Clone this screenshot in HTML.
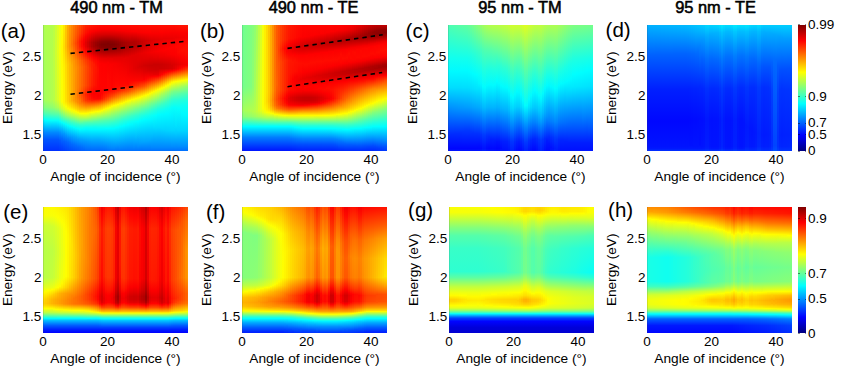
<!DOCTYPE html>
<html><head><meta charset="utf-8"><style>html,body{margin:0;padding:0;background:#fff;}
body{width:844px;height:368px;position:relative;overflow:hidden;font-family:"Liberation Sans",sans-serif;color:#000;}
.hm{position:absolute;width:145px;height:126px;overflow:hidden;}
.hm i{position:absolute;top:0;height:126px;display:block;}
.t{position:absolute;white-space:nowrap;line-height:1;}
.ttl{font-weight:normal;font-size:16.4px;-webkit-text-stroke:0.55px #000;width:200px;text-align:center;}
.pl{font-size:20.5px;}
.yt{font-size:13.5px;width:40px;text-align:right;}
.xt{font-size:13.5px;width:40px;text-align:center;}
.xl{font-size:13.7px;width:200px;text-align:center;}
.yl{font-size:13.6px;width:120px;text-align:center;transform:rotate(-90deg);transform-origin:center center;}
.cl{font-size:13.5px;}
.cb{position:absolute;width:8px;height:126px;left:798px;}
.dl{position:absolute;}
.hm::after{content:"";position:absolute;left:0;top:0;width:1px;height:126px;background:rgba(60,60,60,.15);}
</style></head><body>
<div class="hm" style="left:43px;top:25px"><i style="left:0px;width:2px;background:linear-gradient(#acff53 0px,#9fff60 75.5px,#7fff80 82.5px,#4affb5 88.5px,#03fffc 94.5px,#0083ff 107.5px,#0052ff 115.5px,#0030ff 126px)"></i><i style="left:2px;width:2px;background:linear-gradient(#b2ff4d 0px,#a6ff59 75.5px,#85ff7a 82.5px,#50ffaf 88.5px,#00feff 95.5px,#0088ff 107.5px,#0055ff 114.5px,#0030ff 126px)"></i><i style="left:4px;width:2px;background:linear-gradient(#b3ff4c 0px,#a9ff56 75.5px,#88ff77 82.5px,#53ffac 88.5px,#02fffd 95.5px,#0088ff 107.5px,#0055ff 114.5px,#0030ff 126px)"></i><i style="left:6px;width:2px;background:linear-gradient(#b3ff4c 0px,#acff53 75.5px,#8bff74 82.5px,#56ffa9 88.5px,#03fffc 95.5px,#0088ff 107.5px,#0055ff 114.5px,#0030ff 126px)"></i><i style="left:8px;width:2px;background:linear-gradient(#b3ff4c 0px,#b1ff4e 74.5px,#8eff71 82.5px,#59ffa6 88.5px,#05fffa 95.5px,#00d6ff 99.5px,#0088ff 107.5px,#0055ff 114.5px,#0030ff 126px)"></i><i style="left:10px;width:2px;background:linear-gradient(#bbff44 0px,#bdff42 30.5px,#b7ff48 75.5px,#95ff6a 82.5px,#50ffaf 89.5px,#06fff9 95.5px,#00e1ff 98.5px,#0088ff 107.5px,#0055ff 114.5px,#0030ff 126px)"></i><i style="left:12px;width:2px;background:linear-gradient(#cbff34 0px,#cfff30 27.5px,#c9ff36 74.5px,#a1ff5e 82.5px,#53ffac 89.5px,#06fff9 95.5px,#00e1ff 98.5px,#0088ff 107.5px,#0055ff 114.5px,#0030ff 126px)"></i><i style="left:14px;width:2px;background:linear-gradient(#dcff23 0px,#e2ff1d 25.5px,#dbff24 65.5px,#d9ff26 74.5px,#adff52 82.5px,#4affb5 90.5px,#08fff7 95.5px,#00efff 97.5px,#0089ff 107.5px,#0056ff 114.5px,#0030ff 126px)"></i><i style="left:16px;width:2px;background:linear-gradient(#ecff13 0px,#f4ff0b 24.5px,#ecff13 51.5px,#eaff15 74.5px,#ceff31 80.5px,#aaff55 84.5px,#3cffc3 92.5px,#06fff9 96.5px,#00ecff 98.5px,#0090ff 107.5px,#0057ff 115.5px,#0034ff 126px)"></i><i style="left:18px;width:2px;background:linear-gradient(#fcfe03 0px,#fff700 24.5px,#fbfe04 56.5px,#f9ff06 76.5px,#caff35 83.5px,#5effa1 91.5px,#05fffa 97.5px,#00b4ff 104.5px,#0069ff 113.5px,#0046ff 121.5px,#0038ff 126px)"></i><i style="left:20px;width:2px;background:linear-gradient(#ffe900 0px,#ffde00 22.5px,#fff000 42.5px,#fff500 77.5px,#f3ff0c 80.5px,#d2ff2d 84.5px,#6fff90 91.5px,#11ffee 97.5px,#03fffc 98.5px,#0098ff 108.5px,#005eff 116.5px,#003cff 126px)"></i><i style="left:22px;width:2px;background:linear-gradient(#ffc800 0px,#ffbf00 21.5px,#ffdb00 40.5px,#ffe100 76.5px,#fbff04 81.5px,#e3ff1c 84.5px,#8fff70 90.5px,#2bffd4 96.5px,#03fefc 99.5px,#0092ff 110.5px,#0064ff 116.5px,#0040ff 126px)"></i><i style="left:24px;width:2px;background:linear-gradient(#ffaa00 0px,#ffa200 21.5px,#ffc700 39.5px,#ffcf00 75.5px,#ffdc00 78.5px,#fcfe03 83.5px,#9eff61 90.5px,#45ffba 95.5px,#02fefd 100.5px,#0081ff 113.5px,#0065ff 117.5px,#0044ff 126px)"></i><i style="left:26px;width:2px;background:linear-gradient(#ff9700 0px,#ff8d00 13.5px,#ff8c00 21.5px,#ffb700 38.5px,#ffc000 76.5px,#fcff03 84.5px,#a7ff58 90.5px,#40ffbf 96.5px,#00fdff 101.5px,#0091ff 112.5px,#006cff 117.5px,#0048ff 126px)"></i><i style="left:28px;width:2px;background:linear-gradient(#ff8600 0px,#ff7d00 11.5px,#ff7500 19.5px,#ff9200 29.5px,#ffab00 40.5px,#ffad00 75.5px,#ffd900 81.5px,#fff800 84.5px,#edff12 86.5px,#afff50 90.5px,#39ffc6 97.5px,#06fff9 101.5px,#00efff 103.5px,#0098ff 112.5px,#0068ff 119.5px,#004bff 126px)"></i><i style="left:30px;width:2px;background:linear-gradient(#ff7500 0px,#ff6b00 10.5px,#ff5e00 18.5px,#ff6f00 25.5px,#ff9600 36.5px,#ff9e00 47.5px,#ff9c00 75.5px,#ffd700 82.5px,#fffa00 85.5px,#ebff14 87.5px,#41ffbe 97.5px,#02fffd 102.5px,#00a7ff 111.5px,#006dff 119.5px,#004fff 126px)"></i><i style="left:32px;width:2px;background:linear-gradient(#ff6600 0px,#ff5800 10.5px,#ff4700 18.5px,#ff5600 24.5px,#ff8500 35.5px,#ff9000 43.5px,#ff8b00 64.5px,#ff8900 72.5px,#ff9200 76.5px,#ffd400 83.5px,#fffb00 86.5px,#e7ff18 88.5px,#3affc5 98.5px,#00fcff 103.5px,#00a4ff 112.5px,#006cff 120.5px,#0052ff 126px)"></i><i style="left:34px;width:2px;background:linear-gradient(#ff5800 0px,#ff4900 9.5px,#ff3100 17.5px,#ff3c00 23.5px,#ff7600 35.5px,#ff8200 42.5px,#ff7e00 62.5px,#ff7300 70.5px,#ff8a00 77.5px,#ffd200 84.5px,#fffd00 87.5px,#beff41 91.5px,#31ffce 99.5px,#04fffb 103.5px,#009aff 114.5px,#0065ff 122.5px,#0056ff 126px)"></i><i style="left:36px;width:2px;background:linear-gradient(#ff4b00 0px,#ff3b00 8.5px,#ff1b00 16.5px,#ff1e00 21.5px,#ff6700 35.5px,#ff7400 42.5px,#ff7100 61.5px,#ff5f00 70.5px,#ff8200 78.5px,#ffc600 84.5px,#fbff04 88.5px,#28ffd7 100.5px,#00feff 104.5px,#00a7ff 113.5px,#006eff 121.5px,#0059ff 126px)"></i><i style="left:38px;width:2px;background:linear-gradient(#ff3d00 0px,#ff2a00 8.5px,#ff0800 16.5px,#ff0a00 21.5px,#ff5900 35.5px,#ff6700 42.5px,#ff6400 60.5px,#ff4b00 70.5px,#ff6400 76.5px,#ff9b00 81.5px,#ffe100 86.5px,#feff01 88.5px,#a5ff5a 93.5px,#36ffc9 99.5px,#08fff7 103.5px,#00f3ff 105.5px,#00a1ff 114.5px,#006cff 122.5px,#005dff 126px)"></i><i style="left:40px;width:2px;background:linear-gradient(#ff2f00 0px,#ff1a00 8.5px,#fb0100 14.5px,#f10000 19.5px,#ff0600 24.5px,#ff4600 34.5px,#ff5900 41.5px,#ff5600 60.5px,#ff3600 69.5px,#ff4900 75.5px,#ff8600 80.5px,#ffff00 88.5px,#baff45 92.5px,#54ffab 97.5px,#0efff1 102.5px,#00fbff 104.5px,#009cff 115.5px,#0065ff 124.5px,#0060ff 126px)"></i><i style="left:42px;width:2px;background:linear-gradient(#ff2200 0px,#ff1000 7.5px,#fa0000 11.5px,#df0000 17.5px,#e20000 21.5px,#fe0300 26.5px,#ff3800 34.5px,#ff4b00 41.5px,#ff4800 60.5px,#ff2200 69.5px,#ff3600 75.5px,#ff8d00 81.5px,#ffff00 88.5px,#bbff44 92.5px,#50ffaf 97.5px,#0bfff4 102.5px,#00f9ff 104.5px,#0097ff 116.5px,#0063ff 126px)"></i><i style="left:44px;width:2px;background:linear-gradient(#ff1e00 0px,#ff0800 7.5px,#f50000 10.5px,#d00000 17.5px,#d10000 21.5px,#ff0400 28.5px,#ff3000 35.5px,#ff3f00 42.5px,#ff3a00 60.5px,#ff1500 69.5px,#ff2500 74.5px,#ff3b00 76.5px,#fff400 87.5px,#faff05 88.5px,#b4ff4b 92.5px,#4effb1 97.5px,#0bfff4 102.5px,#00f9ff 104.5px,#009aff 116.5px,#0064ff 126px)"></i><i style="left:46px;width:2px;background:linear-gradient(#ff1a00 0px,#ff0100 7.5px,#c10000 17.5px,#c10000 21.5px,#e30000 26.5px,#fd0100 29.5px,#ff2800 36.5px,#ff3300 43.5px,#ff2d00 60.5px,#ff0a00 69.5px,#ff1c00 74.5px,#ff3700 76.5px,#fffa00 87.5px,#c0ff3f 91.5px,#4dffb2 97.5px,#0cfff3 102.5px,#00faff 104.5px,#009cff 116.5px,#0064ff 126px)"></i><i style="left:48px;width:2px;background:linear-gradient(#ff1700 0px,#fe0100 6.5px,#b20000 17.5px,#b10000 21.5px,#d50000 26.5px,#fe0200 31.5px,#ff2000 37.5px,#ff2700 47.5px,#ff2000 60.5px,#fe0100 69.5px,#ff0d00 73.5px,#ff1f00 75.5px,#ffcf00 84.5px,#fdff02 87.5px,#80ff7f 94.5px,#3effc1 98.5px,#0cfff3 102.5px,#00faff 104.5px,#009eff 116.5px,#0065ff 126px)"></i><i style="left:50px;width:2px;background:linear-gradient(#ff1400 0px,#fb0000 6.5px,#a60000 17.5px,#a40000 21.5px,#c90000 26.5px,#fd0000 32.5px,#ff1b00 39.5px,#ff1800 59.5px,#fb0000 68.5px,#ff0300 72.5px,#ff0f00 74.5px,#ff3400 76.5px,#ffd400 84.5px,#fff600 86.5px,#f8ff07 87.5px,#58ffa7 96.5px,#15ffea 101.5px,#00faff 104.5px,#00a5ff 115.5px,#0065ff 126px)"></i><i style="left:52px;width:2px;background:linear-gradient(#ff1100 0px,#fe0000 5.5px,#c50000 12.5px,#9d0000 17.5px,#980000 20.5px,#ad0000 24.5px,#f60000 32.5px,#ff0700 35.5px,#ff1500 42.5px,#ff0f00 60.5px,#fa0000 68.5px,#ff0600 73.5px,#ff1000 74.5px,#ffc700 83.5px,#fffb00 86.5px,#c0ff3f 90.5px,#55ffaa 96.5px,#15ffea 101.5px,#00faff 104.5px,#00a5ff 115.5px,#0065ff 126px)"></i><i style="left:54px;width:2px;background:linear-gradient(#ff0e00 0px,#fb0000 5.5px,#ca0000 11.5px,#950000 17.5px,#8f0000 20.5px,#a40000 24.5px,#ee0000 32.5px,#ff0300 36.5px,#ff0d00 45.5px,#ff0600 62.5px,#fa0000 70.5px,#ff0600 73.5px,#ff1100 74.5px,#ffa600 81.5px,#feff01 86.5px,#82ff7d 93.5px,#52ffad 96.5px,#0cfff3 102.5px,#00faff 104.5px,#00a5ff 115.5px,#0065ff 126px)"></i><i style="left:56px;width:2px;background:linear-gradient(#ff0b00 0px,#f90000 5.5px,#d10000 10.5px,#950000 16.5px,#870000 19.5px,#8d0000 22.5px,#c40000 28.5px,#ee0000 33.5px,#ff0100 38.5px,#ff0400 58.5px,#fd0000 70.5px,#ff0800 73.5px,#ff1600 74.5px,#ff9a00 80.5px,#fff400 85.5px,#f9ff06 86.5px,#5bffa4 95.5px,#0cfff3 102.5px,#00faff 104.5px,#00a6ff 115.5px,#0065ff 126px)"></i><i style="left:58px;width:2px;background:linear-gradient(#ff0b00 0px,#fd0000 4.5px,#d90000 9.5px,#910000 16.5px,#820000 19.5px,#890000 22.5px,#c10000 28.5px,#ec0000 33.5px,#fe0000 38.5px,#ff0300 59.5px,#ff0200 68.5px,#ff1700 73.5px,#ff2500 74.5px,#ffa700 80.5px,#fdfe02 85.5px,#8aff75 92.5px,#58ffa7 95.5px,#0cfff3 102.5px,#00f9ff 104.5px,#00a1ff 116.5px,#006fff 124.5px,#0066ff 126px)"></i><i style="left:60px;width:2px;background:linear-gradient(#ff0a00 0px,#fd0000 4.5px,#d80000 9.5px,#8e0000 16.5px,#800000 19.5px,#860000 22.5px,#b40000 27.5px,#eb0000 33.5px,#ff0000 39.5px,#ff0300 61.5px,#ff0400 66.5px,#ff2000 72.5px,#ff3700 74.5px,#ffb600 80.5px,#fffc00 84.5px,#94ff6b 91.5px,#55ffaa 95.5px,#0bfff4 102.5px,#00f9ff 104.5px,#00a3ff 116.5px,#0071ff 124.5px,#0068ff 126px)"></i><i style="left:62px;width:2px;background:linear-gradient(#ff0a00 0px,#fd0000 4.5px,#d70000 9.5px,#8c0000 16.5px,#800000 19.5px,#840000 22.5px,#b30000 27.5px,#ea0000 33.5px,#fe0000 39.5px,#ff0300 62.5px,#ff0300 65.5px,#ff2600 71.5px,#ff4800 74.5px,#ffc400 80.5px,#fff800 83.5px,#e7ff18 85.5px,#52ffad 95.5px,#01fffe 103.5px,#009fff 117.5px,#0073ff 124.5px,#006aff 126px)"></i><i style="left:64px;width:2px;background:linear-gradient(#ff0a00 0px,#fd0000 4.5px,#d70000 9.5px,#8c0000 16.5px,#800000 18.5px,#830000 22.5px,#b20000 27.5px,#e30000 32.5px,#fa0000 37.5px,#ff0600 54.5px,#ff0500 65.5px,#ff3300 71.5px,#ff5900 74.5px,#ffd300 80.5px,#fff400 82.5px,#f9ff06 83.5px,#4fffb0 95.5px,#01fffe 103.5px,#00a1ff 117.5px,#007eff 123.5px,#006cff 126px)"></i><i style="left:66px;width:2px;background:linear-gradient(#ff0a00 0px,#fd0000 4.5px,#d70000 9.5px,#8c0000 16.5px,#800000 19.5px,#840000 22.5px,#be0000 28.5px,#e90000 33.5px,#fc0000 39.5px,#ff0700 65.5px,#ff3f00 71.5px,#ff7c00 75.5px,#ffe100 80.5px,#fcff03 82.5px,#4cffb3 95.5px,#00ffff 103.5px,#00a3ff 117.5px,#0081ff 123.5px,#006eff 126px)"></i><i style="left:68px;width:2px;background:linear-gradient(#ff0a00 0px,#fd0000 4.5px,#d80000 9.5px,#8e0000 16.5px,#800000 19.5px,#860000 22.5px,#be0000 28.5px,#e90000 33.5px,#fb0000 39.5px,#ff0300 64.5px,#ff1d00 67.5px,#ff4b00 71.5px,#ff9f00 76.5px,#fff000 80.5px,#fdfd02 81.5px,#92ff6d 89.5px,#34ffcb 97.5px,#00feff 103.5px,#00a5ff 117.5px,#0083ff 123.5px,#006fff 126px)"></i><i style="left:70px;width:2px;background:linear-gradient(#ff0b00 0px,#fd0000 4.5px,#d90000 9.5px,#910000 16.5px,#820000 19.5px,#890000 22.5px,#e20000 32.5px,#f80000 38.5px,#ff0500 58.5px,#ff0700 64.5px,#ff2400 67.5px,#ff5800 71.5px,#ffc200 77.5px,#fffc00 80.5px,#8aff75 89.5px,#30ffcf 97.5px,#00fdff 103.5px,#00a0ff 118.5px,#0084ff 123.5px,#0070ff 126px)"></i><i style="left:72px;width:2px;background:linear-gradient(#ff0b00 0px,#f90000 5.5px,#d10000 10.5px,#950000 16.5px,#870000 19.5px,#8d0000 22.5px,#e20000 32.5px,#f70000 38.5px,#ff0500 56.5px,#ff0f00 64.5px,#ff2f00 67.5px,#ff7600 72.5px,#ffe100 78.5px,#fff500 79.5px,#f9ff06 80.5px,#9aff65 87.5px,#3effc1 95.5px,#02fffd 102.5px,#0095ff 120.5px,#007aff 124.5px,#0070ff 126px)"></i><i style="left:74px;width:2px;background:linear-gradient(#ff0b00 0px,#fa0000 5.5px,#d30000 10.5px,#990000 16.5px,#8c0000 19.5px,#920000 22.5px,#e30000 32.5px,#f50000 38.5px,#ff0500 55.5px,#ff0b00 61.5px,#ff1e00 65.5px,#ff8300 72.5px,#fefe01 79.5px,#92ff6d 87.5px,#38ffc7 95.5px,#00feff 102.5px,#009aff 119.5px,#0079ff 124.5px,#0070ff 126px)"></i><i style="left:76px;width:2px;background:linear-gradient(#ff0b00 0px,#fb0000 5.5px,#cc0000 11.5px,#980000 17.5px,#910000 20.5px,#a40000 24.5px,#e30000 32.5px,#f30000 38.5px,#ff0400 55.5px,#ff0800 60.5px,#ff2600 65.5px,#ff9000 72.5px,#fff800 78.5px,#e5ff1a 80.5px,#72ff8d 89.5px,#29ffd6 96.5px,#02fffd 101.5px,#0082ff 123.5px,#0070ff 126px)"></i><i style="left:78px;width:2px;background:linear-gradient(#ff0b00 0px,#fc0000 5.5px,#d00000 11.5px,#9e0000 17.5px,#9a0000 21.5px,#b90000 26.5px,#e40000 32.5px,#f20000 39.5px,#ff0400 55.5px,#ff0800 60.5px,#ff2e00 65.5px,#ffc000 74.5px,#fbff04 78.5px,#8eff71 86.5px,#34ffcb 94.5px,#00fdff 101.5px,#0081ff 123.5px,#006fff 126px)"></i><i style="left:80px;width:2px;background:linear-gradient(#ff0c00 0px,#fd0000 5.5px,#d30000 11.5px,#a40000 17.5px,#a00000 21.5px,#c50000 27.5px,#e80000 33.5px,#ff0300 54.5px,#ff0900 60.5px,#ff3600 65.5px,#fefd01 77.5px,#86ff79 86.5px,#2dffd2 94.5px,#01fffe 100.5px,#0080ff 123.5px,#006fff 126px)"></i><i style="left:82px;width:2px;background:linear-gradient(#ff0c00 0px,#f90000 6.5px,#a90000 17.5px,#a60000 21.5px,#e50000 32.5px,#ff0300 55.5px,#ff0a00 60.5px,#ff4d00 66.5px,#fffa00 76.5px,#bcff43 81.5px,#45ffba 91.5px,#18ffe7 96.5px,#00fbff 100.5px,#007fff 123.5px,#006fff 126px)"></i><i style="left:84px;width:2px;background:linear-gradient(#ff0c00 0px,#fa0000 6.5px,#ac0000 17.5px,#ab0000 21.5px,#e50000 32.5px,#f40000 47.5px,#ff0300 55.5px,#ff0500 59.5px,#ff2300 62.5px,#ff5600 66.5px,#fff700 75.5px,#f8ff07 76.5px,#a6ff59 82.5px,#3dffc2 91.5px,#13ffec 96.5px,#00feff 99.5px,#007eff 123.5px,#006fff 126px)"></i><i style="left:86px;width:2px;background:linear-gradient(#ff0c00 0px,#fb0000 6.5px,#af0000 17.5px,#af0000 21.5px,#e30000 31.5px,#ed0000 45.5px,#ff0300 55.5px,#ff1200 60.5px,#ff6100 66.5px,#fdff02 75.5px,#9fff60 82.5px,#38ffc7 91.5px,#0ffff0 96.5px,#00fbff 99.5px,#007eff 123.5px,#006fff 126px)"></i><i style="left:88px;width:2px;background:linear-gradient(#ff0d00 0px,#fc0000 6.5px,#c80000 13.5px,#af0000 17.5px,#b30000 21.5px,#e20000 30.5px,#e50000 37.5px,#eb0000 45.5px,#ff0300 55.5px,#ff1900 60.5px,#ff6d00 66.5px,#fffa00 74.5px,#c9ff36 78.5px,#3cffc3 90.5px,#0bfff4 96.5px,#00f9ff 99.5px,#007eff 123.5px,#006fff 126px)"></i><i style="left:90px;width:2px;background:linear-gradient(#ff0d00 0px,#fd0000 6.5px,#d10000 12.5px,#b30000 16.5px,#af0000 19.5px,#e30000 30.5px,#e30000 43.5px,#ff0300 55.5px,#ff2100 60.5px,#ff7800 66.5px,#fff300 73.5px,#fbff04 74.5px,#8fff70 82.5px,#36ffc9 90.5px,#08fff7 96.5px,#00f1ff 100.5px,#0086ff 122.5px,#006fff 126px)"></i><i style="left:92px;width:2px;background:linear-gradient(#ff0d00 0px,#fe0000 6.5px,#d20000 12.5px,#b50000 16.5px,#b20000 19.5px,#e30000 29.5px,#e20000 36.5px,#e00000 43.5px,#ff0400 55.5px,#ff2800 60.5px,#ff9600 67.5px,#fffd00 73.5px,#7bff84 83.5px,#30ffcf 90.5px,#04fffb 96.5px,#00b9ff 112.5px,#007eff 123.5px,#006fff 126px)"></i><i style="left:94px;width:2px;background:linear-gradient(#ff0d00 0px,#fa0000 7.5px,#ba0000 16.5px,#bb0000 20.5px,#e30000 28.5px,#e40000 34.5px,#db0000 42.5px,#ff0400 55.5px,#ff2f00 60.5px,#ffb300 68.5px,#fff700 72.5px,#f7ff08 73.5px,#74ff8b 83.5px,#2bffd4 90.5px,#01fffe 96.5px,#008cff 121.5px,#006fff 126px)"></i><i style="left:96px;width:2px;background:linear-gradient(#ff0e00 0px,#fb0000 7.5px,#c00000 16.5px,#c20000 20.5px,#e60000 28.5px,#e30000 34.5px,#d70000 41.5px,#ff0400 55.5px,#ff4500 61.5px,#fff100 71.5px,#fdff02 72.5px,#85ff7a 81.5px,#2dffd2 89.5px,#01fffe 95.5px,#009cff 118.5px,#006fff 126px)"></i><i style="left:98px;width:2px;background:linear-gradient(#ff0e00 0px,#fc0000 7.5px,#c50000 16.5px,#ca0000 20.5px,#e90000 28.5px,#e10000 34.5px,#d40000 41.5px,#f10000 50.5px,#ff0500 55.5px,#ff4d00 61.5px,#fffc00 71.5px,#64ff9b 83.5px,#1fffe0 90.5px,#00fcff 95.5px,#00a1ff 117.5px,#0077ff 124.5px,#006fff 126px)"></i><i style="left:100px;width:2px;background:linear-gradient(#ff0e00 0px,#fd0000 7.5px,#cd0000 15.5px,#cd0000 19.5px,#ea0000 27.5px,#e40000 33.5px,#d10000 40.5px,#df0000 46.5px,#fd0000 54.5px,#ff1400 56.5px,#ff5600 61.5px,#fff700 70.5px,#e8ff17 72.5px,#5dffa2 83.5px,#1affe5 90.5px,#00feff 94.5px,#00a6ff 116.5px,#007eff 123.5px,#006fff 126px)"></i><i style="left:102px;width:2px;background:linear-gradient(#ff0e00 0px,#fe0000 7.5px,#d10000 15.5px,#d30000 19.5px,#ed0000 27.5px,#e30000 33.5px,#cf0000 40.5px,#dd0000 46.5px,#ff0100 53.5px,#ff0f00 55.5px,#ff6500 61.5px,#fff300 69.5px,#fbff04 70.5px,#9cff63 77.5px,#40ffbf 85.5px,#15ffea 90.5px,#00fcff 94.5px,#00a5ff 116.5px,#007eff 123.5px,#006fff 126px)"></i><i style="left:104px;width:2px;background:linear-gradient(#ff0e00 0px,#fe0000 7.5px,#d50000 15.5px,#dc0000 20.5px,#f00000 27.5px,#e30000 33.5px,#cd0000 40.5px,#d70000 45.5px,#f80000 51.5px,#ff0800 53.5px,#ff1a00 55.5px,#ff8700 62.5px,#fdfe02 69.5px,#91ff6e 77.5px,#39ffc6 85.5px,#11ffee 90.5px,#00faff 94.5px,#00a9ff 115.5px,#007eff 123.5px,#006fff 126px)"></i><i style="left:106px;width:2px;background:linear-gradient(#ff0e00 0px,#ff0000 7.5px,#d90000 15.5px,#e10000 20.5px,#f20000 27.5px,#de0000 34.5px,#cb0000 40.5px,#d50000 45.5px,#f00000 50.5px,#ff0500 52.5px,#ff2400 55.5px,#ffa900 63.5px,#fefc01 68.5px,#7bff84 78.5px,#32ffcd 85.5px,#0dfff2 90.5px,#00f9ff 94.5px,#00adff 114.5px,#007eff 123.5px,#006fff 126px)"></i><i style="left:108px;width:2px;background:linear-gradient(#ff0e00 0px,#fa0000 8.5px,#dc0000 15.5px,#e90000 21.5px,#f40000 27.5px,#de0000 34.5px,#ca0000 40.5px,#d40000 45.5px,#f10000 50.5px,#fd0000 51.5px,#ff2f00 55.5px,#fffb00 67.5px,#71ff8e 78.5px,#32ffcd 84.5px,#09fff6 90.5px,#00f7ff 94.5px,#00c0ff 109.5px,#0086ff 122.5px,#006fff 126px)"></i><i style="left:110px;width:2px;background:linear-gradient(#ff0e00 0px,#fa0000 8.5px,#e00000 14.5px,#e60000 19.5px,#f60000 26.5px,#e70000 32.5px,#ca0000 39.5px,#d00000 44.5px,#e70000 49.5px,#ff0100 51.5px,#ff3900 55.5px,#fff900 66.5px,#d8ff27 69.5px,#5cffa3 79.5px,#2affd5 84.5px,#05fffa 90.5px,#00e0ff 101.5px,#0086ff 122.5px,#006fff 126px)"></i><i style="left:112px;width:2px;background:linear-gradient(#ff0e00 0px,#fa0000 8.5px,#e20000 14.5px,#e90000 19.5px,#f80000 26.5px,#e80000 32.5px,#ca0000 39.5px,#cf0000 44.5px,#e70000 49.5px,#ff0400 51.5px,#ff5700 56.5px,#fff800 65.5px,#e7ff18 67.5px,#51ffae 79.5px,#23ffdc 84.5px,#01fffe 90.5px,#00d8ff 103.5px,#0086ff 122.5px,#006fff 126px)"></i><i style="left:114px;width:2px;background:linear-gradient(#ff0e00 0px,#fa0000 8.5px,#e30000 14.5px,#f00000 20.5px,#fa0000 26.5px,#e30000 33.5px,#ca0000 39.5px,#d00000 44.5px,#e90000 49.5px,#f50000 50.5px,#ff0800 51.5px,#fff700 64.5px,#e8ff17 66.5px,#5dffa2 77.5px,#21ffde 83.5px,#00feff 89.5px,#00dbff 102.5px,#0086ff 122.5px,#006fff 126px)"></i><i style="left:116px;width:2px;background:linear-gradient(#ff0e00 0px,#fe0000 7.5px,#e50000 14.5px,#fc0000 25.5px,#ee0000 31.5px,#cb0000 39.5px,#cd0000 43.5px,#ff0400 50.5px,#fff600 63.5px,#f8ff07 64.5px,#a6ff59 70.5px,#37ffc8 80.5px,#17ffe8 84.5px,#00fdff 89.5px,#00dbff 102.5px,#0086ff 122.5px,#006fff 126px)"></i><i style="left:118px;width:2px;background:linear-gradient(#ff0e00 0px,#fe0000 7.5px,#e60000 14.5px,#fd0000 25.5px,#ee0000 31.5px,#cc0000 39.5px,#ce0000 43.5px,#ff0400 49.5px,#fff400 62.5px,#f9ff06 63.5px,#a4ff5b 69.5px,#39ffc6 79.5px,#14ffeb 84.5px,#00fbff 89.5px,#00d8ff 103.5px,#0086ff 122.5px,#006fff 126px)"></i><i style="left:120px;width:2px;background:linear-gradient(#ff0e00 0px,#fd0000 7.5px,#e80000 13.5px,#f40000 19.5px,#ff0000 25.5px,#eb0000 32.5px,#ce0000 39.5px,#cf0000 43.5px,#f80000 47.5px,#ff1300 49.5px,#ffd200 59.5px,#faff05 62.5px,#a3ff5c 68.5px,#3affc5 78.5px,#10ffef 84.5px,#00faff 89.5px,#00d5ff 104.5px,#0086ff 122.5px,#006fff 126px)"></i><i style="left:122px;width:2px;background:linear-gradient(#ff0e00 0px,#fc0000 7.5px,#e80000 13.5px,#ff0100 24.5px,#f40000 30.5px,#d00000 39.5px,#d10000 43.5px,#ff0300 47.5px,#ff3400 50.5px,#ffc100 57.5px,#fff400 60.5px,#faff05 61.5px,#a1ff5e 67.5px,#3affc5 77.5px,#10ffef 83.5px,#00fcff 88.5px,#00d2ff 105.5px,#0086ff 122.5px,#006fff 126px)"></i><i style="left:124px;width:2px;background:linear-gradient(#ff0e00 0px,#fc0000 7.5px,#e90000 13.5px,#ff0100 23.5px,#f90000 29.5px,#d20000 39.5px,#d30000 43.5px,#eb0000 45.5px,#fb0000 46.5px,#ff3000 49.5px,#ffc300 56.5px,#fff500 59.5px,#f9ff06 60.5px,#93ff6c 67.5px,#39ffc6 76.5px,#0cfff3 83.5px,#00fbff 88.5px,#00d3ff 105.5px,#0086ff 122.5px,#006fff 126px)"></i><i style="left:126px;width:2px;background:linear-gradient(#ff0e00 0px,#fb0000 7.5px,#ea0000 13.5px,#ff0200 23.5px,#fa0000 29.5px,#d40000 39.5px,#d60000 43.5px,#f10000 45.5px,#ff0400 46.5px,#ff6b00 51.5px,#ffd600 56.5px,#fff600 58.5px,#f8ff07 59.5px,#90ff6f 66.5px,#37ffc8 75.5px,#08fff7 83.5px,#00f7ff 89.5px,#00d4ff 105.5px,#0086ff 122.5px,#006fff 126px)"></i><i style="left:128px;width:2px;background:linear-gradient(#ff0e00 0px,#fa0000 7.5px,#ea0000 13.5px,#ff0200 22.5px,#fb0000 29.5px,#d60000 40.5px,#d80000 43.5px,#e30000 44.5px,#f70000 45.5px,#ff0c00 46.5px,#ffe900 56.5px,#fff900 57.5px,#e6ff19 59.5px,#82ff7d 66.5px,#35ffca 74.5px,#07fff8 82.5px,#00f3ff 90.5px,#00d5ff 105.5px,#008cff 121.5px,#006fff 126px)"></i><i style="left:130px;width:2px;background:linear-gradient(#ff0e00 0px,#fa0000 7.5px,#ec0000 13.5px,#ff0200 21.5px,#fc0000 29.5px,#db0000 39.5px,#df0000 43.5px,#fe0200 45.5px,#fff600 56.5px,#f8ff07 57.5px,#78ff87 66.5px,#2fffd0 74.5px,#04fffb 82.5px,#00d5ff 105.5px,#008cff 121.5px,#006fff 126px)"></i><i style="left:132px;width:2px;background:linear-gradient(#ff0f00 0px,#fb0000 7.5px,#ed0000 12.5px,#ff0500 21.5px,#fc0000 30.5px,#df0000 39.5px,#ea0000 43.5px,#f60000 44.5px,#ff0c00 45.5px,#fffc00 56.5px,#75ff8a 66.5px,#2dffd2 74.5px,#05fffa 82.5px,#00e2ff 100.5px,#00c9ff 108.5px,#0086ff 122.5px,#006fff 126px)"></i><i style="left:134px;width:2px;background:linear-gradient(#ff1100 0px,#fb0000 7.5px,#ef0000 12.5px,#ff0500 20.5px,#ff0600 27.5px,#f80000 32.5px,#e40000 39.5px,#f50000 43.5px,#ff0300 44.5px,#fff000 55.5px,#fbff04 56.5px,#96ff69 63.5px,#5dffa2 68.5px,#24ffdb 75.5px,#03fffc 83.5px,#00d5ff 105.5px,#008cff 121.5px,#006fff 126px)"></i><i style="left:136px;width:2px;background:linear-gradient(#ff1200 0px,#fc0000 7.5px,#f10000 12.5px,#ff0500 19.5px,#ff0900 26.5px,#fb0000 32.5px,#e80000 39.5px,#fe0200 43.5px,#ff2200 45.5px,#fff600 55.5px,#f5ff0a 56.5px,#9dff62 62.5px,#5affa5 68.5px,#22ffdd 75.5px,#04fffb 83.5px,#00d5ff 105.5px,#008cff 121.5px,#006fff 126px)"></i><i style="left:138px;width:2px;background:linear-gradient(#ff1300 0px,#fd0000 7.5px,#f20000 12.5px,#ff0400 18.5px,#ff0c00 25.5px,#fb0000 33.5px,#ed0000 39.5px,#ff0300 42.5px,#ff1a00 44.5px,#fffd00 55.5px,#a3ff5c 61.5px,#56ffa9 68.5px,#27ffd8 74.5px,#0cfff3 80.5px,#00faff 88.5px,#00d5ff 105.5px,#008cff 121.5px,#006fff 126px)"></i><i style="left:140px;width:2px;background:linear-gradient(#ff1400 0px,#fd0000 7.5px,#f40000 12.5px,#ff0300 17.5px,#ff0e00 24.5px,#fb0000 34.5px,#f10000 39.5px,#ff0200 41.5px,#ff2600 44.5px,#ffef00 54.5px,#fbff04 55.5px,#9cff63 61.5px,#53ffac 68.5px,#25ffda 74.5px,#0cfff3 80.5px,#00f9ff 89.5px,#00d5ff 105.5px,#008cff 121.5px,#006fff 126px)"></i><i style="left:142px;width:2px;background:linear-gradient(#ff1500 0px,#fa0000 8.5px,#f80000 13.5px,#ff0b00 19.5px,#ff0d00 27.5px,#fa0000 36.5px,#f60000 39.5px,#fb0000 40.5px,#ff3200 44.5px,#fff600 54.5px,#f5ff0a 55.5px,#96ff69 61.5px,#46ffb9 69.5px,#1effe1 75.5px,#09fff6 81.5px,#00f8ff 90.5px,#00d1ff 106.5px,#008cff 121.5px,#006fff 126px)"></i><i style="left:144px;width:1px;background:linear-gradient(#ff1600 0px,#fb0000 8.5px,#f90000 13.5px,#ff0e00 20.5px,#ff0a00 30.5px,#fa0000 38.5px,#ff0000 40.5px,#ff4c00 45.5px,#fffb00 54.5px,#91ff6e 61.5px,#3bffc4 70.5px,#12ffed 77.5px,#00fbff 89.5px,#00d1ff 106.5px,#008cff 121.5px,#006fff 126px)"></i></div><div class="hm" style="left:242px;top:25px"><i style="left:0px;width:2px;background:linear-gradient(#6eff90 0px,#72ff8d 61.5px,#a1ff5e 85.5px,#7dff82 92.5px,#40ffbf 97.5px,#00feff 101.5px,#007bff 112.5px,#002eff 122.5px,#0014ff 126px)"></i><i style="left:2px;width:2px;background:linear-gradient(#75ff8a 0px,#78ff87 61.5px,#a7ff58 85.5px,#8cff73 91.5px,#3affc5 97.5px,#00feff 101.5px,#007bff 112.5px,#002eff 122.5px,#0014ff 126px)"></i><i style="left:4px;width:2px;background:linear-gradient(#78ff87 0px,#7bff84 61.5px,#aaff55 85.5px,#8fff70 91.5px,#49ffb6 96.5px,#00feff 101.5px,#007bff 112.5px,#002eff 122.5px,#0014ff 126px)"></i><i style="left:6px;width:2px;background:linear-gradient(#7bff84 0px,#7eff81 61.5px,#adff52 85.5px,#92ff6d 91.5px,#5affa5 95.5px,#00feff 101.5px,#007bff 112.5px,#002eff 122.5px,#0014ff 126px)"></i><i style="left:8px;width:2px;background:linear-gradient(#7eff81 0px,#81ff7e 61.5px,#b0ff4f 85.5px,#95ff6a 91.5px,#5bffa4 95.5px,#00feff 101.5px,#007bff 112.5px,#002eff 122.5px,#0014ff 126px)"></i><i style="left:10px;width:2px;background:linear-gradient(#85ff7a 0px,#8fff70 62.5px,#b3ff4c 86.5px,#99ff66 91.5px,#6eff91 94.5px,#00feff 101.5px,#007bff 112.5px,#002eff 122.5px,#0014ff 126px)"></i><i style="left:12px;width:2px;background:linear-gradient(#8fff70 0px,#a6ff59 66.5px,#b8ff47 86.5px,#9eff61 91.5px,#72ff8d 94.5px,#00feff 101.5px,#007bff 112.5px,#002eff 122.5px,#0014ff 126px)"></i><i style="left:14px;width:2px;background:linear-gradient(#a1ff5e 0px,#c2ff3d 86.5px,#a4ff5b 91.5px,#75ff8a 94.5px,#00feff 101.5px,#007bff 112.5px,#002eff 122.5px,#0014ff 126px)"></i><i style="left:16px;width:2px;background:linear-gradient(#baff45 0px,#d4ff2b 85.5px,#aaff55 91.5px,#67ff98 95.5px,#00feff 101.5px,#007bff 112.5px,#002eff 122.5px,#0014ff 126px)"></i><i style="left:18px;width:2px;background:linear-gradient(#d6ff29 0px,#e8ff17 70.5px,#e3ff1c 85.5px,#b0ff4f 91.5px,#00feff 101.5px,#007bff 112.5px,#002eff 122.5px,#0014ff 126px)"></i><i style="left:20px;width:2px;background:linear-gradient(#f5ff0a 0px,#fafe05 83.5px,#e3ff1c 87.5px,#a6ff59 92.5px,#00feff 101.5px,#007bff 112.5px,#002eff 122.5px,#0014ff 126px)"></i><i style="left:22px;width:2px;background:linear-gradient(#fff000 0px,#ffee00 67.5px,#ffec00 78.5px,#fff800 84.5px,#efff10 87.5px,#abff54 92.5px,#0ffff0 100.5px,#00feff 101.5px,#007bff 112.5px,#002eff 122.5px,#0014ff 126px)"></i><i style="left:24px;width:2px;background:linear-gradient(#ffdb00 0px,#ffde00 66.5px,#ffd900 76.5px,#ffed00 84.5px,#f9ff06 87.5px,#b0ff4f 92.5px,#0ffff0 100.5px,#00feff 101.5px,#007bff 112.5px,#002eff 122.5px,#0014ff 126px)"></i><i style="left:26px;width:2px;background:linear-gradient(#ffc400 0px,#ffc800 66.5px,#ffc200 76.5px,#ffd300 82.5px,#ffe900 85.5px,#fffc00 87.5px,#d5ff2a 90.5px,#75ff8a 95.5px,#0ffff0 100.5px,#00feff 101.5px,#007bff 112.5px,#002eff 122.5px,#0014ff 126px)"></i><i style="left:28px;width:2px;background:linear-gradient(#ffab00 0px,#ffaf00 65.5px,#ffa500 75.5px,#ffb000 80.5px,#ffcc00 84.5px,#fff500 87.5px,#f9ff06 88.5px,#8aff75 94.5px,#0ffff0 100.5px,#00feff 101.5px,#007bff 112.5px,#002eff 122.5px,#0014ff 126px)"></i><i style="left:30px;width:2px;background:linear-gradient(#ff8f00 0px,#ff9300 65.5px,#ff8500 74.5px,#ff9400 80.5px,#ffb600 84.5px,#fffc00 88.5px,#8bff74 94.5px,#0ffff0 100.5px,#00feff 101.5px,#007bff 112.5px,#002eff 122.5px,#0014ff 126px)"></i><i style="left:32px;width:2px;background:linear-gradient(#ff7000 0px,#ff7200 30.5px,#ff7500 64.5px,#ff6300 74.5px,#ff7400 80.5px,#ff9e00 84.5px,#fbff04 89.5px,#0ffff0 100.5px,#00feff 101.5px,#007bff 112.5px,#002eff 122.5px,#0014ff 126px)"></i><i style="left:34px;width:2px;background:linear-gradient(#ff5a00 0px,#ff5600 19.5px,#ff5800 29.5px,#ff6100 59.5px,#ff5400 68.5px,#ff4900 74.5px,#ff5d00 80.5px,#ff7c00 83.5px,#ffb700 86.5px,#fffb00 89.5px,#24ffdb 99.5px,#00feff 101.5px,#007bff 112.5px,#002eff 122.5px,#0014ff 126px)"></i><i style="left:36px;width:2px;background:linear-gradient(#ff4d00 0px,#ff4800 17.5px,#ff4000 25.5px,#ff5100 38.5px,#ff5000 64.5px,#ff3700 73.5px,#ff4600 79.5px,#ff7100 83.5px,#ffaf00 86.5px,#fff500 89.5px,#f0ff0f 90.5px,#38ffc7 98.5px,#00feff 101.5px,#007bff 112.5px,#002eff 122.5px,#0014ff 126px)"></i><i style="left:38px;width:2px;background:linear-gradient(#ff3f00 0px,#ff3b00 15.5px,#ff2900 24.5px,#ff4200 36.5px,#ff4100 64.5px,#ff2500 73.5px,#ff3600 79.5px,#ff6600 83.5px,#ffa700 86.5px,#fff000 89.5px,#f5ff0a 90.5px,#4dffb2 97.5px,#00feff 101.5px,#007bff 112.5px,#002eff 122.5px,#0014ff 126px)"></i><i style="left:40px;width:2px;background:linear-gradient(#ff3400 0px,#ff3000 14.5px,#ff1600 23.5px,#ff2500 29.5px,#ff3700 37.5px,#ff3400 64.5px,#ff1400 73.5px,#ff2200 78.5px,#ff3100 80.5px,#ff6e00 84.5px,#ffea00 89.5px,#faff05 90.5px,#4dffb2 97.5px,#00feff 101.5px,#007bff 112.5px,#002eff 122.5px,#0014ff 126px)"></i><i style="left:42px;width:2px;background:linear-gradient(#ff2b00 0px,#ff2600 14.5px,#ff0600 23.5px,#ff1300 28.5px,#ff2b00 35.5px,#ff2800 64.5px,#ff0400 73.5px,#ff0e00 77.5px,#ff2300 80.5px,#ff6500 84.5px,#feff01 90.5px,#4dffb2 97.5px,#00feff 101.5px,#007bff 112.5px,#002eff 122.5px,#0014ff 126px)"></i><i style="left:44px;width:2px;background:linear-gradient(#ff2200 0px,#ff1c00 14.5px,#fd0100 21.5px,#fd0100 26.5px,#ff2100 35.5px,#ff1e00 51.5px,#ff1b00 64.5px,#fc0100 70.5px,#f30000 74.5px,#ff0400 78.5px,#ff1600 80.5px,#ff5c00 84.5px,#fffc00 90.5px,#4dffb2 97.5px,#00feff 101.5px,#007bff 112.5px,#002eff 122.5px,#0014ff 126px)"></i><i style="left:46px;width:2px;background:linear-gradient(#ff1a00 0px,#ff1500 13.5px,#fc0000 19.5px,#ef0000 23.5px,#ff0500 29.5px,#ff1800 35.5px,#ff1500 48.5px,#ff0f00 57.5px,#ff1000 64.5px,#fc0000 68.5px,#e40000 73.5px,#ef0000 77.5px,#fc0000 79.5px,#ff0a00 80.5px,#ff5500 84.5px,#fff900 90.5px,#ceff31 92.5px,#4dffb2 97.5px,#00feff 101.5px,#007cff 112.5px,#002eff 122.5px,#0015ff 126px)"></i><i style="left:48px;width:2px;background:linear-gradient(#ff1600 0px,#ff1000 13.5px,#fb0000 18.5px,#ea0000 23.5px,#ff0300 29.5px,#ff1500 35.5px,#ff1200 47.5px,#ff0600 56.5px,#ff0d00 63.5px,#fd0000 67.5px,#df0000 72.5px,#e00000 75.5px,#f80000 79.5px,#ff0700 80.5px,#ff5600 84.5px,#fff900 90.5px,#cfff30 92.5px,#50ffaf 97.5px,#03fffc 101.5px,#0075ff 113.5px,#002fff 122.5px,#0016ff 126px)"></i><i style="left:50px;width:2px;background:linear-gradient(#ff1300 0px,#ff0d00 13.5px,#fb0000 17.5px,#e70000 22.5px,#f00000 26.5px,#ff0600 30.5px,#ff1400 37.5px,#ff0e00 47.5px,#fd0000 54.5px,#ff0900 64.5px,#fa0000 67.5px,#da0000 72.5px,#db0000 75.5px,#f60000 79.5px,#ff0500 80.5px,#ff5800 84.5px,#fff900 90.5px,#d0ff2f 92.5px,#53ffac 97.5px,#07fff8 101.5px,#00edff 103.5px,#0078ff 113.5px,#0038ff 121.5px,#0018ff 126px)"></i><i style="left:52px;width:2px;background:linear-gradient(#ff1000 0px,#ff0b00 12.5px,#fb0000 16.5px,#e40000 21.5px,#e90000 25.5px,#ff0000 29.5px,#ff1100 35.5px,#ff0d00 46.5px,#fa0000 52.5px,#fa0000 57.5px,#ff0600 64.5px,#f70000 67.5px,#d60000 72.5px,#d60000 75.5px,#f30000 79.5px,#ff0400 80.5px,#ff5b00 84.5px,#fff900 90.5px,#d1ff2e 92.5px,#56ffa9 97.5px,#0bfff4 101.5px,#00fdff 102.5px,#007bff 113.5px,#0040ff 120.5px,#0019ff 126px)"></i><i style="left:54px;width:2px;background:linear-gradient(#ff0d00 0px,#ff0700 12.5px,#fb0000 15.5px,#df0000 21.5px,#e70000 25.5px,#ff0300 30.5px,#ff1000 37.5px,#ff0a00 46.5px,#f90000 51.5px,#f40000 56.5px,#ff0500 62.5px,#fb0000 66.5px,#d10000 72.5px,#d20000 75.5px,#f10000 79.5px,#ff0300 80.5px,#ff5e00 84.5px,#ffe100 89.5px,#fff900 90.5px,#d2ff2d 92.5px,#59ffa6 97.5px,#0ffff0 101.5px,#02fffd 102.5px,#007eff 113.5px,#0042ff 120.5px,#001bff 126px)"></i><i style="left:56px;width:2px;background:linear-gradient(#ff0a00 0px,#ff0600 11.5px,#fb0000 14.5px,#db0000 21.5px,#e50000 25.5px,#ff0200 30.5px,#ff0e00 38.5px,#ff0400 47.5px,#f00000 55.5px,#ff0400 62.5px,#f90000 66.5px,#ce0000 72.5px,#cf0000 75.5px,#ef0000 79.5px,#ff0100 80.5px,#ff6100 84.5px,#ffcc00 88.5px,#fff900 90.5px,#d2ff2d 92.5px,#71ff8e 96.5px,#22ffdd 100.5px,#06fff9 102.5px,#00ebff 104.5px,#0080ff 113.5px,#004aff 119.5px,#001cff 126px)"></i><i style="left:58px;width:2px;background:linear-gradient(#ff0700 0px,#ff0200 11.5px,#eb0000 16.5px,#d60000 21.5px,#e30000 25.5px,#ff0000 30.5px,#ff0c00 38.5px,#ff0400 46.5px,#ec0000 54.5px,#ff0300 62.5px,#f70000 66.5px,#ca0000 72.5px,#cc0000 75.5px,#ee0000 79.5px,#ff0100 80.5px,#ff8000 85.5px,#ffcf00 88.5px,#fff900 90.5px,#d3ff2c 92.5px,#74ff8b 96.5px,#25ffda 100.5px,#00fbff 103.5px,#0083ff 113.5px,#004cff 119.5px,#001eff 126px)"></i><i style="left:60px;width:2px;background:linear-gradient(#ff0500 0px,#fc0000 12.5px,#d40000 20.5px,#dd0000 24.5px,#ff0000 30.5px,#ff0b00 38.5px,#fd0000 47.5px,#e90000 53.5px,#f90000 59.5px,#ff0000 64.5px,#e60000 68.5px,#c80000 72.5px,#ca0000 75.5px,#ee0000 79.5px,#ff0200 80.5px,#ff9e00 86.5px,#ffe500 89.5px,#fffa00 90.5px,#d4ff2b 92.5px,#75ff8a 96.5px,#27ffd8 100.5px,#00fdff 103.5px,#0085ff 113.5px,#004dff 119.5px,#001fff 126px)"></i><i style="left:62px;width:2px;background:linear-gradient(#ff0500 0px,#fe0000 11.5px,#d20000 20.5px,#de0000 24.5px,#ff0100 30.5px,#ff0b00 39.5px,#fb0000 47.5px,#e70000 53.5px,#ff0300 62.5px,#fc0000 65.5px,#c70000 72.5px,#c90000 75.5px,#e30000 78.5px,#ff0500 80.5px,#ffd000 88.5px,#fffa00 90.5px,#d3ff2c 92.5px,#75ff8a 96.5px,#27ffd8 100.5px,#00fdff 103.5px,#0085ff 113.5px,#004cff 119.5px,#001fff 126px)"></i><i style="left:64px;width:2px;background:linear-gradient(#ff0500 0px,#fc0000 11.5px,#d20000 19.5px,#d40000 22.5px,#ff0200 30.5px,#ff0b00 39.5px,#fd0000 46.5px,#e60000 52.5px,#f10000 57.5px,#ff0200 61.5px,#fc0000 65.5px,#c70000 72.5px,#c90000 75.5px,#e40000 78.5px,#f30000 79.5px,#ff0800 80.5px,#ffd000 88.5px,#fffa00 90.5px,#d3ff2c 92.5px,#75ff8a 96.5px,#27ffd8 100.5px,#00fdff 103.5px,#0085ff 113.5px,#004cff 119.5px,#001fff 126px)"></i><i style="left:66px;width:2px;background:linear-gradient(#ff0500 0px,#fb0000 11.5px,#d00000 19.5px,#d40000 22.5px,#fe0000 29.5px,#ff0b00 38.5px,#fb0000 46.5px,#e40000 52.5px,#f10000 57.5px,#ff0200 61.5px,#fc0000 65.5px,#c70000 72.5px,#c90000 75.5px,#e50000 78.5px,#f60000 79.5px,#ff0c00 80.5px,#ffd000 88.5px,#fffa00 90.5px,#d3ff2c 92.5px,#75ff8a 96.5px,#27ffd8 100.5px,#00fdff 103.5px,#0085ff 113.5px,#004dff 119.5px,#001fff 126px)"></i><i style="left:68px;width:2px;background:linear-gradient(#ff0500 0px,#fd0000 10.5px,#ce0000 19.5px,#da0000 23.5px,#ff0000 29.5px,#ff0b00 37.5px,#fd0000 45.5px,#e20000 52.5px,#f20000 57.5px,#ff0300 61.5px,#fd0000 65.5px,#c90000 72.5px,#ca0000 75.5px,#d90000 77.5px,#fa0000 79.5px,#ff2800 81.5px,#ffe500 89.5px,#fffa00 90.5px,#d3ff2c 92.5px,#75ff8a 96.5px,#27ffd8 100.5px,#00fdff 103.5px,#0085ff 113.5px,#004dff 119.5px,#001fff 126px)"></i><i style="left:70px;width:2px;background:linear-gradient(#ff0500 0px,#fc0000 10.5px,#ce0000 18.5px,#d00000 21.5px,#ff0100 29.5px,#ff0b00 37.5px,#fb0000 45.5px,#e10000 51.5px,#e80000 55.5px,#ff0100 60.5px,#ff0200 64.5px,#f00000 67.5px,#cb0000 72.5px,#cc0000 75.5px,#db0000 77.5px,#fe0000 79.5px,#ffe500 89.5px,#fffa00 90.5px,#d3ff2c 92.5px,#75ff8a 96.5px,#27ffd8 100.5px,#00fdff 103.5px,#0085ff 113.5px,#004dff 119.5px,#001fff 126px)"></i><i style="left:72px;width:2px;background:linear-gradient(#ff0500 0px,#fe0000 9.5px,#cc0000 18.5px,#d00000 21.5px,#fd0000 28.5px,#ff0b00 37.5px,#fd0000 44.5px,#de0000 51.5px,#e80000 55.5px,#ff0200 60.5px,#ff0300 64.5px,#f20000 67.5px,#cd0000 72.5px,#cf0000 75.5px,#dd0000 77.5px,#ff0300 79.5px,#ffe500 89.5px,#fffa00 90.5px,#b9ff46 93.5px,#61ff9e 97.5px,#27ffd8 100.5px,#00fdff 103.5px,#0085ff 113.5px,#004dff 119.5px,#001fff 126px)"></i><i style="left:74px;width:2px;background:linear-gradient(#ff0500 0px,#fc0000 9.5px,#ca0000 18.5px,#d00000 21.5px,#fe0000 28.5px,#ff0b00 36.5px,#fb0000 44.5px,#de0000 50.5px,#e30000 54.5px,#ff0300 60.5px,#ff0400 64.5px,#f30000 67.5px,#d10000 72.5px,#d30000 75.5px,#e10000 77.5px,#ff0800 79.5px,#fffa00 90.5px,#a0ff5f 94.5px,#27ffd8 100.5px,#00fdff 103.5px,#0085ff 113.5px,#004dff 119.5px,#001fff 126px)"></i><i style="left:76px;width:2px;background:linear-gradient(#ff0500 0px,#fb0000 9.5px,#ca0000 17.5px,#cb0000 20.5px,#ff0000 28.5px,#ff0b00 36.5px,#fe0000 43.5px,#db0000 50.5px,#e30000 54.5px,#ff0000 59.5px,#ff0700 63.5px,#fc0000 66.5px,#d60000 72.5px,#da0000 75.5px,#e90000 77.5px,#f90000 78.5px,#ff2600 80.5px,#fffb00 90.5px,#75ff8a 96.5px,#27ffd8 100.5px,#00feff 103.5px,#0085ff 113.5px,#004dff 119.5px,#001fff 126px)"></i><i style="left:78px;width:2px;background:linear-gradient(#ff0500 0px,#fd0000 8.5px,#d80000 14.5px,#c60000 18.5px,#d80000 22.5px,#fc0000 27.5px,#ff0b00 36.5px,#fc0000 43.5px,#d90000 50.5px,#e30000 54.5px,#ff0100 59.5px,#ff0800 63.5px,#fe0000 66.5px,#db0000 72.5px,#e10000 75.5px,#ff0300 78.5px,#fffd00 90.5px,#75ff8a 96.5px,#27ffd8 100.5px,#00ffff 103.5px,#0085ff 113.5px,#004cff 119.5px,#001fff 126px)"></i><i style="left:80px;width:2px;background:linear-gradient(#ff0500 0px,#fc0000 8.5px,#c50000 17.5px,#cc0000 20.5px,#fd0000 27.5px,#ff0a00 36.5px,#fa0000 43.5px,#d90000 49.5px,#d90000 52.5px,#ff0200 59.5px,#ff0800 64.5px,#fc0000 67.5px,#e10000 72.5px,#e20000 74.5px,#fc0000 77.5px,#ff2100 79.5px,#fffe00 90.5px,#75ff8a 96.5px,#27ffd8 100.5px,#01fffe 103.5px,#0085ff 113.5px,#004dff 119.5px,#001fff 126px)"></i><i style="left:82px;width:2px;background:linear-gradient(#ff0500 0px,#fa0000 8.5px,#c60000 16.5px,#c70000 19.5px,#fe0000 27.5px,#ff0a00 35.5px,#fc0000 42.5px,#d60000 49.5px,#d90000 52.5px,#ff0300 59.5px,#ff0a00 64.5px,#f90000 68.5px,#e60000 73.5px,#fb0000 76.5px,#ff1600 78.5px,#feff01 90.5px,#75ff8a 96.5px,#28ffd7 100.5px,#01fffe 103.5px,#0085ff 113.5px,#004dff 119.5px,#001fff 126px)"></i><i style="left:84px;width:2px;background:linear-gradient(#ff0500 0px,#fc0000 7.5px,#d50000 13.5px,#c30000 16.5px,#c70000 19.5px,#ff0000 27.5px,#ff0a00 35.5px,#fa0000 42.5px,#d40000 49.5px,#d80000 52.5px,#fe0000 58.5px,#ff0c00 63.5px,#fd0000 68.5px,#ed0000 73.5px,#ff0500 76.5px,#ff3200 79.5px,#fdff02 90.5px,#75ff8a 96.5px,#28ffd7 100.5px,#02fffd 103.5px,#0085ff 113.5px,#004dff 119.5px,#001fff 126px)"></i><i style="left:86px;width:2px;background:linear-gradient(#ff0500 0px,#fb0000 7.5px,#c10000 16.5px,#c70000 19.5px,#fc0000 26.5px,#ff0a00 35.5px,#fd0000 41.5px,#d30000 48.5px,#d40000 51.5px,#ff0100 58.5px,#ff0d00 63.5px,#fd0000 69.5px,#f30000 73.5px,#ff0300 75.5px,#ff3a00 79.5px,#fbff04 90.5px,#75ff8a 96.5px,#28ffd7 100.5px,#03fffc 103.5px,#0085ff 113.5px,#004dff 119.5px,#001fff 126px)"></i><i style="left:88px;width:2px;background:linear-gradient(#ff0500 0px,#fd0000 6.5px,#de0000 11.5px,#c20000 15.5px,#c20000 18.5px,#fd0000 26.5px,#ff0a00 35.5px,#fb0000 41.5px,#d10000 48.5px,#d30000 51.5px,#ff0200 58.5px,#ff0e00 64.5px,#fa0000 72.5px,#fe0100 74.5px,#ff4300 79.5px,#fff000 89.5px,#faff05 90.5px,#75ff8a 96.5px,#28ffd7 100.5px,#04fffb 103.5px,#00c3ff 108.5px,#0085ff 113.5px,#004dff 119.5px,#001fff 126px)"></i><i style="left:90px;width:2px;background:linear-gradient(#ff0400 0px,#fc0000 6.5px,#db0000 11.5px,#bf0000 15.5px,#c30000 18.5px,#fe0000 26.5px,#ff0a00 34.5px,#fe0000 40.5px,#ce0000 48.5px,#d30000 51.5px,#fd0000 57.5px,#ff1100 64.5px,#ff0500 73.5px,#ff1700 75.5px,#ff6e00 81.5px,#ffe100 88.5px,#fff300 89.5px,#f7ff08 90.5px,#61ff9e 97.5px,#29ffd6 100.5px,#05fffa 103.5px,#00dfff 106.5px,#0086ff 113.5px,#004eff 119.5px,#001fff 126px)"></i><i style="left:92px;width:2px;background:linear-gradient(#ff0400 0px,#fa0000 6.5px,#ce0000 12.5px,#bd0000 15.5px,#c30000 18.5px,#fb0000 25.5px,#ff0a00 34.5px,#fc0000 40.5px,#ce0000 47.5px,#ce0000 50.5px,#fe0000 57.5px,#ff1600 64.5px,#ff1400 73.5px,#ff3100 76.5px,#ffb300 85.5px,#fff700 89.5px,#f3ff0c 90.5px,#4dffb2 98.5px,#1effe1 101.5px,#05fffa 103.5px,#00e1ff 106.5px,#0089ff 113.5px,#0050ff 119.5px,#0020ff 126px)"></i><i style="left:94px;width:2px;background:linear-gradient(#ff0400 0px,#fc0000 5.5px,#dc0000 10.5px,#bd0000 14.5px,#be0000 17.5px,#fc0000 25.5px,#ff0a00 34.5px,#fa0000 40.5px,#cc0000 47.5px,#ce0000 50.5px,#ff0000 57.5px,#ff1a00 64.5px,#ff2300 73.5px,#ff4b00 77.5px,#ffc900 86.5px,#fffc00 89.5px,#3bffc4 99.5px,#06fff9 103.5px,#00efff 105.5px,#0081ff 114.5px,#0043ff 121.5px,#0022ff 126px)"></i><i style="left:96px;width:2px;background:linear-gradient(#ff0300 0px,#fa0000 5.5px,#d80000 10.5px,#bb0000 14.5px,#be0000 17.5px,#fd0000 25.5px,#ff0a00 33.5px,#fd0000 39.5px,#c90000 47.5px,#ce0000 50.5px,#ff0200 57.5px,#ff1e00 64.5px,#ff3100 73.5px,#ff6300 78.5px,#ffdf00 87.5px,#feff01 89.5px,#3cffc3 99.5px,#07fff8 103.5px,#00f0ff 105.5px,#007aff 115.5px,#0023ff 126px)"></i><i style="left:98px;width:2px;background:linear-gradient(#ff0200 0px,#f80000 5.5px,#d40000 10.5px,#b80000 14.5px,#bf0000 17.5px,#f90000 24.5px,#ff0900 29.5px,#ff0400 37.5px,#f50000 40.5px,#c90000 46.5px,#c90000 49.5px,#fc0000 56.5px,#ff2500 65.5px,#ff3f00 73.5px,#ff8500 80.5px,#fff400 88.5px,#f9ff06 89.5px,#3effc1 99.5px,#08fff7 103.5px,#00f1ff 105.5px,#0072ff 116.5px,#0024ff 126px)"></i><i style="left:100px;width:2px;background:linear-gradient(#ff0100 0px,#f60000 5.5px,#b90000 13.5px,#ba0000 16.5px,#fb0000 24.5px,#ff0a00 33.5px,#fe0000 38.5px,#c60000 46.5px,#c80000 49.5px,#fe0000 56.5px,#ff3200 67.5px,#ff5400 74.5px,#ffa600 82.5px,#fff900 88.5px,#e3ff1c 90.5px,#3fffc0 99.5px,#09fff6 103.5px,#00fdff 104.5px,#006bff 117.5px,#0025ff 126px)"></i><i style="left:102px;width:2px;background:linear-gradient(#ff0000 0px,#f30000 5.5px,#b60000 13.5px,#ba0000 16.5px,#fc0000 24.5px,#ff0900 33.5px,#fc0000 38.5px,#c40000 46.5px,#c80000 49.5px,#ff0000 56.5px,#ff6100 74.5px,#ffae00 82.5px,#fffd00 88.5px,#85ff7a 95.5px,#32ffcd 100.5px,#00feff 104.5px,#0064ff 118.5px,#0027ff 126px)"></i><i style="left:104px;width:2px;background:linear-gradient(#fe0000 0px,#f00000 5.5px,#b80000 12.5px,#b50000 15.5px,#d60000 19.5px,#fe0000 24.5px,#ff0a00 32.5px,#fa0000 38.5px,#c50000 45.5px,#c30000 48.5px,#ff0200 56.5px,#ff5f00 72.5px,#ffb600 82.5px,#fbff04 88.5px,#41ffbe 99.5px,#00ffff 104.5px,#005cff 119.5px,#0028ff 126px)"></i><i style="left:106px;width:2px;background:linear-gradient(#fb0000 0px,#ec0000 5.5px,#b50000 12.5px,#b50000 15.5px,#fa0000 23.5px,#ff0900 28.5px,#ff0300 36.5px,#e90000 40.5px,#c10000 45.5px,#c30000 48.5px,#fc0000 55.5px,#ff7100 73.5px,#ffbf00 82.5px,#fefd01 87.5px,#7eff81 95.5px,#30ffcf 100.5px,#00feff 104.5px,#005cff 119.5px,#0028ff 126px)"></i><i style="left:108px;width:2px;background:linear-gradient(#f90000 0px,#e80000 5.5px,#b20000 12.5px,#b50000 15.5px,#f50000 22.5px,#ff0400 25.5px,#ff0800 33.5px,#fc0000 37.5px,#bf0000 45.5px,#c30000 48.5px,#fe0000 55.5px,#ff9200 76.5px,#ffd400 83.5px,#fffb00 86.5px,#e8ff17 88.5px,#3affc5 99.5px,#07fff8 103.5px,#00f2ff 105.5px,#005dff 119.5px,#0028ff 126px)"></i><i style="left:110px;width:2px;background:linear-gradient(#f60000 0px,#e30000 5.5px,#b30000 11.5px,#b00000 14.5px,#d30000 18.5px,#f70000 22.5px,#ff0700 26.5px,#ff0600 34.5px,#f90000 37.5px,#c00000 44.5px,#be0000 47.5px,#ff0000 55.5px,#ff5900 67.5px,#ffb600 79.5px,#ffdd00 83.5px,#f9ff06 86.5px,#37ffc8 99.5px,#06fff9 103.5px,#00e6ff 106.5px,#0054ff 120.5px,#0028ff 126px)"></i><i style="left:112px;width:2px;background:linear-gradient(#f20000 0px,#dd0000 5.5px,#af0000 11.5px,#b00000 14.5px,#f90000 22.5px,#ff0900 27.5px,#ff0500 34.5px,#f70000 37.5px,#bc0000 44.5px,#bd0000 47.5px,#fa0000 54.5px,#ff0900 56.5px,#ff4c00 64.5px,#ffb600 78.5px,#ffe600 83.5px,#fdff02 85.5px,#33ffcc 99.5px,#04fffb 103.5px,#00c5ff 109.5px,#0054ff 120.5px,#0028ff 126px)"></i><i style="left:114px;width:2px;background:linear-gradient(#ee0000 0px,#d00000 6.5px,#ab0000 11.5px,#b00000 14.5px,#f40000 21.5px,#ff0400 24.5px,#ff0800 32.5px,#fb0000 36.5px,#b90000 44.5px,#bd0000 47.5px,#fc0000 54.5px,#ff0b00 56.5px,#ff5300 64.5px,#ffc800 79.5px,#ffef00 83.5px,#fffd00 84.5px,#30ffcf 99.5px,#03fffc 103.5px,#004cff 121.5px,#0029ff 126px)"></i><i style="left:116px;width:2px;background:linear-gradient(#ea0000 0px,#c90000 6.5px,#a80000 11.5px,#b10000 14.5px,#f60000 21.5px,#ff0400 24.5px,#ff0800 32.5px,#f90000 36.5px,#bb0000 43.5px,#b80000 46.5px,#da0000 50.5px,#fe0000 54.5px,#ff1800 57.5px,#ff5a00 64.5px,#ffda00 80.5px,#fff800 83.5px,#eaff15 85.5px,#51ffae 96.5px,#01fffe 103.5px,#0055ff 120.5px,#0029ff 126px)"></i><i style="left:118px;width:2px;background:linear-gradient(#e50000 0px,#c20000 6.5px,#a70000 10.5px,#aa0000 13.5px,#f80000 21.5px,#ff0700 25.5px,#ff0500 33.5px,#f60000 36.5px,#b80000 43.5px,#b80000 46.5px,#ff0000 54.5px,#ff1b00 57.5px,#ff6100 64.5px,#ffe300 80.5px,#fdff02 83.5px,#64ff9b 94.5px,#00ffff 103.5px,#0056ff 120.5px,#0029ff 126px)"></i><i style="left:120px;width:2px;background:linear-gradient(#df0000 0px,#a30000 10.5px,#aa0000 13.5px,#f30000 20.5px,#ff0300 23.5px,#ff0800 31.5px,#fa0000 35.5px,#b40000 43.5px,#b80000 46.5px,#fa0000 53.5px,#ff1300 56.5px,#ff6000 63.5px,#ffe300 79.5px,#fdfe02 82.5px,#5dffa2 94.5px,#08fff7 102.5px,#00f3ff 104.5px,#0054ff 120.5px,#0028ff 126px)"></i><i style="left:122px;width:2px;background:linear-gradient(#da0000 0px,#a10000 9.5px,#a40000 12.5px,#cc0000 16.5px,#f50000 20.5px,#ff0400 23.5px,#ff0800 31.5px,#f80000 35.5px,#b60000 42.5px,#b20000 45.5px,#d60000 49.5px,#fc0000 53.5px,#ff1800 56.5px,#ff7000 64.5px,#ffec00 79.5px,#fcff03 81.5px,#4cffb3 95.5px,#05fffa 102.5px,#00ddff 106.5px,#0052ff 120.5px,#0028ff 126px)"></i><i style="left:124px;width:2px;background:linear-gradient(#d50000 0px,#9d0000 9.5px,#a30000 12.5px,#f60000 20.5px,#ff0500 23.5px,#ff0700 31.5px,#fc0000 34.5px,#ce0000 39.5px,#b30000 42.5px,#b20000 45.5px,#fe0000 53.5px,#ff2a00 57.5px,#ff7800 64.5px,#ffe900 78.5px,#fdff02 80.5px,#51ffae 94.5px,#02fffd 102.5px,#0048ff 121.5px,#0028ff 126px)"></i><i style="left:126px;width:2px;background:linear-gradient(#cf0000 0px,#9a0000 8.5px,#9d0000 11.5px,#c50000 15.5px,#f10000 19.5px,#ff0300 22.5px,#ff0800 30.5px,#fa0000 34.5px,#c90000 39.5px,#af0000 42.5px,#b20000 45.5px,#f90000 52.5px,#ff0000 53.5px,#ff7f00 64.5px,#fff100 78.5px,#fffd00 79.5px,#55ffaa 93.5px,#00feff 102.5px,#0047ff 121.5px,#0027ff 126px)"></i><i style="left:128px;width:2px;background:linear-gradient(#ca0000 0px,#990000 7.5px,#960000 10.5px,#af0000 13.5px,#eb0000 18.5px,#ff0000 21.5px,#ff0900 28.5px,#fd0000 33.5px,#db0000 37.5px,#b20000 41.5px,#ad0000 44.5px,#c60000 47.5px,#fb0000 52.5px,#ff0c00 54.5px,#ff8700 64.5px,#fff900 78.5px,#eaff15 80.5px,#6fff90 90.5px,#0efff1 100.5px,#00fcff 102.5px,#0045ff 121.5px,#0027ff 126px)"></i><i style="left:130px;width:2px;background:linear-gradient(#c60000 0px,#930000 7.5px,#950000 10.5px,#b10000 13.5px,#ed0000 18.5px,#ff0100 21.5px,#ff0900 28.5px,#fb0000 33.5px,#d70000 37.5px,#ae0000 41.5px,#ac0000 44.5px,#d50000 48.5px,#fd0000 52.5px,#ff0e00 54.5px,#ff8300 63.5px,#ffe000 74.5px,#fdff02 78.5px,#86ff79 87.5px,#25ffda 97.5px,#03fffc 101.5px,#00c2ff 108.5px,#004cff 120.5px,#0027ff 126px)"></i><i style="left:132px;width:2px;background:linear-gradient(#c40000 0px,#930000 6.5px,#8f0000 9.5px,#a70000 12.5px,#f10000 18.5px,#ff0300 21.5px,#ff0800 29.5px,#ff0000 32.5px,#de0000 36.5px,#b20000 40.5px,#a80000 43.5px,#bf0000 46.5px,#fa0000 51.5px,#ff1600 54.5px,#ff8800 63.5px,#fff600 76.5px,#fefe01 77.5px,#81ff7e 87.5px,#23ffdc 97.5px,#02fffd 101.5px,#00b9ff 109.5px,#0046ff 121.5px,#0029ff 126px)"></i><i style="left:134px;width:2px;background:linear-gradient(#c20000 0px,#950000 5.5px,#8c0000 8.5px,#9e0000 11.5px,#eb0000 17.5px,#ff0100 20.5px,#ff0a00 27.5px,#fe0000 32.5px,#da0000 36.5px,#ae0000 40.5px,#a80000 43.5px,#c20000 46.5px,#fe0000 51.5px,#ff2c00 55.5px,#ffa000 65.5px,#fefe01 76.5px,#deff21 79.5px,#87ff78 86.5px,#22ffdd 97.5px,#01fffe 101.5px,#009eff 112.5px,#0041ff 122.5px,#002cff 126px)"></i><i style="left:136px;width:2px;background:linear-gradient(#c10000 0px,#920000 5.5px,#8b0000 8.5px,#a10000 11.5px,#ee0000 17.5px,#ff0300 20.5px,#ff0b00 27.5px,#fc0000 32.5px,#d60000 36.5px,#aa0000 40.5px,#a40000 42.5px,#b80000 45.5px,#ff0400 51.5px,#ffa500 65.5px,#fffc00 75.5px,#e3ff1c 78.5px,#8cff73 85.5px,#30ffcf 95.5px,#00ffff 101.5px,#0083ff 115.5px,#003cff 123.5px,#002fff 126px)"></i><i style="left:138px;width:2px;background:linear-gradient(#c10000 0px,#8f0000 5.5px,#8a0000 8.5px,#a40000 11.5px,#e80000 16.5px,#ff0100 19.5px,#ff0c00 25.5px,#fb0000 32.5px,#d20000 36.5px,#a70000 40.5px,#a30000 42.5px,#bb0000 45.5px,#f90000 50.5px,#ff1500 52.5px,#ffa000 64.5px,#fff900 74.5px,#e6ff19 77.5px,#90ff6f 84.5px,#36ffc9 94.5px,#00feff 101.5px,#0086ff 115.5px,#0047ff 122.5px,#0032ff 126px)"></i><i style="left:140px;width:2px;background:linear-gradient(#c20000 0px,#8e0000 5.5px,#8b0000 8.5px,#a80000 11.5px,#ec0000 16.5px,#ff0300 19.5px,#ff0d00 25.5px,#ff0000 31.5px,#da0000 35.5px,#aa0000 39.5px,#a10000 41.5px,#b20000 44.5px,#fc0000 50.5px,#ff6400 58.5px,#ffc900 68.5px,#feff01 74.5px,#80ff7f 85.5px,#1dffe2 97.5px,#00feff 101.5px,#0089ff 115.5px,#004aff 122.5px,#0035ff 126px)"></i><i style="left:142px;width:2px;background:linear-gradient(#c30000 0px,#940000 4.5px,#880000 7.5px,#9e0000 10.5px,#f00000 16.5px,#ff0000 18.5px,#ff0e00 24.5px,#ff0400 30.5px,#f60000 32.5px,#a70000 39.5px,#a00000 41.5px,#b40000 44.5px,#ff0000 50.5px,#ff4900 55.5px,#ffc500 67.5px,#fffa00 73.5px,#c9ff36 78.5px,#83ff7c 84.5px,#23ffdc 96.5px,#00fdff 101.5px,#008cff 115.5px,#0054ff 121.5px,#0038ff 126px)"></i><i style="left:144px;width:1px;background:linear-gradient(#c40000 0px,#940000 4.5px,#890000 7.5px,#a10000 10.5px,#f20000 16.5px,#ff0200 18.5px,#ff0e00 24.5px,#ff0300 30.5px,#f50000 32.5px,#a40000 39.5px,#9f0000 41.5px,#b60000 44.5px,#ff0200 50.5px,#ff4e00 55.5px,#ffd100 68.5px,#ffff00 73.5px,#87ff78 83.5px,#29ffd6 95.5px,#00fcff 101.5px,#008eff 115.5px,#0056ff 121.5px,#003bff 126px)"></i></div><div class="hm" style="left:448px;top:25px"><i style="left:0px;width:2px;background:linear-gradient(#4cffb3 0px,#0ffff0 33.5px,#00faff 46.5px,#00e0ff 61.5px,#006fff 91.5px,#0027ff 110.5px,#0006ff 123.5px,#0014ff 126px)"></i><i style="left:2px;width:2px;background:linear-gradient(#4fffb0 0px,#10ffef 33.5px,#00faff 46.5px,#00ddff 62.5px,#007cff 88.5px,#002aff 109.5px,#0006ff 123.5px,#0014ff 126px)"></i><i style="left:4px;width:2px;background:linear-gradient(#51ffae 0px,#10ffef 33.5px,#00faff 46.5px,#00ddff 62.5px,#0085ff 86.5px,#002aff 109.5px,#0006ff 123.5px,#0014ff 126px)"></i><i style="left:6px;width:2px;background:linear-gradient(#53ffac 0px,#10ffef 33.5px,#00faff 46.5px,#00ddff 62.5px,#008aff 85.5px,#002dff 108.5px,#0006ff 123.5px,#0014ff 126px)"></i><i style="left:8px;width:2px;background:linear-gradient(#55ffaa 0px,#11ffee 33.5px,#00faff 46.5px,#00ddff 62.5px,#008fff 84.5px,#002dff 108.5px,#0006ff 123.5px,#0014ff 126px)"></i><i style="left:10px;width:2px;background:linear-gradient(#57ffa8 0px,#11ffee 33.5px,#00faff 46.5px,#00ddff 62.5px,#0094ff 83.5px,#002dff 108.5px,#0006ff 123.5px,#0014ff 126px)"></i><i style="left:12px;width:2px;background:linear-gradient(#59ffa6 0px,#11ffee 33.5px,#00fcff 45.5px,#00ddff 62.5px,#0095ff 83.5px,#0030ff 107.5px,#0006ff 123.5px,#0014ff 126px)"></i><i style="left:14px;width:2px;background:linear-gradient(#5bffa4 0px,#12ffed 33.5px,#00fcff 45.5px,#00deff 62.5px,#0096ff 83.5px,#0034ff 106.5px,#0006ff 123.5px,#0014ff 126px)"></i><i style="left:16px;width:2px;background:linear-gradient(#5dffa2 0px,#12ffed 33.5px,#00fcff 45.5px,#00deff 62.5px,#009bff 82.5px,#0037ff 105.5px,#0006ff 123.5px,#0014ff 126px)"></i><i style="left:18px;width:2px;background:linear-gradient(#5fffa0 0px,#12ffed 33.5px,#00fcff 45.5px,#00deff 62.5px,#009cff 82.5px,#0037ff 105.5px,#0006ff 123.5px,#0014ff 126px)"></i><i style="left:20px;width:2px;background:linear-gradient(#64ff9b 0px,#16ffe9 32.5px,#00fcff 46.5px,#00dfff 62.5px,#009dff 82.5px,#0037ff 105.5px,#0006ff 123.5px,#0014ff 126px)"></i><i style="left:22px;width:2px;background:linear-gradient(#6cff93 0px,#1fffe0 30.5px,#00fdff 47.5px,#00deff 63.5px,#009fff 82.5px,#0035ff 106.5px,#0006ff 123.5px,#0014ff 126px)"></i><i style="left:24px;width:2px;background:linear-gradient(#74ff8b 0px,#25ffda 29.5px,#00feff 48.5px,#00e0ff 63.5px,#00a2ff 82.5px,#0032ff 107.5px,#0006ff 123.5px,#0014ff 126px)"></i><i style="left:26px;width:2px;background:linear-gradient(#7cff83 0px,#2bffd4 28.5px,#00feff 49.5px,#00e2ff 63.5px,#00a4ff 82.5px,#0030ff 108.5px,#0006ff 123.5px,#0014ff 126px)"></i><i style="left:28px;width:2px;background:linear-gradient(#84ff7b 0px,#32ffcd 27.5px,#02fffd 49.5px,#00e4ff 63.5px,#00a6ff 82.5px,#0030ff 108.5px,#000bff 121.5px,#0006ff 123.5px,#0014ff 126px)"></i><i style="left:30px;width:2px;background:linear-gradient(#8cff73 0px,#39ffc6 26.5px,#07fff8 48.5px,#00f4ff 58.5px,#00a8ff 82.5px,#0031ff 108.5px,#000dff 120.5px,#0007ff 123.5px,#0015ff 126px)"></i><i style="left:32px;width:2px;background:linear-gradient(#95ff6a 0px,#42ffbd 25.5px,#0ffff0 47.5px,#00f9ff 58.5px,#00aeff 82.5px,#0032ff 109.5px,#000fff 121.5px,#000aff 123.5px,#0018ff 126px)"></i><i style="left:34px;width:2px;background:linear-gradient(#a0ff5f 0px,#4dffb2 24.5px,#1bffe4 46.5px,#00fdff 61.5px,#00b8ff 82.5px,#003bff 109.5px,#0019ff 120.5px,#0012ff 123.5px,#0020ff 126px)"></i><i style="left:36px;width:2px;background:linear-gradient(#a8ff57 0px,#52ffad 24.5px,#1fffe0 45.5px,#00fcff 62.5px,#00baff 82.5px,#0038ff 110.5px,#0017ff 121.5px,#0012ff 123.5px,#0020ff 126px)"></i><i style="left:38px;width:2px;background:linear-gradient(#aeff51 0px,#53ffac 24.5px,#1bffe4 45.5px,#00fbff 60.5px,#00b4ff 82.5px,#0030ff 110.5px,#0011ff 120.5px,#000aff 123.5px,#0018ff 126px)"></i><i style="left:40px;width:2px;background:linear-gradient(#b2ff4d 0px,#55ffaa 24.5px,#1cffe3 44.5px,#00fcff 59.5px,#00b2ff 82.5px,#0029ff 111.5px,#000cff 121.5px,#0007ff 123.5px,#0015ff 126px)"></i><i style="left:42px;width:2px;background:linear-gradient(#b4ff4b 0px,#54ffab 25.5px,#1bffe4 45.5px,#00fcff 59.5px,#00b3ff 82.5px,#001dff 114.5px,#0008ff 123.5px,#0015ff 126px)"></i><i style="left:44px;width:2px;background:linear-gradient(#b6ff49 0px,#54ffab 26.5px,#1dffe2 45.5px,#00fbff 60.5px,#00b4ff 82.5px,#001eff 114.5px,#0009ff 123.5px,#0015ff 126px)"></i><i style="left:46px;width:2px;background:linear-gradient(#b7ff48 0px,#4cffb3 29.5px,#1bffe4 46.5px,#00fcff 59.5px,#00b3ff 82.5px,#001aff 115.5px,#0008ff 123.5px,#0013ff 126px)"></i><i style="left:48px;width:2px;background:linear-gradient(#b8ff47 0px,#37ffc8 35.5px,#01fffe 56.5px,#00afff 82.5px,#0014ff 116.5px,#0005ff 123.5px,#000fff 126px)"></i><i style="left:50px;width:2px;background:linear-gradient(#baff45 0px,#29ffd6 40.5px,#00fcff 58.5px,#00b1ff 82.5px,#0015ff 116.5px,#0006ff 123.5px,#0010ff 126px)"></i><i style="left:52px;width:2px;background:linear-gradient(#bdff42 0px,#2effd1 40.5px,#00fdff 60.5px,#00b2ff 83.5px,#0050ff 104.5px,#001bff 116.5px,#000bff 123.5px,#0014ff 126px)"></i><i style="left:54px;width:2px;background:linear-gradient(#c0ff3f 0px,#2dffd2 42.5px,#00fdff 61.5px,#00b5ff 83.5px,#0059ff 103.5px,#001eff 116.5px,#0010ff 124.5px,#0016ff 126px)"></i><i style="left:56px;width:2px;background:linear-gradient(#c2ff3d 0px,#2cffd3 43.5px,#00fbff 62.5px,#00b3ff 84.5px,#0060ff 102.5px,#001fff 116.5px,#0011ff 124.5px,#0017ff 126px)"></i><i style="left:58px;width:2px;background:linear-gradient(#c4ff3b 0px,#2fffd0 43.5px,#00fdff 62.5px,#00b4ff 84.5px,#0068ff 101.5px,#0020ff 116.5px,#0012ff 124.5px,#0017ff 126px)"></i><i style="left:60px;width:2px;background:linear-gradient(#c8ff37 0px,#36ffc9 43.5px,#00fbff 65.5px,#00bdff 84.5px,#006fff 101.5px,#0027ff 116.5px,#0017ff 124.5px,#001cff 126px)"></i><i style="left:62px;width:2px;background:linear-gradient(#cfff30 0px,#46ffb9 42.5px,#01fcfe 70.5px,#00d2ff 83.5px,#007eff 101.5px,#0034ff 116.5px,#0023ff 124.5px,#0028ff 126px)"></i><i style="left:64px;width:2px;background:linear-gradient(#d1ff2e 0px,#47ffb8 43.5px,#00fbff 72.5px,#00d6ff 83.5px,#007fff 101.5px,#0035ff 116.5px,#0023ff 124.5px,#0028ff 126px)"></i><i style="left:66px;width:2px;background:linear-gradient(#cfff30 0px,#3dffc2 44.5px,#00fbff 69.5px,#00d1ff 82.5px,#006eff 102.5px,#0029ff 116.5px,#0016ff 124.5px,#001bff 126px)"></i><i style="left:68px;width:2px;background:linear-gradient(#cfff30 0px,#36ffc9 45.5px,#00fdff 66.5px,#00d0ff 81.5px,#0065ff 102.5px,#0020ff 116.5px,#000dff 124.5px,#0012ff 126px)"></i><i style="left:70px;width:2px;background:linear-gradient(#cfff30 0px,#56ffa9 35.5px,#13ffec 58.5px,#00faff 67.5px,#00d0ff 81.5px,#005cff 103.5px,#001cff 116.5px,#0009ff 124.5px,#000eff 126px)"></i><i style="left:72px;width:2px;background:linear-gradient(#d3ff2c 0px,#59ffa6 36.5px,#01fdfe 69.5px,#00d9ff 81.5px,#0062ff 103.5px,#0022ff 116.5px,#000dff 124.5px,#0012ff 126px)"></i><i style="left:74px;width:2px;background:linear-gradient(#d9ff26 0px,#49ffb6 45.5px,#00fbff 75.5px,#00e3ff 82.5px,#0030ff 115.5px,#0016ff 124.5px,#001bff 126px)"></i><i style="left:76px;width:2px;background:linear-gradient(#dfff20 0px,#5affa5 44.5px,#01fdfe 80.5px,#0082ff 102.5px,#0037ff 117.5px,#0023ff 124.5px,#0028ff 126px)"></i><i style="left:78px;width:2px;background:linear-gradient(#dbff24 0px,#58ffa7 44.5px,#00fbff 80.5px,#0088ff 101.5px,#003aff 116.5px,#0023ff 124.5px,#0028ff 126px)"></i><i style="left:80px;width:2px;background:linear-gradient(#d3ff2c 0px,#46ffb9 46.5px,#00fcff 74.5px,#00e1ff 82.5px,#007fff 100.5px,#002fff 115.5px,#0017ff 124.5px,#001cff 126px)"></i><i style="left:82px;width:2px;background:linear-gradient(#cdff32 0px,#3affc5 47.5px,#00fcff 70.5px,#00daff 81.5px,#007cff 99.5px,#0026ff 115.5px,#0010ff 124.5px,#0015ff 126px)"></i><i style="left:84px;width:2px;background:linear-gradient(#c7ff38 0px,#2fffd0 48.5px,#00faff 67.5px,#00cbff 82.5px,#007bff 98.5px,#0023ff 114.5px,#000aff 124.5px,#000fff 126px)"></i><i style="left:86px;width:2px;background:linear-gradient(#c3ff3c 0px,#2cffd3 48.5px,#00fdff 65.5px,#00c8ff 82.5px,#0080ff 97.5px,#0027ff 113.5px,#000aff 124.5px,#000fff 126px)"></i><i style="left:88px;width:2px;background:linear-gradient(#c1ff3e 0px,#30ffcf 48.5px,#00fcff 67.5px,#00c7ff 83.5px,#0086ff 97.5px,#002dff 113.5px,#0011ff 124.5px,#0016ff 126px)"></i><i style="left:90px;width:2px;background:linear-gradient(#c1ff3e 0px,#3bffc4 47.5px,#00fcff 70.5px,#00c8ff 85.5px,#0091ff 97.5px,#0033ff 114.5px,#001dff 124.5px,#0022ff 126px)"></i><i style="left:92px;width:2px;background:linear-gradient(#c1ff3e 0px,#4cffb3 42.5px,#09fff6 68.5px,#00f9ff 73.5px,#00b2ff 92.5px,#0037ff 115.5px,#0026ff 124.5px,#002aff 126px)"></i><i style="left:94px;width:2px;background:linear-gradient(#bbff44 0px,#36ffc9 47.5px,#01fbfe 68.5px,#00baff 87.5px,#008eff 97.5px,#0032ff 114.5px,#001dff 124.5px,#0022ff 126px)"></i><i style="left:96px;width:2px;background:linear-gradient(#b5ff4a 0px,#24ffdb 49.5px,#00fcff 63.5px,#00a7ff 88.5px,#007fff 97.5px,#002aff 113.5px,#0011ff 124.5px,#0016ff 126px)"></i><i style="left:98px;width:2px;background:linear-gradient(#b1ff4e 0px,#18ffe7 50.5px,#00fdff 60.5px,#0091ff 91.5px,#0064ff 100.5px,#001aff 115.5px,#000aff 124.5px,#000fff 126px)"></i><i style="left:100px;width:2px;background:linear-gradient(#aeff51 0px,#16ffe9 50.5px,#00faff 60.5px,#007eff 95.5px,#002bff 111.5px,#0014ff 118.5px,#000aff 124.5px,#000fff 126px)"></i><i style="left:102px;width:2px;background:linear-gradient(#aeff51 0px,#1cffe3 49.5px,#00fbff 61.5px,#007dff 96.5px,#002dff 112.5px,#0011ff 122.5px,#0015ff 126px)"></i><i style="left:104px;width:2px;background:linear-gradient(#aeff51 0px,#1fffe0 49.5px,#00fbff 62.5px,#0081ff 96.5px,#0032ff 112.5px,#0014ff 123.5px,#001aff 126px)"></i><i style="left:106px;width:2px;background:linear-gradient(#aeff51 0px,#29ffd6 47.5px,#00feff 63.5px,#0088ff 96.5px,#003bff 112.5px,#001cff 123.5px,#0022ff 126px)"></i><i style="left:108px;width:2px;background:linear-gradient(#acff53 0px,#27ffd8 47.5px,#00fbff 63.5px,#0080ff 97.5px,#0032ff 114.5px,#001dff 124.5px,#0022ff 126px)"></i><i style="left:110px;width:2px;background:linear-gradient(#a5ff5a 0px,#1dffe2 47.5px,#00fbff 60.5px,#0076ff 97.5px,#002aff 114.5px,#0016ff 124.5px,#001bff 126px)"></i><i style="left:112px;width:2px;background:linear-gradient(#9fff60 0px,#19ffe6 46.5px,#00fcff 58.5px,#0072ff 97.5px,#0023ff 115.5px,#0012ff 124.5px,#0017ff 126px)"></i><i style="left:114px;width:2px;background:linear-gradient(#99ff66 0px,#18ffe7 45.5px,#00faff 58.5px,#0070ff 97.5px,#0023ff 115.5px,#0012ff 124.5px,#0017ff 126px)"></i><i style="left:116px;width:2px;background:linear-gradient(#94ff6b 0px,#18ffe7 43.5px,#00faff 57.5px,#006bff 98.5px,#0020ff 116.5px,#0012ff 124.5px,#0017ff 126px)"></i><i style="left:118px;width:2px;background:linear-gradient(#8eff71 0px,#19ffe6 41.5px,#00fbff 56.5px,#00d2ff 69.5px,#0065ff 99.5px,#0020ff 116.5px,#0012ff 124.5px,#0017ff 126px)"></i><i style="left:120px;width:2px;background:linear-gradient(#89ff76 0px,#17ffe8 40.5px,#00fbff 55.5px,#00dfff 65.5px,#0060ff 100.5px,#001eff 117.5px,#0012ff 124.5px,#0017ff 126px)"></i><i style="left:122px;width:2px;background:linear-gradient(#83ff7c 0px,#1affe5 37.5px,#00fcff 53.5px,#00e5ff 63.5px,#005bff 101.5px,#001eff 117.5px,#0012ff 124.5px,#0017ff 126px)"></i><i style="left:124px;width:2px;background:linear-gradient(#7fff80 0px,#20ffdf 33.5px,#01fffe 49.5px,#00eaff 61.5px,#0057ff 102.5px,#001eff 117.5px,#0012ff 124.5px,#0017ff 126px)"></i><i style="left:126px;width:2px;background:linear-gradient(#7dff82 0px,#1fffe0 33.5px,#00ffff 49.5px,#00e6ff 62.5px,#0057ff 102.5px,#001eff 117.5px,#0012ff 124.5px,#0017ff 126px)"></i><i style="left:128px;width:2px;background:linear-gradient(#7cff83 0px,#1effe1 33.5px,#00ffff 48.5px,#00e8ff 61.5px,#0057ff 102.5px,#001eff 117.5px,#0012ff 124.5px,#0017ff 126px)"></i><i style="left:130px;width:2px;background:linear-gradient(#7bff84 0px,#1dffe2 33.5px,#00feff 48.5px,#00e7ff 61.5px,#0057ff 102.5px,#001eff 117.5px,#0012ff 124.5px,#0017ff 126px)"></i><i style="left:132px;width:2px;background:linear-gradient(#7aff85 0px,#1cffe3 33.5px,#00ffff 47.5px,#00e6ff 61.5px,#005bff 101.5px,#001eff 117.5px,#0012ff 124.5px,#0017ff 126px)"></i><i style="left:134px;width:2px;background:linear-gradient(#79ff86 0px,#1bffe4 33.5px,#00feff 47.5px,#00e5ff 61.5px,#007aff 93.5px,#001eff 117.5px,#0012ff 124.5px,#0017ff 126px)"></i><i style="left:136px;width:2px;background:linear-gradient(#78ff87 0px,#1affe5 33.5px,#00feff 46.5px,#00e4ff 61.5px,#0080ff 91.5px,#001eff 117.5px,#0012ff 124.5px,#0017ff 126px)"></i><i style="left:138px;width:2px;background:linear-gradient(#77ff88 0px,#19ffe6 33.5px,#00ffff 45.5px,#00e3ff 61.5px,#0085ff 89.5px,#004aff 105.5px,#001eff 117.5px,#0012ff 124.5px,#0017ff 126px)"></i><i style="left:140px;width:2px;background:linear-gradient(#76ff89 0px,#18ffe7 33.5px,#00feff 45.5px,#00e2ff 61.5px,#008bff 87.5px,#005bff 101.5px,#001eff 117.5px,#0012ff 124.5px,#0017ff 126px)"></i><i style="left:142px;width:2px;background:linear-gradient(#75ff8a 0px,#17ffe8 33.5px,#00feff 44.5px,#00e1ff 61.5px,#008dff 86.5px,#0063ff 99.5px,#001eff 117.5px,#0012ff 124.5px,#0017ff 126px)"></i><i style="left:144px;width:1px;background:linear-gradient(#74ff8b 0px,#16ffe9 33.5px,#00fdff 44.5px,#00e0ff 61.5px,#008dff 86.5px,#0063ff 99.5px,#001eff 117.5px,#0012ff 124.5px,#0017ff 126px)"></i></div><div class="hm" style="left:647px;top:25px"><i style="left:0px;width:2px;background:linear-gradient(#00b1ff 0px,#0060ff 30.5px,#001fff 64.5px,#0007ff 96.5px,#0013ff 121.5px,#0018ff 123.5px,#0030ff 126px)"></i><i style="left:2px;width:2px;background:linear-gradient(#00b2ff 0px,#0060ff 30.5px,#001fff 64.5px,#0007ff 96.5px,#0013ff 121.5px,#0018ff 123.5px,#0030ff 126px)"></i><i style="left:4px;width:2px;background:linear-gradient(#00b2ff 0px,#0060ff 30.5px,#001fff 64.5px,#0007ff 96.5px,#0013ff 121.5px,#0018ff 123.5px,#0030ff 126px)"></i><i style="left:6px;width:2px;background:linear-gradient(#00b3ff 0px,#0060ff 30.5px,#001fff 64.5px,#0007ff 96.5px,#0013ff 121.5px,#0018ff 123.5px,#0030ff 126px)"></i><i style="left:8px;width:2px;background:linear-gradient(#00b3ff 0px,#0062ff 29.5px,#001fff 64.5px,#0007ff 96.5px,#0013ff 121.5px,#0018ff 123.5px,#0030ff 126px)"></i><i style="left:10px;width:2px;background:linear-gradient(#00b4ff 0px,#0062ff 29.5px,#001fff 64.5px,#0007ff 96.5px,#0013ff 121.5px,#0018ff 123.5px,#0030ff 126px)"></i><i style="left:12px;width:2px;background:linear-gradient(#00b4ff 0px,#0062ff 29.5px,#001fff 64.5px,#0007ff 96.5px,#0013ff 121.5px,#0018ff 123.5px,#0030ff 126px)"></i><i style="left:14px;width:2px;background:linear-gradient(#00b5ff 0px,#0062ff 29.5px,#001fff 64.5px,#0007ff 96.5px,#0013ff 121.5px,#0018ff 123.5px,#0030ff 126px)"></i><i style="left:16px;width:2px;background:linear-gradient(#00b5ff 0px,#0062ff 29.5px,#001fff 64.5px,#0007ff 96.5px,#0013ff 121.5px,#0018ff 123.5px,#0030ff 126px)"></i><i style="left:18px;width:2px;background:linear-gradient(#00b6ff 0px,#0062ff 29.5px,#001fff 64.5px,#0007ff 96.5px,#0013ff 121.5px,#0018ff 123.5px,#0030ff 126px)"></i><i style="left:20px;width:2px;background:linear-gradient(#00b6ff 0px,#0062ff 29.5px,#001fff 64.5px,#0007ff 96.5px,#0013ff 121.5px,#0018ff 123.5px,#0030ff 126px)"></i><i style="left:22px;width:2px;background:linear-gradient(#00b7ff 0px,#0062ff 29.5px,#001fff 64.5px,#0007ff 96.5px,#0013ff 121.5px,#0018ff 123.5px,#0030ff 126px)"></i><i style="left:24px;width:2px;background:linear-gradient(#00b7ff 0px,#0062ff 29.5px,#001fff 64.5px,#0007ff 96.5px,#0013ff 121.5px,#0018ff 123.5px,#0030ff 126px)"></i><i style="left:26px;width:2px;background:linear-gradient(#00b8ff 0px,#0064ff 28.5px,#001fff 64.5px,#0007ff 96.5px,#0013ff 121.5px,#0018ff 123.5px,#0030ff 126px)"></i><i style="left:28px;width:2px;background:linear-gradient(#00b8ff 0px,#0064ff 28.5px,#001fff 64.5px,#0007ff 96.5px,#0013ff 121.5px,#0018ff 123.5px,#0030ff 126px)"></i><i style="left:30px;width:2px;background:linear-gradient(#00b9ff 0px,#0064ff 28.5px,#001fff 64.5px,#0007ff 96.5px,#0013ff 121.5px,#0018ff 123.5px,#0030ff 126px)"></i><i style="left:32px;width:2px;background:linear-gradient(#00b9ff 0px,#0064ff 28.5px,#001fff 64.5px,#0007ff 96.5px,#0013ff 121.5px,#0018ff 123.5px,#0030ff 126px)"></i><i style="left:34px;width:2px;background:linear-gradient(#00baff 0px,#0064ff 28.5px,#001fff 64.5px,#0007ff 96.5px,#0013ff 121.5px,#0018ff 123.5px,#0030ff 126px)"></i><i style="left:36px;width:2px;background:linear-gradient(#00baff 0px,#0064ff 28.5px,#001fff 64.5px,#0007ff 96.5px,#0013ff 121.5px,#0018ff 123.5px,#0030ff 126px)"></i><i style="left:38px;width:2px;background:linear-gradient(#00bbff 0px,#0064ff 28.5px,#001fff 64.5px,#0007ff 96.5px,#0013ff 121.5px,#0018ff 123.5px,#0030ff 126px)"></i><i style="left:40px;width:2px;background:linear-gradient(#00bcff 0px,#0065ff 28.5px,#001fff 64.5px,#0007ff 96.5px,#0013ff 121.5px,#0018ff 123.5px,#0030ff 126px)"></i><i style="left:42px;width:2px;background:linear-gradient(#00beff 0px,#0066ff 28.5px,#0021ff 63.5px,#0008ff 95.5px,#0011ff 120.5px,#0018ff 123.5px,#0030ff 126px)"></i><i style="left:44px;width:2px;background:linear-gradient(#00c0ff 0px,#0067ff 28.5px,#0022ff 63.5px,#0009ff 95.5px,#0011ff 120.5px,#0018ff 123.5px,#0030ff 126px)"></i><i style="left:46px;width:2px;background:linear-gradient(#00c2ff 0px,#0068ff 28.5px,#0023ff 63.5px,#000aff 95.5px,#0013ff 121.5px,#0018ff 123.5px,#0030ff 126px)"></i><i style="left:48px;width:2px;background:linear-gradient(#00c4ff 0px,#006aff 28.5px,#0023ff 63.5px,#000aff 95.5px,#0013ff 121.5px,#0018ff 123.5px,#0030ff 126px)"></i><i style="left:50px;width:2px;background:linear-gradient(#00c6ff 0px,#006fff 26.5px,#0024ff 63.5px,#000bff 95.5px,#0013ff 121.5px,#0018ff 123.5px,#0030ff 126px)"></i><i style="left:52px;width:2px;background:linear-gradient(#00c8ff 0px,#0082ff 20.5px,#0027ff 61.5px,#000dff 93.5px,#000fff 119.5px,#0018ff 123.5px,#0030ff 126px)"></i><i style="left:54px;width:2px;background:linear-gradient(#00caff 0px,#0093ff 15.5px,#0060ff 34.5px,#0025ff 63.5px,#000dff 95.5px,#0013ff 121.5px,#0018ff 123.5px,#0031ff 126px)"></i><i style="left:56px;width:2px;background:linear-gradient(#00cdff 0px,#009bff 13.5px,#0063ff 34.5px,#0028ff 63.5px,#000fff 95.5px,#0015ff 121.5px,#001aff 123.5px,#0032ff 126px)"></i><i style="left:58px;width:2px;background:linear-gradient(#00d5ff 0px,#00a9ff 11.5px,#006dff 33.5px,#002fff 63.5px,#0016ff 95.5px,#001bff 121.5px,#0020ff 123.5px,#0038ff 126px)"></i><i style="left:60px;width:2px;background:linear-gradient(#00d7ff 0px,#00adff 10.5px,#006eff 33.5px,#002fff 63.5px,#0016ff 95.5px,#001bff 121.5px,#0020ff 123.5px,#0038ff 126px)"></i><i style="left:62px;width:2px;background:linear-gradient(#00d3ff 0px,#00abff 9.5px,#0069ff 33.5px,#002aff 63.5px,#0011ff 95.5px,#0015ff 121.5px,#001aff 123.5px,#0032ff 126px)"></i><i style="left:64px;width:2px;background:linear-gradient(#00d3ff 0px,#00aeff 8.5px,#0068ff 33.5px,#0029ff 63.5px,#0010ff 95.5px,#0013ff 121.5px,#0018ff 123.5px,#0031ff 126px)"></i><i style="left:66px;width:2px;background:linear-gradient(#00d5ff 0px,#00afff 8.5px,#0067ff 34.5px,#0029ff 63.5px,#0011ff 95.5px,#0013ff 121.5px,#0018ff 123.5px,#0030ff 126px)"></i><i style="left:68px;width:2px;background:linear-gradient(#00d7ff 0px,#00b3ff 7.5px,#0068ff 34.5px,#002aff 63.5px,#0011ff 95.5px,#0013ff 121.5px,#0018ff 123.5px,#0030ff 126px)"></i><i style="left:70px;width:2px;background:linear-gradient(#00d9ff 0px,#00b4ff 7.5px,#0067ff 35.5px,#002bff 63.5px,#0012ff 95.5px,#0014ff 121.5px,#0019ff 123.5px,#0031ff 126px)"></i><i style="left:72px;width:2px;background:linear-gradient(#00e0ff 0px,#00bbff 7.5px,#006fff 34.5px,#0031ff 63.5px,#0018ff 95.5px,#001aff 121.5px,#001fff 123.5px,#0037ff 126px)"></i><i style="left:74px;width:2px;background:linear-gradient(#00e9ff 0px,#00c3ff 7.5px,#007aff 33.5px,#0039ff 63.5px,#0020ff 95.5px,#0022ff 121.5px,#0027ff 123.5px,#003fff 126px)"></i><i style="left:76px;width:2px;background:linear-gradient(#00e2ff 0px,#00bcff 7.5px,#0072ff 33.5px,#0031ff 63.5px,#0018ff 95.5px,#001aff 121.5px,#001fff 123.5px,#0037ff 126px)"></i><i style="left:78px;width:2px;background:linear-gradient(#00dcff 0px,#00baff 6.5px,#0071ff 31.5px,#002bff 63.5px,#0012ff 95.5px,#0014ff 121.5px,#0019ff 123.5px,#0031ff 126px)"></i><i style="left:80px;width:2px;background:linear-gradient(#00ddff 0px,#00b9ff 6.5px,#0070ff 31.5px,#002aff 63.5px,#0012ff 95.5px,#0013ff 121.5px,#0018ff 123.5px,#0030ff 126px)"></i><i style="left:82px;width:2px;background:linear-gradient(#00ddff 0px,#00baff 6.5px,#0070ff 31.5px,#002aff 63.5px,#0012ff 95.5px,#0013ff 121.5px,#0018ff 123.5px,#0031ff 126px)"></i><i style="left:84px;width:2px;background:linear-gradient(#00e0ff 0px,#00bdff 6.5px,#0072ff 31.5px,#002dff 63.5px,#0014ff 95.5px,#0016ff 121.5px,#001bff 123.5px,#0033ff 126px)"></i><i style="left:86px;width:2px;background:linear-gradient(#00ebff 0px,#00c7ff 6.5px,#007cff 31.5px,#0036ff 63.5px,#001dff 95.5px,#001fff 121.5px,#0024ff 123.5px,#003cff 126px)"></i><i style="left:88px;width:2px;background:linear-gradient(#00ebff 0px,#00c7ff 6.5px,#007eff 30.5px,#0037ff 62.5px,#001eff 94.5px,#001fff 121.5px,#0024ff 123.5px,#003cff 126px)"></i><i style="left:90px;width:2px;background:linear-gradient(#00e3ff 0px,#00beff 6.5px,#0075ff 30.5px,#002eff 62.5px,#0015ff 94.5px,#0016ff 121.5px,#001bff 123.5px,#0033ff 126px)"></i><i style="left:92px;width:2px;background:linear-gradient(#00e1ff 0px,#00bcff 6.5px,#0073ff 30.5px,#002bff 62.5px,#0012ff 94.5px,#0013ff 121.5px,#0018ff 123.5px,#0031ff 126px)"></i><i style="left:94px;width:2px;background:linear-gradient(#00e2ff 0px,#00bcff 6.5px,#0072ff 30.5px,#002bff 62.5px,#0012ff 94.5px,#0013ff 121.5px,#0018ff 123.5px,#0031ff 126px)"></i><i style="left:96px;width:2px;background:linear-gradient(#00e2ff 0px,#00bdff 6.5px,#0074ff 30.5px,#002dff 62.5px,#0013ff 97.5px,#0016ff 121.5px,#001bff 123.5px,#0032ff 126px)"></i><i style="left:98px;width:2px;background:linear-gradient(#00e6ff 0px,#00c1ff 6.5px,#0077ff 31.5px,#0034ff 62.5px,#0019ff 100.5px,#001dff 121.5px,#002bff 124.5px,#0039ff 126px)"></i><i style="left:100px;width:2px;background:linear-gradient(#00e4ff 0px,#00c0ff 6.5px,#0076ff 31.5px,#0034ff 62.5px,#001aff 101.5px,#001eff 121.5px,#002bff 124.5px,#0039ff 126px)"></i><i style="left:102px;width:2px;background:linear-gradient(#00dcff 0px,#00b8ff 6.5px,#006dff 32.5px,#002dff 62.5px,#0015ff 103.5px,#0019ff 121.5px,#0026ff 124.5px,#0033ff 126px)"></i><i style="left:104px;width:2px;background:linear-gradient(#00d8ff 0px,#00b5ff 6.5px,#0069ff 33.5px,#002cff 62.5px,#0014ff 106.5px,#0018ff 121.5px,#0025ff 124.5px,#0032ff 126px)"></i><i style="left:106px;width:2px;background:linear-gradient(#00d6ff 0px,#00b4ff 6.5px,#0066ff 34.5px,#002cff 62.5px,#0016ff 107.5px,#0019ff 121.5px,#0026ff 124.5px,#0032ff 126px)"></i><i style="left:108px;width:2px;background:linear-gradient(#00d6ff 0px,#00b5ff 6.5px,#0063ff 36.5px,#002fff 62.5px,#0019ff 107.5px,#001dff 121.5px,#0029ff 124.5px,#0035ff 126px)"></i><i style="left:110px;width:2px;background:linear-gradient(#00deff 0px,#00bdff 6.5px,#0067ff 38.5px,#0038ff 62.5px,#0023ff 108.5px,#0027ff 121.5px,#0033ff 124.5px,#003eff 126px)"></i><i style="left:112px;width:2px;background:linear-gradient(#00dcff 0px,#00bbff 6.5px,#0062ff 40.5px,#0038ff 62.5px,#0024ff 108.5px,#0028ff 121.5px,#0034ff 124.5px,#003fff 126px)"></i><i style="left:114px;width:2px;background:linear-gradient(#00d1ff 0px,#00b1ff 6.5px,#0056ff 41.5px,#002fff 62.5px,#001cff 109.5px,#0020ff 121.5px,#002bff 124.5px,#0035ff 126px)"></i><i style="left:116px;width:2px;background:linear-gradient(#00ceff 0px,#00afff 6.5px,#0054ff 41.5px,#002dff 62.5px,#001aff 109.5px,#001eff 121.5px,#0029ff 124.5px,#0033ff 126px)"></i><i style="left:118px;width:2px;background:linear-gradient(#00ceff 0px,#00acff 7.5px,#0052ff 42.5px,#002eff 62.5px,#001bff 109.5px,#001fff 121.5px,#002aff 124.5px,#0033ff 126px)"></i><i style="left:120px;width:2px;background:linear-gradient(#00ceff 0px,#00adff 7.5px,#0052ff 42.5px,#002fff 62.5px,#001cff 109.5px,#001fff 121.5px,#002aff 124.5px,#0034ff 126px)"></i><i style="left:122px;width:2px;background:linear-gradient(#00ceff 0px,#00adff 7.5px,#0055ff 41.5px,#0031ff 63.5px,#001fff 109.5px,#0022ff 121.5px,#002dff 124.5px,#0035ff 126px)"></i><i style="left:124px;width:2px;background:linear-gradient(#00ceff 0px,#00aaff 8.5px,#0061ff 37.5px,#0040ff 64.5px,#002dff 112.5px,#002fff 121.5px,#0038ff 124.5px,#0040ff 126px)"></i><i style="left:126px;width:2px;background:linear-gradient(#00ceff 0px,#00a7ff 9.5px,#006dff 33.5px,#0063ff 46.5px,#0043ff 120.5px,#004bff 124.5px,#0052ff 126px)"></i><i style="left:128px;width:2px;background:linear-gradient(#00cfff 0px,#00a8ff 9.5px,#006bff 34.5px,#0064ff 47.5px,#0044ff 120.5px,#004cff 124.5px,#0052ff 126px)"></i><i style="left:130px;width:2px;background:linear-gradient(#00cfff 0px,#00a5ff 10.5px,#005bff 40.5px,#0041ff 66.5px,#002fff 112.5px,#0031ff 121.5px,#0040ff 126px)"></i><i style="left:132px;width:2px;background:linear-gradient(#00cfff 0px,#00a2ff 11.5px,#0050ff 44.5px,#0034ff 64.5px,#0022ff 110.5px,#0026ff 121.5px,#0036ff 126px)"></i><i style="left:134px;width:2px;background:linear-gradient(#00cfff 0px,#00a0ff 12.5px,#004fff 44.5px,#0033ff 63.5px,#0020ff 109.5px,#0024ff 121.5px,#0035ff 126px)"></i><i style="left:136px;width:2px;background:linear-gradient(#00cfff 0px,#009eff 13.5px,#004fff 44.5px,#0033ff 64.5px,#0021ff 109.5px,#0025ff 121.5px,#0035ff 126px)"></i><i style="left:138px;width:2px;background:linear-gradient(#00cfff 0px,#009eff 13.5px,#004fff 44.5px,#0034ff 64.5px,#0022ff 109.5px,#0025ff 121.5px,#0035ff 126px)"></i><i style="left:140px;width:2px;background:linear-gradient(#00cfff 0px,#009eff 13.5px,#0051ff 43.5px,#0034ff 64.5px,#0022ff 109.5px,#0026ff 121.5px,#0035ff 126px)"></i><i style="left:142px;width:2px;background:linear-gradient(#00cfff 0px,#009eff 13.5px,#0051ff 43.5px,#0035ff 64.5px,#0023ff 109.5px,#0027ff 121.5px,#0035ff 126px)"></i><i style="left:144px;width:1px;background:linear-gradient(#00cfff 0px,#009cff 14.5px,#0051ff 43.5px,#0036ff 64.5px,#0024ff 109.5px,#0027ff 121.5px,#0036ff 126px)"></i></div><div class="hm" style="left:43px;top:207px"><i style="left:0px;width:2px;background:linear-gradient(#fffb00 0px,#f8ff07 8.5px,#ccff33 18.5px,#b8ff47 44.5px,#baff45 70.5px,#e0ff1f 80.5px,#fffa00 85.5px,#ffd600 92.5px,#ffcf00 96.5px,#ffde00 98.5px,#fdff02 101.5px,#bbff44 105.5px,#a2ff5d 106.5px,#1dffe2 110.5px,#00faff 111.5px,#00bdff 113.5px,#005bff 118.5px,#001fff 122.5px,#0000ff 126px)"></i><i style="left:2px;width:2px;background:linear-gradient(#fffb00 0px,#f8ff07 8.5px,#cdff32 18.5px,#b9ff46 44.5px,#bcff43 70.5px,#e2ff1d 80.5px,#fffc00 84.5px,#ffce00 92.5px,#ffc900 96.5px,#ffd900 98.5px,#ffff00 101.5px,#bbff44 105.5px,#a2ff5d 106.5px,#1dffe2 110.5px,#00faff 111.5px,#00bdff 113.5px,#005bff 118.5px,#001fff 122.5px,#0000ff 126px)"></i><i style="left:4px;width:2px;background:linear-gradient(#fffb00 0px,#f8ff07 8.5px,#ceff31 18.5px,#bbff44 44.5px,#beff41 70.5px,#e5ff1a 80.5px,#feff01 83.5px,#ffca00 91.5px,#ffc200 96.5px,#ffd500 98.5px,#fffd00 101.5px,#bbff44 105.5px,#81ff7e 107.5px,#00faff 111.5px,#00bdff 113.5px,#005bff 118.5px,#001fff 122.5px,#0000ff 126px)"></i><i style="left:6px;width:2px;background:linear-gradient(#fffb00 0px,#f8ff07 8.5px,#cfff30 18.5px,#bcff43 44.5px,#c1ff3e 70.5px,#e7ff18 80.5px,#fffb00 83.5px,#ffce00 89.5px,#ffbe00 92.5px,#ffbc00 96.5px,#ffd000 98.5px,#fffc00 101.5px,#bbff44 105.5px,#81ff7e 107.5px,#00faff 111.5px,#00bdff 113.5px,#005bff 118.5px,#001fff 122.5px,#0000ff 126px)"></i><i style="left:8px;width:2px;background:linear-gradient(#fffb00 0px,#f8ff07 8.5px,#cfff30 19.5px,#bdff42 44.5px,#c3ff3c 70.5px,#e9ff16 80.5px,#fdff02 82.5px,#ffcd00 88.5px,#ffb600 92.5px,#ffb500 96.5px,#ffcc00 98.5px,#fffa00 101.5px,#bcff43 105.5px,#81ff7e 107.5px,#00faff 111.5px,#00bdff 113.5px,#005bff 118.5px,#001fff 122.5px,#0000ff 126px)"></i><i style="left:10px;width:2px;background:linear-gradient(#fff900 0px,#faff05 8.5px,#d3ff2c 19.5px,#c2ff3d 44.5px,#c9ff36 70.5px,#efff10 80.5px,#fffa00 82.5px,#ffcb00 87.5px,#ffaf00 92.5px,#ffaf00 96.5px,#ffc600 98.5px,#fff600 101.5px,#f5ff0a 102.5px,#bdff42 105.5px,#82ff7d 107.5px,#00faff 111.5px,#00bdff 113.5px,#005bff 118.5px,#001fff 122.5px,#0000ff 126px)"></i><i style="left:12px;width:2px;background:linear-gradient(#fff600 0px,#fbff04 9.5px,#d8ff27 20.5px,#cbff34 44.5px,#d3ff2c 70.5px,#f8ff07 80.5px,#fff000 82.5px,#ffc700 86.5px,#ffa900 92.5px,#ffa900 96.5px,#ffc100 98.5px,#faff05 102.5px,#c0ff3f 105.5px,#84ff7b 107.5px,#00faff 111.5px,#00bdff 113.5px,#005bff 118.5px,#001fff 122.5px,#0000ff 126px)"></i><i style="left:14px;width:2px;background:linear-gradient(#fff300 0px,#fdff02 10.5px,#deff21 21.5px,#d4ff2b 45.5px,#ddff22 70.5px,#fffd00 80.5px,#ffbb00 86.5px,#ffa300 92.5px,#ffa400 96.5px,#ffbb00 98.5px,#fefe01 102.5px,#c4ff3b 105.5px,#85ff7a 107.5px,#1dffe2 110.5px,#00faff 111.5px,#00bdff 113.5px,#005bff 118.5px,#001fff 122.5px,#0000ff 126px)"></i><i style="left:16px;width:2px;background:linear-gradient(#fff000 0px,#fcff03 12.5px,#e5ff1a 21.5px,#deff21 46.5px,#eaff15 71.5px,#fffb00 79.5px,#ffb100 86.5px,#ff9d00 93.5px,#ff9e00 96.5px,#ffb500 98.5px,#fffa00 102.5px,#c7ff38 105.5px,#87ff78 107.5px,#1dffe2 110.5px,#00faff 111.5px,#00bdff 113.5px,#005bff 118.5px,#001fff 122.5px,#0000ff 126px)"></i><i style="left:18px;width:2px;background:linear-gradient(#ffed00 0px,#fcff03 14.5px,#edff12 23.5px,#e8ff17 48.5px,#f0ff0f 70.5px,#fffa00 76.5px,#ffe900 80.5px,#ffaa00 86.5px,#ff9700 93.5px,#ff9800 96.5px,#ffb000 98.5px,#fff800 102.5px,#dcff23 104.5px,#abff54 106.5px,#1dffe2 110.5px,#00faff 111.5px,#00bdff 113.5px,#005bff 118.5px,#001fff 122.5px,#0000ff 126px)"></i><i style="left:20px;width:2px;background:linear-gradient(#ffea00 0px,#fcff03 17.5px,#f1ff0e 46.5px,#f9ff06 70.5px,#ffec00 77.5px,#ffdd00 80.5px,#ffa400 86.5px,#ff9100 93.5px,#ff9200 96.5px,#ff9a00 97.5px,#ffe000 101.5px,#fff600 102.5px,#f3ff0c 103.5px,#c7ff38 105.5px,#87ff78 107.5px,#1dffe2 110.5px,#00faff 111.5px,#00bdff 113.5px,#005bff 118.5px,#001fff 122.5px,#0000ff 126px)"></i><i style="left:22px;width:2px;background:linear-gradient(#ffe700 0px,#fefe01 24.5px,#fefe01 69.5px,#ffd200 80.5px,#ff9e00 86.5px,#ff8b00 93.5px,#ff8c00 96.5px,#ff9500 97.5px,#ffde00 101.5px,#fff400 102.5px,#f4ff0b 103.5px,#c8ff37 105.5px,#87ff78 107.5px,#1dffe2 110.5px,#00faff 111.5px,#00bdff 113.5px,#005bff 118.5px,#001fff 122.5px,#0000ff 126px)"></i><i style="left:24px;width:2px;background:linear-gradient(#ffe200 0px,#fff600 28.5px,#fff400 69.5px,#ffc700 80.5px,#ff9800 86.5px,#ff8500 92.5px,#ff8600 96.5px,#ff8f00 97.5px,#fff100 102.5px,#f6ff09 103.5px,#c9ff36 105.5px,#88ff77 107.5px,#1dffe2 110.5px,#00faff 111.5px,#00bdff 113.5px,#005bff 118.5px,#001fff 122.5px,#0000ff 126px)"></i><i style="left:26px;width:2px;background:linear-gradient(#ffd900 0px,#ffeb00 31.5px,#ffe600 70.5px,#ffb400 81.5px,#ff8e00 87.5px,#ff7f00 93.5px,#ff8000 96.5px,#ff8a00 97.5px,#ffee00 102.5px,#f9ff06 103.5px,#ccff33 105.5px,#8aff75 107.5px,#1dffe2 110.5px,#00faff 111.5px,#00bdff 113.5px,#005bff 118.5px,#001fff 122.5px,#0000ff 126px)"></i><i style="left:28px;width:2px;background:linear-gradient(#ffd000 0px,#ffe200 39.5px,#ffdb00 70.5px,#ffaa00 81.5px,#ff8400 88.5px,#ff7900 93.5px,#ff7a00 96.5px,#ff8400 97.5px,#fcff03 103.5px,#cfff30 105.5px,#8cff73 107.5px,#1dffe2 110.5px,#00faff 111.5px,#00bdff 113.5px,#005bff 118.5px,#001fff 122.5px,#0000ff 126px)"></i><i style="left:30px;width:2px;background:linear-gradient(#ffc700 0px,#ffd500 46.5px,#ffcf00 70.5px,#ff9500 83.5px,#ff7400 91.5px,#ff7400 96.5px,#ff7f00 97.5px,#ffff00 103.5px,#d2ff2d 105.5px,#8dff72 107.5px,#1dffe2 110.5px,#00faff 111.5px,#00bdff 113.5px,#005bff 118.5px,#001fff 122.5px,#0000ff 126px)"></i><i style="left:32px;width:2px;background:linear-gradient(#ffbb00 0px,#ffc700 48.5px,#ffc100 70.5px,#ff7000 90.5px,#ff7000 96.5px,#ff7c00 97.5px,#ffff00 103.5px,#d2ff2d 105.5px,#8eff71 107.5px,#1dffe2 110.5px,#00faff 111.5px,#00bdff 113.5px,#005bff 118.5px,#001fff 122.5px,#0000ff 126px)"></i><i style="left:34px;width:2px;background:linear-gradient(#ffb000 0px,#ffba00 48.5px,#ffb200 70.5px,#ff6b00 89.5px,#ff6800 93.5px,#ff6d00 96.5px,#ff7900 97.5px,#ffff00 103.5px,#d2ff2d 105.5px,#8eff71 107.5px,#1dffe2 110.5px,#00faff 111.5px,#00bdff 113.5px,#005bff 118.5px,#001fff 122.5px,#0000ff 126px)"></i><i style="left:36px;width:2px;background:linear-gradient(#ffa400 0px,#ffac00 48.5px,#ffa100 71.5px,#ff6400 89.5px,#ff6200 93.5px,#ff6900 96.5px,#ff7600 97.5px,#ffff00 103.5px,#d2ff2d 105.5px,#8eff71 107.5px,#1dffe2 110.5px,#00faff 111.5px,#00bdff 113.5px,#005bff 118.5px,#001fff 122.5px,#0000ff 126px)"></i><i style="left:38px;width:2px;background:linear-gradient(#ff9a00 0px,#ffa200 36.5px,#ff9700 70.5px,#ff5b00 89.5px,#ff5c00 93.5px,#ff6500 96.5px,#ff7200 97.5px,#fffd00 103.5px,#d4ff2b 105.5px,#8fff70 107.5px,#1effe1 110.5px,#00fbff 111.5px,#00bdff 113.5px,#005bff 118.5px,#001fff 122.5px,#0000ff 126px)"></i><i style="left:40px;width:2px;background:linear-gradient(#ff9300 0px,#ff9600 49.5px,#ff8a00 71.5px,#ff5300 88.5px,#ff5100 92.5px,#ff5f00 96.5px,#ff6d00 97.5px,#fffa00 103.5px,#d6ff29 105.5px,#91ff6e 107.5px,#20ffdf 110.5px,#00fcff 111.5px,#00bdff 113.5px,#005bff 118.5px,#001fff 122.5px,#0000ff 126px)"></i><i style="left:42px;width:2px;background:linear-gradient(#ff8b00 0px,#ff8b00 51.5px,#ff8000 71.5px,#ff4a00 87.5px,#ff4900 92.5px,#ff5900 96.5px,#ff6800 97.5px,#fff600 103.5px,#f0ff0f 104.5px,#baff45 106.5px,#00fdff 111.5px,#00bdff 113.5px,#005bff 118.5px,#001fff 122.5px,#0000ff 126px)"></i><i style="left:44px;width:2px;background:linear-gradient(#ff8300 0px,#ff8000 54.5px,#ff7600 71.5px,#ff4000 87.5px,#ff4100 92.5px,#ff5400 96.5px,#ff6200 97.5px,#fff300 103.5px,#f3ff0c 104.5px,#bdff42 106.5px,#00feff 111.5px,#00d9ff 112.5px,#00bdff 113.5px,#005bff 118.5px,#001fff 122.5px,#0000ff 126px)"></i><i style="left:46px;width:2px;background:linear-gradient(#ff7900 0px,#ff7500 54.5px,#ff6c00 71.5px,#ff3500 87.5px,#ff3700 92.5px,#ff4d00 96.5px,#ff5c00 97.5px,#ffec00 103.5px,#faff05 104.5px,#c0ff3f 106.5px,#00feff 111.5px,#00d9ff 112.5px,#00bdff 113.5px,#005bff 118.5px,#001fff 122.5px,#0000ff 126px)"></i><i style="left:48px;width:2px;background:linear-gradient(#ff6d00 0px,#ff7200 30.5px,#ff6100 71.5px,#ff2a00 87.5px,#ff2c00 92.5px,#ff4400 96.5px,#ff5400 97.5px,#fffb00 104.5px,#e6ff19 105.5px,#9dff62 107.5px,#22ffdd 110.5px,#00fdff 111.5px,#00bdff 113.5px,#005bff 118.5px,#001fff 122.5px,#0000ff 126px)"></i><i style="left:50px;width:2px;background:linear-gradient(#ff6000 0px,#ff6b00 25.5px,#ff5700 71.5px,#ff2800 84.5px,#ff1d00 89.5px,#ff2100 92.5px,#ff3c00 96.5px,#ff4c00 97.5px,#fff200 104.5px,#ecff13 105.5px,#a0ff5f 107.5px,#20ffdf 110.5px,#00fcff 111.5px,#00bdff 113.5px,#005bff 118.5px,#001fff 122.5px,#0000ff 126px)"></i><i style="left:52px;width:2px;background:linear-gradient(#ff5300 0px,#ff6300 23.5px,#ff4c00 71.5px,#ff1c00 84.5px,#ff1100 89.5px,#ff1600 92.5px,#ff3300 96.5px,#ff4300 97.5px,#ffb700 102.5px,#ffe800 104.5px,#f2ff0d 105.5px,#a3ff5c 107.5px,#46ffb9 109.5px,#1effe1 110.5px,#00fbff 111.5px,#00bdff 113.5px,#005bff 118.5px,#001fff 122.5px,#0000ff 126px)"></i><i style="left:54px;width:2px;background:linear-gradient(#ff3c00 0px,#ff5200 22.5px,#ff3c00 71.5px,#ff0e00 84.5px,#fd0400 89.5px,#ff0600 92.5px,#ff2300 96.5px,#ff4c00 98.5px,#ffbf00 103.5px,#fbff04 105.5px,#a9ff56 107.5px,#20ffdf 110.5px,#00fdff 111.5px,#00beff 113.5px,#005cff 118.5px,#001fff 122.5px,#0000ff 126px)"></i><i style="left:56px;width:2px;background:linear-gradient(#ff1200 0px,#ff3000 22.5px,#ff1d00 71.5px,#f90200 82.5px,#e50000 89.5px,#e70000 92.5px,#fc0600 96.5px,#ff1500 97.5px,#ff7900 101.5px,#ffcd00 104.5px,#fff700 105.5px,#ddff22 106.5px,#26ffd9 110.5px,#03fffc 111.5px,#00c2ff 113.5px,#005fff 118.5px,#001fff 122.5px,#0000ff 126px)"></i><i style="left:58px;width:2px;background:linear-gradient(#f40000 0px,#ff0700 10.5px,#ff1a00 22.5px,#ff0a00 71.5px,#f90000 78.5px,#d50000 89.5px,#d80000 93.5px,#e00000 95.5px,#ff0100 97.5px,#ff4500 100.5px,#ffbf00 104.5px,#ffec00 105.5px,#e6ff19 106.5px,#2bffd4 110.5px,#09fff6 111.5px,#00e6ff 112.5px,#00c5ff 113.5px,#0050ff 119.5px,#001fff 122.5px,#0000ff 126px)"></i><i style="left:60px;width:2px;background:linear-gradient(#fd0400 0px,#ff2a00 21.5px,#ff2000 69.5px,#fa0200 83.5px,#e60000 91.5px,#ee0000 95.5px,#f90000 96.5px,#ff1f00 98.5px,#ff4500 100.5px,#ffbb00 104.5px,#ffe800 105.5px,#e9ff16 106.5px,#2effd1 110.5px,#0cfff3 111.5px,#00e9ff 112.5px,#00c7ff 113.5px,#003eff 120.5px,#0014ff 123.5px,#0000ff 126px)"></i><i style="left:62px;width:2px;background:linear-gradient(#ff1300 0px,#ff3b00 21.5px,#ff3100 69.5px,#ff1100 82.5px,#fd0000 87.5px,#f60000 92.5px,#fd0000 95.5px,#ff0800 96.5px,#ff4c00 100.5px,#ffbd00 104.5px,#ffe900 105.5px,#e9ff16 106.5px,#2effd1 110.5px,#0cfff3 111.5px,#00e9ff 112.5px,#00c7ff 113.5px,#003eff 120.5px,#0014ff 123.5px,#0000ff 126px)"></i><i style="left:64px;width:2px;background:linear-gradient(#ff1800 0px,#ff4000 21.5px,#ff3500 70.5px,#ff1200 83.5px,#fe0000 88.5px,#fc0000 93.5px,#ff0200 95.5px,#ff1e00 97.5px,#ff4e00 100.5px,#ffbd00 104.5px,#ffe900 105.5px,#e9ff16 106.5px,#2effd1 110.5px,#0cfff3 111.5px,#00e9ff 112.5px,#00c7ff 113.5px,#003eff 120.5px,#0014ff 123.5px,#0000ff 126px)"></i><i style="left:66px;width:2px;background:linear-gradient(#ff1700 0px,#ff3f00 21.5px,#ff3500 70.5px,#ff1500 82.5px,#fc0000 88.5px,#fb0000 93.5px,#ff0200 95.5px,#ff1d00 97.5px,#ff4e00 100.5px,#ffbd00 104.5px,#ffe900 105.5px,#e9ff16 106.5px,#2effd1 110.5px,#0cfff3 111.5px,#00e9ff 112.5px,#00c7ff 113.5px,#003eff 120.5px,#0014ff 123.5px,#0000ff 126px)"></i><i style="left:68px;width:2px;background:linear-gradient(#ff1200 0px,#ff3a00 21.5px,#ff3000 70.5px,#ff1000 82.5px,#fd0000 86.5px,#f20000 91.5px,#fc0000 95.5px,#ff0800 96.5px,#ff4c00 100.5px,#ffbd00 104.5px,#ffe900 105.5px,#e9ff16 106.5px,#2effd1 110.5px,#0cfff3 111.5px,#00e9ff 112.5px,#00c7ff 113.5px,#003eff 120.5px,#0014ff 123.5px,#0000ff 126px)"></i><i style="left:70px;width:2px;background:linear-gradient(#fc0500 0px,#ff2a00 21.5px,#ff2000 70.5px,#fb0300 82.5px,#e10000 90.5px,#ed0000 95.5px,#f90000 96.5px,#ff2000 98.5px,#ff4500 100.5px,#ffbb00 104.5px,#ffe800 105.5px,#e9ff16 106.5px,#2effd1 110.5px,#0cfff3 111.5px,#00e9ff 112.5px,#00c7ff 113.5px,#003eff 120.5px,#0014ff 123.5px,#0000ff 126px)"></i><i style="left:72px;width:2px;background:linear-gradient(#d60000 0px,#f70500 19.5px,#f00000 72.5px,#d30000 82.5px,#b70000 89.5px,#bb0000 93.5px,#c60000 95.5px,#d40000 96.5px,#fc0600 98.5px,#ff3300 100.5px,#ffb700 104.5px,#ffe600 105.5px,#ebff14 106.5px,#2effd1 110.5px,#0cfff3 111.5px,#00e9ff 112.5px,#00c7ff 113.5px,#003eff 120.5px,#0014ff 123.5px,#0000ff 126px)"></i><i style="left:74px;width:2px;background:linear-gradient(#c40000 0px,#eb0000 21.5px,#e20000 70.5px,#c10000 82.5px,#a40000 89.5px,#a50000 92.5px,#b60000 95.5px,#c50000 96.5px,#f60000 98.5px,#ff1100 99.5px,#ff2b00 100.5px,#ffb600 104.5px,#ffe400 105.5px,#ecff13 106.5px,#2effd1 110.5px,#0cfff3 111.5px,#00e9ff 112.5px,#00c7ff 113.5px,#003eff 120.5px,#0014ff 123.5px,#0000ff 126px)"></i><i style="left:76px;width:2px;background:linear-gradient(#f00000 0px,#ff1500 18.5px,#ff1400 57.5px,#fc0a00 74.5px,#ed0000 82.5px,#cf0000 89.5px,#d40000 93.5px,#de0000 95.5px,#fa0500 97.5px,#ff3f00 100.5px,#ffba00 104.5px,#ffe700 105.5px,#eaff15 106.5px,#2effd1 110.5px,#0cfff3 111.5px,#00e9ff 112.5px,#00c7ff 113.5px,#003eff 120.5px,#0014ff 123.5px,#0000ff 126px)"></i><i style="left:78px;width:2px;background:linear-gradient(#ff1200 0px,#ff3a00 21.5px,#ff3100 70.5px,#ff1400 81.5px,#fa0000 86.5px,#ee0000 91.5px,#fc0000 95.5px,#ff0900 96.5px,#ff4d00 100.5px,#ffbd00 104.5px,#ffe900 105.5px,#e9ff16 106.5px,#2effd1 110.5px,#0cfff3 111.5px,#00e9ff 112.5px,#00c7ff 113.5px,#003eff 120.5px,#0014ff 123.5px,#0000ff 126px)"></i><i style="left:80px;width:2px;background:linear-gradient(#ff1500 0px,#ff3d00 21.5px,#ff3200 71.5px,#ff1300 82.5px,#fd0000 86.5px,#f00000 91.5px,#fe0100 95.5px,#ff1e00 97.5px,#ff4f00 100.5px,#ffbe00 104.5px,#ffe900 105.5px,#e9ff16 106.5px,#2effd1 110.5px,#0cfff3 111.5px,#00e9ff 112.5px,#00c7ff 113.5px,#003eff 120.5px,#0014ff 123.5px,#0000ff 126px)"></i><i style="left:82px;width:2px;background:linear-gradient(#ff0b00 0px,#ff3300 21.5px,#ff2900 71.5px,#ff0d00 81.5px,#f80000 85.5px,#e70000 90.5px,#f20000 94.5px,#ff0300 96.5px,#ff4b00 100.5px,#ffbd00 104.5px,#ffe900 105.5px,#e9ff16 106.5px,#2effd1 110.5px,#0cfff3 111.5px,#00e9ff 112.5px,#00c7ff 113.5px,#003eff 120.5px,#0014ff 123.5px,#0000ff 126px)"></i><i style="left:84px;width:2px;background:linear-gradient(#fd0100 0px,#ff2700 21.5px,#ff1d00 71.5px,#fc0000 82.5px,#dc0000 89.5px,#dc0000 92.5px,#ec0000 95.5px,#f90000 96.5px,#ff2000 98.5px,#ff4600 100.5px,#ffbc00 104.5px,#ffe800 105.5px,#e9ff16 106.5px,#2effd1 110.5px,#0cfff3 111.5px,#00e9ff 112.5px,#00c7ff 113.5px,#003eff 120.5px,#0014ff 123.5px,#0000ff 126px)"></i><i style="left:86px;width:2px;background:linear-gradient(#f50000 0px,#ff0700 9.5px,#ff1d00 21.5px,#ff1400 71.5px,#fb0000 80.5px,#d20000 89.5px,#d30000 92.5px,#e40000 95.5px,#ff0600 97.5px,#ff4200 100.5px,#ffbb00 104.5px,#ffe800 105.5px,#eaff15 106.5px,#2effd1 110.5px,#0cfff3 111.5px,#00e9ff 112.5px,#00c7ff 113.5px,#003eff 120.5px,#0014ff 123.5px,#0000ff 126px)"></i><i style="left:88px;width:2px;background:linear-gradient(#f40000 0px,#ff0600 9.5px,#ff1c00 21.5px,#ff1300 71.5px,#fb0000 80.5px,#d10000 89.5px,#d20000 92.5px,#e40000 95.5px,#ff0600 97.5px,#ff4200 100.5px,#ffbb00 104.5px,#ffe800 105.5px,#eaff15 106.5px,#2effd1 110.5px,#0cfff3 111.5px,#00e9ff 112.5px,#00c7ff 113.5px,#003eff 120.5px,#0014ff 123.5px,#0000ff 126px)"></i><i style="left:90px;width:2px;background:linear-gradient(#f00000 0px,#ff0500 10.5px,#ff1900 22.5px,#ff0f00 71.5px,#fb0000 79.5px,#ce0000 89.5px,#cf0000 92.5px,#e10000 95.5px,#ff0400 97.5px,#ff4100 100.5px,#ffba00 104.5px,#ffe700 105.5px,#eaff15 106.5px,#2effd1 110.5px,#0cfff3 111.5px,#00e9ff 112.5px,#00c7ff 113.5px,#003eff 120.5px,#0014ff 123.5px,#0000ff 126px)"></i><i style="left:92px;width:2px;background:linear-gradient(#f00000 0px,#ff0500 10.5px,#ff1900 22.5px,#ff1000 71.5px,#fb0000 79.5px,#cf0000 89.5px,#d00000 92.5px,#e20000 95.5px,#ff0500 97.5px,#ff4100 100.5px,#ffba00 104.5px,#ffe800 105.5px,#eaff15 106.5px,#2effd1 110.5px,#0cfff3 111.5px,#00e9ff 112.5px,#00c7ff 113.5px,#003eff 120.5px,#0014ff 123.5px,#0000ff 126px)"></i><i style="left:94px;width:2px;background:linear-gradient(#f30000 0px,#ff0500 9.5px,#ff1c00 21.5px,#ff1300 71.5px,#fb0000 80.5px,#d20000 89.5px,#d30000 92.5px,#e50000 95.5px,#ff0700 97.5px,#ff4300 100.5px,#ffbb00 104.5px,#ffe800 105.5px,#eaff15 106.5px,#2effd1 110.5px,#0cfff3 111.5px,#00e9ff 112.5px,#00c7ff 113.5px,#003eff 120.5px,#0014ff 123.5px,#0000ff 126px)"></i><i style="left:96px;width:2px;background:linear-gradient(#e30000 0px,#fe0500 16.5px,#ff0c00 26.5px,#fc0200 73.5px,#e70000 81.5px,#c30000 89.5px,#c40000 92.5px,#d70000 95.5px,#fb0000 97.5px,#ff3c00 100.5px,#ffb900 104.5px,#ffe700 105.5px,#eaff15 106.5px,#2effd1 110.5px,#0cfff3 111.5px,#00e9ff 112.5px,#00c7ff 113.5px,#003eff 120.5px,#0014ff 123.5px,#0000ff 126px)"></i><i style="left:98px;width:2px;background:linear-gradient(#d70000 0px,#ff0000 21.5px,#f70000 71.5px,#d70000 82.5px,#b80000 89.5px,#ba0000 92.5px,#ce0000 95.5px,#f20000 97.5px,#ff0a00 98.5px,#ff3700 100.5px,#ffb800 104.5px,#ffe600 105.5px,#ebff14 106.5px,#2effd1 110.5px,#0cfff3 111.5px,#00e9ff 112.5px,#00c7ff 113.5px,#003eff 120.5px,#0014ff 123.5px,#0000ff 126px)"></i><i style="left:100px;width:2px;background:linear-gradient(#d10000 0px,#f80000 21.5px,#f00000 71.5px,#d10000 82.5px,#b30000 89.5px,#b40000 92.5px,#c90000 95.5px,#ee0000 97.5px,#ff0600 98.5px,#ff3500 100.5px,#ffb800 104.5px,#ffe600 105.5px,#ebff14 106.5px,#2effd1 110.5px,#0cfff3 111.5px,#00e9ff 112.5px,#00c7ff 113.5px,#003eff 120.5px,#0014ff 123.5px,#0000ff 126px)"></i><i style="left:102px;width:2px;background:linear-gradient(#b50000 0px,#dc0000 21.5px,#d30000 71.5px,#b50000 82.5px,#980000 89.5px,#9a0000 92.5px,#b00000 95.5px,#d90000 97.5px,#f30000 98.5px,#ff0e00 99.5px,#ff2900 100.5px,#ffb500 104.5px,#ffe400 105.5px,#ecff13 106.5px,#2effd1 110.5px,#0cfff3 111.5px,#00e9ff 112.5px,#00c7ff 113.5px,#003eff 120.5px,#0014ff 123.5px,#0000ff 126px)"></i><i style="left:104px;width:2px;background:linear-gradient(#d50000 0px,#f70500 19.5px,#f00000 73.5px,#d20000 83.5px,#b90000 90.5px,#c10000 93.5px,#cf0000 95.5px,#f30000 97.5px,#ff0b00 98.5px,#ff3800 100.5px,#ffb800 104.5px,#ffe600 105.5px,#ebff14 106.5px,#2effd1 110.5px,#0cfff3 111.5px,#00e9ff 112.5px,#00c7ff 113.5px,#003eff 120.5px,#0014ff 123.5px,#0000ff 126px)"></i><i style="left:106px;width:2px;background:linear-gradient(#f80000 0px,#ff0f00 11.5px,#ff2000 21.5px,#ff1500 72.5px,#fb0000 82.5px,#dd0000 90.5px,#e40000 93.5px,#f00000 95.5px,#fc0000 96.5px,#ff4700 100.5px,#ffbc00 104.5px,#ffe800 105.5px,#e9ff16 106.5px,#2effd1 110.5px,#0cfff3 111.5px,#00e9ff 112.5px,#00c7ff 113.5px,#003eff 120.5px,#0014ff 123.5px,#0000ff 126px)"></i><i style="left:108px;width:2px;background:linear-gradient(#fd0000 0px,#ff2500 21.5px,#ff1900 72.5px,#fc0000 83.5px,#e40000 90.5px,#eb0000 93.5px,#ff0200 96.5px,#ff4a00 100.5px,#ffbc00 104.5px,#ffe900 105.5px,#e9ff16 106.5px,#2effd1 110.5px,#0cfff3 111.5px,#00e9ff 112.5px,#00c7ff 113.5px,#003eff 120.5px,#0014ff 123.5px,#0000ff 126px)"></i><i style="left:110px;width:2px;background:linear-gradient(#fc0000 0px,#ff2400 21.5px,#ff1800 72.5px,#fc0000 83.5px,#e50000 90.5px,#ec0000 93.5px,#ff0300 96.5px,#ff4a00 100.5px,#ffbc00 104.5px,#ffe900 105.5px,#e9ff16 106.5px,#2effd1 110.5px,#0cfff3 111.5px,#00e9ff 112.5px,#00c7ff 113.5px,#003eff 120.5px,#0014ff 123.5px,#0000ff 126px)"></i><i style="left:112px;width:2px;background:linear-gradient(#fb0000 0px,#ff2300 21.5px,#ff1a00 60.5px,#ff1500 73.5px,#fc0000 83.5px,#e60000 90.5px,#ec0000 93.5px,#ff0300 96.5px,#ff4a00 100.5px,#ffbc00 104.5px,#ffe900 105.5px,#e9ff16 106.5px,#2effd1 110.5px,#0cfff3 111.5px,#00e9ff 112.5px,#00c7ff 113.5px,#003eff 120.5px,#0014ff 123.5px,#0000ff 126px)"></i><i style="left:114px;width:2px;background:linear-gradient(#f50000 0px,#ff0900 10.5px,#ff1d00 21.5px,#ff1300 54.5px,#ff0f00 73.5px,#fb0000 82.5px,#e10000 90.5px,#e70000 93.5px,#f20000 95.5px,#fd0000 96.5px,#ff4700 100.5px,#ffbc00 104.5px,#ffe800 105.5px,#e9ff16 106.5px,#2effd1 110.5px,#0cfff3 111.5px,#00e9ff 112.5px,#00c7ff 113.5px,#003eff 120.5px,#0014ff 123.5px,#0000ff 126px)"></i><i style="left:116px;width:2px;background:linear-gradient(#e30000 0px,#fe0500 16.5px,#ff0a00 23.5px,#fd0400 68.5px,#ef0000 80.5px,#d10000 90.5px,#db0000 94.5px,#ec0000 96.5px,#fd0300 97.5px,#ff3e00 100.5px,#ffba00 104.5px,#ffe700 105.5px,#eaff15 106.5px,#2effd1 110.5px,#0cfff3 111.5px,#00e9ff 112.5px,#00c7ff 113.5px,#003eff 120.5px,#0014ff 123.5px,#0000ff 126px)"></i><i style="left:118px;width:2px;background:linear-gradient(#d70000 0px,#fe0000 21.5px,#f40000 53.5px,#ef0000 73.5px,#d70000 84.5px,#c60000 91.5px,#d20000 95.5px,#de0000 96.5px,#f40000 97.5px,#ff0a00 98.5px,#ff3700 100.5px,#ffb800 104.5px,#ffe600 105.5px,#ebff14 106.5px,#2effd1 110.5px,#0cfff3 111.5px,#00e9ff 112.5px,#00c7ff 113.5px,#003eff 120.5px,#0014ff 123.5px,#0000ff 126px)"></i><i style="left:120px;width:2px;background:linear-gradient(#eb0000 0px,#ff0800 14.5px,#ff1300 21.5px,#ff0a00 53.5px,#fb0400 76.5px,#ec0000 84.5px,#db0000 91.5px,#e20000 95.5px,#fd0300 97.5px,#ff3e00 100.5px,#ffba00 104.5px,#ffe700 105.5px,#eaff15 106.5px,#2effd1 110.5px,#0cfff3 111.5px,#00e9ff 112.5px,#00c7ff 113.5px,#003eff 120.5px,#0014ff 123.5px,#0000ff 126px)"></i><i style="left:122px;width:2px;background:linear-gradient(#fc0000 0px,#ff2400 21.5px,#ff1a00 53.5px,#ff1600 73.5px,#fd0000 84.5px,#ed0000 92.5px,#ef0000 95.5px,#f80000 96.5px,#ff1f00 98.5px,#ff4400 100.5px,#ffbb00 104.5px,#ffe800 105.5px,#eaff15 106.5px,#2effd1 110.5px,#0cfff3 111.5px,#00e9ff 112.5px,#00c7ff 113.5px,#003eff 120.5px,#0014ff 123.5px,#0000ff 126px)"></i><i style="left:124px;width:2px;background:linear-gradient(#ee0000 0px,#ff0500 11.5px,#ff1600 21.5px,#ff0d00 54.5px,#ff0900 73.5px,#f90000 81.5px,#e20000 91.5px,#e20000 95.5px,#ec0000 96.5px,#ff0100 97.5px,#ff3f00 100.5px,#ffbb00 104.5px,#ffe800 105.5px,#e9ff16 106.5px,#2dffd2 110.5px,#0bfff4 111.5px,#00e8ff 112.5px,#00c7ff 113.5px,#003eff 120.5px,#0014ff 123.5px,#0000ff 126px)"></i><i style="left:126px;width:2px;background:linear-gradient(#fd0600 0px,#ff2d00 22.5px,#ff2200 73.5px,#f90400 90.5px,#fa0600 95.5px,#ff0c00 96.5px,#ff5800 100.5px,#ffc600 104.5px,#fff100 105.5px,#e2ff1d 106.5px,#29ffd6 110.5px,#07fff8 111.5px,#00c4ff 113.5px,#004fff 119.5px,#001fff 122.5px,#0000ff 126px)"></i><i style="left:128px;width:2px;background:linear-gradient(#ff1500 0px,#ff4200 22.5px,#ff3b00 72.5px,#ff1500 91.5px,#ff2000 95.5px,#ff3c00 97.5px,#ff8900 101.5px,#ffd300 104.5px,#fffb00 105.5px,#afff50 107.5px,#24ffdb 110.5px,#02fffd 111.5px,#00c1ff 113.5px,#005eff 118.5px,#001fff 122.5px,#0000ff 126px)"></i><i style="left:130px;width:2px;background:linear-gradient(#ff1900 0px,#ff4900 23.5px,#ff4500 72.5px,#ff2000 91.5px,#ff3200 95.5px,#ff4f00 97.5px,#ffc200 103.5px,#faff05 105.5px,#a8ff57 107.5px,#1fffe0 110.5px,#00fcff 111.5px,#00beff 113.5px,#005cff 118.5px,#001fff 122.5px,#0000ff 126px)"></i><i style="left:132px;width:2px;background:linear-gradient(#ff1e00 0px,#ff5000 23.5px,#ff4e00 72.5px,#ff2a00 91.5px,#ff3f00 95.5px,#ff6e00 98.5px,#ffc900 103.5px,#ffe500 104.5px,#f3ff0c 105.5px,#a4ff5b 107.5px,#45ffba 109.5px,#1dffe2 110.5px,#00faff 111.5px,#00bdff 113.5px,#005bff 118.5px,#001fff 122.5px,#0000ff 126px)"></i><i style="left:134px;width:2px;background:linear-gradient(#ff2300 0px,#ff5600 23.5px,#ff5b00 71.5px,#ff3400 90.5px,#ff3c00 93.5px,#ff5400 96.5px,#ffcd00 103.5px,#ffe800 104.5px,#f0ff0f 105.5px,#a1ff5e 107.5px,#45ffba 109.5px,#1dffe2 110.5px,#00faff 111.5px,#00bdff 113.5px,#005bff 118.5px,#001fff 122.5px,#0000ff 126px)"></i><i style="left:136px;width:2px;background:linear-gradient(#ff2900 0px,#ff5800 20.5px,#ff6800 70.5px,#ff3e00 88.5px,#ff4000 92.5px,#ff5c00 96.5px,#ffd000 103.5px,#ffeb00 104.5px,#eeff11 105.5px,#72ff8d 108.5px,#1dffe2 110.5px,#00faff 111.5px,#00bdff 113.5px,#005bff 118.5px,#001fff 122.5px,#0000ff 126px)"></i><i style="left:138px;width:2px;background:linear-gradient(#ff3000 0px,#ff5400 14.5px,#ff6600 29.5px,#ff7400 70.5px,#ff4800 86.5px,#ff4900 92.5px,#ff6500 96.5px,#ffd300 103.5px,#ffee00 104.5px,#ebff14 105.5px,#70ff8f 108.5px,#1dffe2 110.5px,#00faff 111.5px,#00bdff 113.5px,#005bff 118.5px,#001fff 122.5px,#0000ff 126px)"></i><i style="left:140px;width:2px;background:linear-gradient(#ff3a00 0px,#ff5e00 14.5px,#ff7c00 39.5px,#ff8100 70.5px,#ff5200 86.5px,#ff5400 92.5px,#ff6c00 96.5px,#ffda00 103.5px,#fff400 104.5px,#e7ff18 105.5px,#9cff63 107.5px,#1dffe2 110.5px,#00faff 111.5px,#00bdff 113.5px,#005bff 118.5px,#001fff 122.5px,#0000ff 126px)"></i><i style="left:142px;width:2px;background:linear-gradient(#ff4400 0px,#ff6900 14.5px,#ff8d00 42.5px,#ff8f00 70.5px,#ff5d00 86.5px,#ff5e00 92.5px,#ff7300 96.5px,#ffe100 103.5px,#fff900 104.5px,#c3ff3c 106.5px,#1dffe2 110.5px,#00faff 111.5px,#00bdff 113.5px,#005bff 118.5px,#001fff 122.5px,#0000ff 126px)"></i><i style="left:144px;width:1px;background:linear-gradient(#ff4b00 0px,#ff7000 14.5px,#ff9a00 42.5px,#ff9900 70.5px,#ff6500 86.5px,#ff6900 93.5px,#ff7800 96.5px,#ffe600 103.5px,#fffe00 104.5px,#c2ff3d 106.5px,#70ff8f 108.5px,#1dffe2 110.5px,#00faff 111.5px,#00bdff 113.5px,#005bff 118.5px,#001fff 122.5px,#0000ff 126px)"></i></div><div class="hm" style="left:242px;top:207px"><i style="left:0px;width:2px;background:linear-gradient(#fff900 0px,#f8ff07 5.5px,#a8ff57 17.5px,#81ff7e 25.5px,#83ff7c 70.5px,#b8ff47 78.5px,#fffb00 85.5px,#ffc300 90.5px,#ffb300 95.5px,#ffc300 99.5px,#ffec00 102.5px,#fffc00 103.5px,#e9ff16 104.5px,#36ffc9 109.5px,#01fffe 111.5px,#00acff 115.5px,#005cff 120.5px,#0029ff 124.5px,#001fff 126px)"></i><i style="left:2px;width:2px;background:linear-gradient(#fff500 0px,#fcff03 5.5px,#a6ff59 18.5px,#83ff7c 25.5px,#85ff7a 70.5px,#baff45 78.5px,#fcff03 84.5px,#ffc100 90.5px,#ffb000 95.5px,#ffc100 99.5px,#ffea00 102.5px,#fffa00 103.5px,#ebff14 104.5px,#36ffc9 109.5px,#01fffe 111.5px,#00acff 115.5px,#005cff 120.5px,#0029ff 124.5px,#001fff 126px)"></i><i style="left:4px;width:2px;background:linear-gradient(#fff100 0px,#fbff04 6.5px,#a4ff5b 19.5px,#83ff7c 26.5px,#86ff79 70.5px,#bcff43 78.5px,#fffe00 84.5px,#ffbe00 90.5px,#ffae00 95.5px,#ffbe00 99.5px,#ffd800 101.5px,#fff900 103.5px,#ecff13 104.5px,#36ffc9 109.5px,#01fffe 111.5px,#00acff 115.5px,#005cff 120.5px,#0029ff 124.5px,#001fff 126px)"></i><i style="left:6px;width:2px;background:linear-gradient(#ffed00 0px,#faff05 7.5px,#a7ff58 19.5px,#84ff7b 26.5px,#81ff7e 45.5px,#87ff78 70.5px,#bdff42 78.5px,#f8ff07 83.5px,#ffef00 85.5px,#ffbb00 90.5px,#ffab00 95.5px,#ffbb00 99.5px,#ffd600 101.5px,#fff700 103.5px,#edff12 104.5px,#36ffc9 109.5px,#01fffe 111.5px,#00acff 115.5px,#005cff 120.5px,#0029ff 124.5px,#001fff 126px)"></i><i style="left:8px;width:2px;background:linear-gradient(#ffe900 0px,#fffe00 7.5px,#a4ff5b 20.5px,#81ff7e 27.5px,#89ff76 70.5px,#bfff40 78.5px,#fcff03 83.5px,#ffb900 90.5px,#ffa800 95.5px,#ffb900 99.5px,#ffd400 101.5px,#fff600 103.5px,#eeff11 104.5px,#36ffc9 109.5px,#01fffe 111.5px,#00acff 115.5px,#005cff 120.5px,#0029ff 124.5px,#001fff 126px)"></i><i style="left:10px;width:2px;background:linear-gradient(#ffe500 0px,#fefe01 8.5px,#a7ff58 20.5px,#80ff7f 28.5px,#8aff75 70.5px,#c0ff3f 78.5px,#fffe00 83.5px,#ffb600 90.5px,#ffa600 95.5px,#ffb600 99.5px,#ffd200 101.5px,#fff400 103.5px,#efff10 104.5px,#36ffc9 109.5px,#01fffe 111.5px,#00acff 115.5px,#005cff 120.5px,#0029ff 124.5px,#001fff 126px)"></i><i style="left:12px;width:2px;background:linear-gradient(#ffe100 0px,#fff900 8.5px,#edff12 11.5px,#aaff55 20.5px,#80ff7f 28.5px,#8cff73 70.5px,#c2ff3d 78.5px,#fffa00 83.5px,#ffb300 90.5px,#ffa300 95.5px,#ffb300 99.5px,#ffcf00 101.5px,#fff300 103.5px,#f0ff0f 104.5px,#36ffc9 109.5px,#01fffe 111.5px,#00acff 115.5px,#005cff 120.5px,#0029ff 124.5px,#001fff 126px)"></i><i style="left:14px;width:2px;background:linear-gradient(#ffdd00 0px,#fff400 8.5px,#faff05 10.5px,#aeff51 20.5px,#81ff7e 28.5px,#8eff71 70.5px,#c4ff3b 78.5px,#faff05 82.5px,#ffc200 88.5px,#ffac00 91.5px,#ffa000 95.5px,#ffb000 99.5px,#ffcd00 101.5px,#fff100 103.5px,#f1ff0e 104.5px,#36ffc9 109.5px,#01fffe 111.5px,#00acff 115.5px,#005cff 120.5px,#0029ff 124.5px,#001fff 126px)"></i><i style="left:16px;width:2px;background:linear-gradient(#ffdb00 0px,#fff000 8.5px,#f9ff06 11.5px,#b1ff4e 21.5px,#8bff74 28.5px,#95ff6a 70.5px,#caff35 78.5px,#fffe00 82.5px,#ffb300 89.5px,#ff9b00 94.5px,#ffad00 99.5px,#ffcb00 101.5px,#ffef00 103.5px,#f3ff0c 104.5px,#36ffc9 109.5px,#01fffe 111.5px,#00acff 115.5px,#005cff 120.5px,#0029ff 124.5px,#001fff 126px)"></i><i style="left:18px;width:2px;background:linear-gradient(#ffd900 0px,#ffeb00 8.5px,#faff05 12.5px,#b6ff49 22.5px,#97ff68 28.5px,#99ff66 69.5px,#d0ff2f 78.5px,#f9ff06 81.5px,#ffea00 83.5px,#ffa700 90.5px,#ff9700 95.5px,#ffaa00 99.5px,#ffc800 101.5px,#ffed00 103.5px,#f4ff0b 104.5px,#36ffc9 109.5px,#01fffe 111.5px,#00acff 115.5px,#005cff 120.5px,#0029ff 124.5px,#001fff 126px)"></i><i style="left:20px;width:2px;background:linear-gradient(#ffd700 0px,#ffec00 9.5px,#fbff04 13.5px,#b5ff4a 24.5px,#a1ff5e 29.5px,#9eff61 48.5px,#a4ff5b 70.5px,#d6ff29 78.5px,#fefe01 81.5px,#ffc500 86.5px,#ffa200 90.5px,#ff9200 95.5px,#ffa700 99.5px,#ffc600 101.5px,#ffec00 103.5px,#f5ff0a 104.5px,#36ffc9 109.5px,#01fffe 111.5px,#00acff 115.5px,#005cff 120.5px,#0029ff 124.5px,#001fff 126px)"></i><i style="left:22px;width:2px;background:linear-gradient(#ffd600 0px,#ffea00 10.5px,#fdff02 14.5px,#bbff44 25.5px,#a7ff58 31.5px,#acff53 70.5px,#ddff22 78.5px,#f8ff07 80.5px,#ffeb00 82.5px,#ffc000 86.5px,#ff9e00 90.5px,#ff8e00 95.5px,#ffa300 99.5px,#ffc300 101.5px,#ffea00 103.5px,#f7ff08 104.5px,#36ffc9 109.5px,#01fffe 111.5px,#00acff 115.5px,#005cff 120.5px,#0029ff 124.5px,#001fff 126px)"></i><i style="left:24px;width:2px;background:linear-gradient(#ffd400 0px,#ffe600 11.5px,#f9ff06 16.5px,#c2ff3d 26.5px,#afff50 33.5px,#b4ff4b 70.5px,#e3ff1c 78.5px,#feff01 80.5px,#ffc300 85.5px,#ff9900 90.5px,#ff8900 95.5px,#ffa000 99.5px,#ffc100 101.5px,#ffe800 103.5px,#f8ff07 104.5px,#36ffc9 109.5px,#01fffe 111.5px,#00acff 115.5px,#005cff 120.5px,#0029ff 124.5px,#001fff 126px)"></i><i style="left:26px;width:2px;background:linear-gradient(#ffd200 0px,#ffe300 12.5px,#fcff03 17.5px,#cdff32 26.5px,#b8ff47 32.5px,#bbff44 70.5px,#e9ff16 78.5px,#fffa00 80.5px,#ffc600 84.5px,#ff9400 90.5px,#ff8400 94.5px,#ff9700 98.5px,#ffaa00 100.5px,#ffe600 103.5px,#f9ff06 104.5px,#36ffc9 109.5px,#01fffe 111.5px,#00acff 115.5px,#005cff 120.5px,#0029ff 124.5px,#001fff 126px)"></i><i style="left:28px;width:2px;background:linear-gradient(#ffcf00 0px,#ffde00 12.5px,#fdff02 18.5px,#d3ff2c 27.5px,#c2ff3d 33.5px,#c4ff3b 70.5px,#f1ff0e 78.5px,#fefe01 79.5px,#ffbf00 84.5px,#ff8f00 90.5px,#ff7f00 94.5px,#ff9400 98.5px,#ffa700 100.5px,#ffe500 103.5px,#fbff04 104.5px,#36ffc9 109.5px,#01fffe 111.5px,#00acff 115.5px,#005cff 120.5px,#0029ff 124.5px,#001fff 126px)"></i><i style="left:30px;width:2px;background:linear-gradient(#ffca00 0px,#ffdc00 12.5px,#fdff02 19.5px,#cfff30 31.5px,#cfff30 70.5px,#fbff04 78.5px,#ffb100 85.5px,#ff8600 91.5px,#ff7a00 94.5px,#ff8a00 97.5px,#ff9800 99.5px,#ffba00 101.5px,#ffe300 103.5px,#fcff03 104.5px,#5cffa3 108.5px,#18ffe7 110.5px,#01fffe 111.5px,#00acff 115.5px,#005cff 120.5px,#0029ff 124.5px,#001fff 126px)"></i><i style="left:32px;width:2px;background:linear-gradient(#ffc500 0px,#ffdf00 13.5px,#fdff02 20.5px,#daff25 31.5px,#d9ff26 70.5px,#fcff03 77.5px,#ffed00 79.5px,#ffb200 84.5px,#ff8100 91.5px,#ff7500 94.5px,#ff8600 97.5px,#ff9600 99.5px,#ffb800 101.5px,#ffe100 103.5px,#fdff02 104.5px,#5cffa3 108.5px,#18ffe7 110.5px,#01fffe 111.5px,#00acff 115.5px,#005cff 120.5px,#0029ff 124.5px,#001fff 126px)"></i><i style="left:34px;width:2px;background:linear-gradient(#ffc000 0px,#ffdd00 13.5px,#fbff04 22.5px,#e3ff1c 33.5px,#e3ff1c 70.5px,#fffc00 76.5px,#ffe300 79.5px,#ffab00 84.5px,#ff7c00 91.5px,#ff7000 94.5px,#ff7a00 96.5px,#ff9400 99.5px,#ffcb00 102.5px,#ffe000 103.5px,#ffff00 104.5px,#5cffa3 108.5px,#18ffe7 110.5px,#01fffe 111.5px,#00acff 115.5px,#005cff 120.5px,#0029ff 124.5px,#001fff 126px)"></i><i style="left:36px;width:2px;background:linear-gradient(#ffbb00 0px,#ffe200 15.5px,#fbff04 24.5px,#ebff14 38.5px,#edff12 70.5px,#fffc00 74.5px,#ffe500 78.5px,#ffa500 84.5px,#ff7700 91.5px,#ff6b00 94.5px,#ff7600 96.5px,#ff9200 99.5px,#ffc900 102.5px,#ffde00 103.5px,#fffe00 104.5px,#5cffa3 108.5px,#18ffe7 110.5px,#01fffe 111.5px,#00acff 115.5px,#005cff 120.5px,#0029ff 124.5px,#001fff 126px)"></i><i style="left:38px;width:2px;background:linear-gradient(#ffb600 0px,#fefe01 26.5px,#f5ff0a 50.5px,#f7ff08 70.5px,#fff200 74.5px,#ffdb00 78.5px,#ff9700 85.5px,#ff7200 91.5px,#ff6500 94.5px,#ff7200 96.5px,#ff9f00 100.5px,#ffdc00 103.5px,#fffc00 104.5px,#5cffa3 108.5px,#18ffe7 110.5px,#01fffe 111.5px,#00acff 115.5px,#005cff 120.5px,#0029ff 124.5px,#001fff 126px)"></i><i style="left:40px;width:2px;background:linear-gradient(#ffb000 0px,#fff600 26.5px,#fdfe02 50.5px,#fffd00 70.5px,#ffd100 78.5px,#ff8f00 85.5px,#ff6b00 91.5px,#ff6000 94.5px,#ff6d00 96.5px,#ff9c00 100.5px,#ffda00 103.5px,#fffa00 104.5px,#5dffa2 108.5px,#19ffe6 110.5px,#02fffd 111.5px,#00adff 115.5px,#005dff 120.5px,#002aff 124.5px,#0020ff 126px)"></i><i style="left:42px;width:2px;background:linear-gradient(#ffa800 0px,#ffec00 27.5px,#fff800 46.5px,#fff500 70.5px,#ffc600 78.5px,#ff7e00 86.5px,#ff6300 91.5px,#ff5900 94.5px,#ff6800 96.5px,#ff9800 100.5px,#ffd800 103.5px,#fff800 104.5px,#b0ff4f 106.5px,#3affc5 109.5px,#04fffb 111.5px,#009dff 116.5px,#0042ff 122.5px,#0022ff 126px)"></i><i style="left:44px;width:2px;background:linear-gradient(#ff9f00 0px,#ffe100 26.5px,#fff000 44.5px,#ffed00 70.5px,#ffb200 79.5px,#ff6c00 87.5px,#ff5300 94.5px,#ff6200 96.5px,#ff9500 100.5px,#ffd600 103.5px,#fff600 104.5px,#deff21 105.5px,#3cffc3 109.5px,#1dffe2 110.5px,#06fff9 111.5px,#00d7ff 113.5px,#007dff 118.5px,#0038ff 123.5px,#0024ff 126px)"></i><i style="left:46px;width:2px;background:linear-gradient(#ff9700 0px,#ffd600 26.5px,#ffe800 43.5px,#ffe400 70.5px,#ff9f00 80.5px,#ff5b00 88.5px,#ff4d00 94.5px,#ff5d00 96.5px,#ff9100 100.5px,#ffd300 103.5px,#fff300 104.5px,#e1ff1e 105.5px,#3fffc0 109.5px,#1fffe0 110.5px,#08fff7 111.5px,#00f0ff 112.5px,#00a1ff 116.5px,#0046ff 122.5px,#0026ff 126px)"></i><i style="left:48px;width:2px;background:linear-gradient(#ff8f00 0px,#ffca00 25.5px,#ffdf00 43.5px,#ffdc00 70.5px,#ff8200 82.5px,#ff5100 88.5px,#ff4600 94.5px,#ff5700 96.5px,#ff8d00 100.5px,#ffd100 103.5px,#fff100 104.5px,#e4ff1b 105.5px,#41ffbe 109.5px,#21ffde 110.5px,#0afff5 111.5px,#00f3ff 112.5px,#00a3ff 116.5px,#0048ff 122.5px,#0028ff 126px)"></i><i style="left:50px;width:2px;background:linear-gradient(#ff8800 0px,#ffc100 24.5px,#ffd900 42.5px,#ffd400 70.5px,#ff7900 82.5px,#ff4700 88.5px,#ff3f00 94.5px,#ff5100 96.5px,#ff8800 100.5px,#ffcd00 103.5px,#ffed00 104.5px,#e9ff16 105.5px,#46ffb9 109.5px,#25ffda 110.5px,#0efff1 111.5px,#00f6ff 112.5px,#00b8ff 115.5px,#0067ff 120.5px,#0034ff 124.5px,#0029ff 126px)"></i><i style="left:52px;width:2px;background:linear-gradient(#ff8300 0px,#ffbb00 24.5px,#ffd300 42.5px,#ffcd00 70.5px,#ff7100 82.5px,#ff3e00 88.5px,#ff3700 94.5px,#ff4a00 96.5px,#ff8300 100.5px,#ffc800 103.5px,#ffe700 104.5px,#efff10 105.5px,#4dffb2 109.5px,#2bffd4 110.5px,#00f9ff 112.5px,#00baff 115.5px,#005aff 121.5px,#002bff 126px)"></i><i style="left:54px;width:2px;background:linear-gradient(#ff7d00 0px,#ffb600 24.5px,#ffcd00 42.5px,#ffc700 70.5px,#ff6800 82.5px,#ff3400 88.5px,#ff2e00 94.5px,#ff4200 96.5px,#ff7d00 100.5px,#ffc200 103.5px,#ffe100 104.5px,#f6ff09 105.5px,#30ffcf 110.5px,#00fdff 112.5px,#00bdff 115.5px,#005cff 121.5px,#002cff 126px)"></i><i style="left:56px;width:2px;background:linear-gradient(#ff7800 0px,#ffb100 24.5px,#ffc800 42.5px,#ffc000 70.5px,#ff6000 82.5px,#ff2b00 88.5px,#ff2600 94.5px,#ff3b00 96.5px,#ff7800 100.5px,#ffbd00 103.5px,#fdff02 105.5px,#86ff79 108.5px,#36ffc9 110.5px,#02fffd 112.5px,#00c0ff 115.5px,#004fff 122.5px,#002eff 126px)"></i><i style="left:58px;width:2px;background:linear-gradient(#ff7200 0px,#ffab00 24.5px,#ffc200 42.5px,#ffb900 70.5px,#ff5700 82.5px,#ff2100 88.5px,#ff1e00 94.5px,#ff3400 96.5px,#ff7200 100.5px,#ffb700 103.5px,#fffb00 105.5px,#b9ff46 107.5px,#3cffc3 110.5px,#06fff9 112.5px,#00d4ff 114.5px,#0060ff 121.5px,#002fff 126px)"></i><i style="left:60px;width:2px;background:linear-gradient(#ff6d00 0px,#ffa600 24.5px,#ffbd00 42.5px,#ffb200 70.5px,#ff4e00 82.5px,#ff1800 88.5px,#ff1500 94.5px,#ff2c00 96.5px,#ff6d00 100.5px,#ffb200 103.5px,#fff400 105.5px,#e5ff1a 106.5px,#95ff6a 108.5px,#41ffbe 110.5px,#0afff5 112.5px,#00eeff 113.5px,#00a2ff 117.5px,#0045ff 123.5px,#0030ff 126px)"></i><i style="left:62px;width:2px;background:linear-gradient(#ff6400 0px,#ff9d00 24.5px,#ffb400 42.5px,#ffa800 70.5px,#ff4300 82.5px,#ff1000 87.5px,#ff0b00 92.5px,#ff0a00 94.5px,#ff1200 95.5px,#ff6600 100.5px,#ffac00 103.5px,#ffed00 105.5px,#edff12 106.5px,#9dff62 108.5px,#47ffb8 110.5px,#0efff1 112.5px,#00f1ff 113.5px,#00a4ff 117.5px,#0046ff 123.5px,#0032ff 126px)"></i><i style="left:64px;width:2px;background:linear-gradient(#ff5200 0px,#ff8b00 24.5px,#ffa200 42.5px,#ff9500 70.5px,#ff2e00 82.5px,#fa0000 87.5px,#f50000 91.5px,#f60000 94.5px,#fd0200 95.5px,#ff5c00 100.5px,#ffc300 104.5px,#ffe600 105.5px,#f4ff0b 106.5px,#d1ff2e 107.5px,#4dffb2 110.5px,#12ffed 112.5px,#00f4ff 113.5px,#00b9ff 116.5px,#0047ff 123.5px,#0033ff 126px)"></i><i style="left:66px;width:2px;background:linear-gradient(#ff4d00 0px,#ff8700 25.5px,#ff9e00 41.5px,#ff8f00 70.5px,#ff2900 82.5px,#fe0200 86.5px,#f20000 88.5px,#f20000 94.5px,#fb0000 95.5px,#ff4300 99.5px,#ffa100 103.5px,#faff05 106.5px,#d7ff28 107.5px,#52ffad 110.5px,#16ffe9 112.5px,#00f8ff 113.5px,#00cdff 115.5px,#0049ff 123.5px,#0033ff 126px)"></i><i style="left:68px;width:2px;background:linear-gradient(#ff5400 0px,#ff8e00 25.5px,#ffa600 41.5px,#ff9600 70.5px,#ff1d00 84.5px,#ff0100 87.5px,#fb0000 94.5px,#ff0400 95.5px,#ff5b00 100.5px,#ffba00 104.5px,#feff01 106.5px,#dbff24 107.5px,#58ffa7 110.5px,#00fbff 113.5px,#00cfff 115.5px,#0057ff 122.5px,#0033ff 126px)"></i><i style="left:70px;width:2px;background:linear-gradient(#ff4c00 0px,#ff8900 26.5px,#ff9f00 41.5px,#ff8e00 70.5px,#ff0500 86.5px,#f60000 89.5px,#f60000 94.5px,#fd0100 95.5px,#ff5700 100.5px,#ffb400 104.5px,#fffb00 106.5px,#e0ff1f 107.5px,#5effa1 110.5px,#01fffe 113.5px,#00d1ff 115.5px,#0059ff 122.5px,#0034ff 126px)"></i><i style="left:72px;width:2px;background:linear-gradient(#ff3400 0px,#ff7300 27.5px,#ff8900 41.5px,#ff7600 70.5px,#fc0400 84.5px,#e10000 88.5px,#e20000 94.5px,#fb0200 96.5px,#ff3600 99.5px,#ffad00 104.5px,#fff500 106.5px,#e6ff19 107.5px,#63ff9c 110.5px,#04fffb 113.5px,#00adff 117.5px,#004cff 123.5px,#0034ff 126px)"></i><i style="left:74px;width:2px;background:linear-gradient(#ff2000 0px,#ff6100 28.5px,#ff7600 41.5px,#ff6100 70.5px,#fe0000 82.5px,#cf0000 88.5px,#d10000 94.5px,#db0000 95.5px,#ff0200 97.5px,#ff4200 100.5px,#ffa700 104.5px,#ffef00 106.5px,#ebff14 107.5px,#69ff96 110.5px,#08fff7 113.5px,#00d6ff 115.5px,#007cff 120.5px,#0034ff 126px)"></i><i style="left:76px;width:2px;background:linear-gradient(#ff2a00 0px,#ff6e00 29.5px,#ff8200 41.5px,#ff6c00 70.5px,#fd0400 83.5px,#dc0000 88.5px,#de0000 94.5px,#e70000 95.5px,#f80000 96.5px,#ff1e00 98.5px,#ffa300 104.5px,#ffeb00 106.5px,#f0ff0f 107.5px,#6fff90 110.5px,#0bfff4 113.5px,#00ecff 114.5px,#008eff 119.5px,#0041ff 124.5px,#0034ff 126px)"></i><i style="left:78px;width:2px;background:linear-gradient(#ff4300 0px,#ff8c00 31.5px,#ff9c00 41.5px,#ff8500 70.5px,#fe0600 86.5px,#f80000 92.5px,#fc0400 95.5px,#ff5100 100.5px,#ffa100 104.5px,#ffe700 106.5px,#f4ff0b 107.5px,#4fffb0 111.5px,#0ffff0 113.5px,#00eeff 114.5px,#008fff 119.5px,#0035ff 126px)"></i><i style="left:80px;width:2px;background:linear-gradient(#ff5400 0px,#ffa000 32.5px,#ffae00 41.5px,#ff9800 70.5px,#ff0e00 88.5px,#ff0c00 94.5px,#ff2200 96.5px,#ff6a00 101.5px,#ffa100 104.5px,#ffe500 106.5px,#f6ff09 107.5px,#51ffae 111.5px,#11ffee 113.5px,#00f0ff 114.5px,#0090ff 119.5px,#0035ff 126px)"></i><i style="left:82px;width:2px;background:linear-gradient(#ff4b00 0px,#ff9600 32.5px,#ffa500 41.5px,#ff9100 70.5px,#ff0800 88.5px,#ff0700 94.5px,#ff1d00 96.5px,#ff6800 101.5px,#ffa000 104.5px,#ffe500 106.5px,#f6ff09 107.5px,#51ffae 111.5px,#11ffee 113.5px,#00f0ff 114.5px,#0090ff 119.5px,#0035ff 126px)"></i><i style="left:84px;width:2px;background:linear-gradient(#ff4f00 0px,#ff9a00 32.5px,#ffa900 41.5px,#ff9800 70.5px,#ff1100 88.5px,#ff0f00 94.5px,#ff2400 96.5px,#ff6a00 101.5px,#ffa100 104.5px,#ffe500 106.5px,#f6ff09 107.5px,#51ffae 111.5px,#11ffee 113.5px,#00f0ff 114.5px,#0090ff 119.5px,#0035ff 126px)"></i><i style="left:86px;width:2px;background:linear-gradient(#ff2f00 0px,#ff7c00 33.5px,#ff8900 41.5px,#ff7b00 70.5px,#fe0900 85.5px,#f30000 89.5px,#f30000 94.5px,#ff0c00 96.5px,#ff4c00 100.5px,#ff9e00 104.5px,#ffe400 106.5px,#f7ff08 107.5px,#51ffae 111.5px,#11ffee 113.5px,#00f0ff 114.5px,#0090ff 119.5px,#0035ff 126px)"></i><i style="left:88px;width:2px;background:linear-gradient(#fd0700 0px,#ff5e00 39.5px,#ff5300 70.5px,#fb0400 81.5px,#cd0000 88.5px,#d00000 94.5px,#d90000 95.5px,#fa0200 97.5px,#ff2400 99.5px,#ff9a00 104.5px,#ffe300 106.5px,#f8ff07 107.5px,#51ffae 111.5px,#11ffee 113.5px,#00f0ff 114.5px,#0090ff 119.5px,#0035ff 126px)"></i><i style="left:90px;width:2px;background:linear-gradient(#fc0500 0px,#ff5b00 39.5px,#ff5300 70.5px,#fc0500 81.5px,#cf0000 88.5px,#d10000 94.5px,#da0000 95.5px,#fb0200 97.5px,#ff2400 99.5px,#ff9a00 104.5px,#ffe300 106.5px,#f8ff07 107.5px,#51ffae 111.5px,#11ffee 113.5px,#00f0ff 114.5px,#0090ff 119.5px,#0035ff 126px)"></i><i style="left:92px;width:2px;background:linear-gradient(#ff2300 0px,#ff7000 33.5px,#ff7d00 42.5px,#ff7700 70.5px,#fb0400 86.5px,#f40000 90.5px,#f40000 94.5px,#ff0b00 96.5px,#ff4a00 100.5px,#ff9e00 104.5px,#ffe400 106.5px,#f7ff08 107.5px,#51ffae 111.5px,#11ffee 113.5px,#00f0ff 114.5px,#0090ff 119.5px,#0035ff 126px)"></i><i style="left:94px;width:2px;background:linear-gradient(#ff3c00 0px,#ff8a00 33.5px,#ff9700 42.5px,#ff9300 70.5px,#ff1200 88.5px,#ff1100 94.5px,#ff2400 96.5px,#ff5700 100.5px,#ffa000 104.5px,#ffe500 106.5px,#f6ff09 107.5px,#50ffaf 111.5px,#10ffef 113.5px,#00efff 114.5px,#0090ff 119.5px,#0035ff 126px)"></i><i style="left:96px;width:2px;background:linear-gradient(#ff3900 0px,#ff8d00 35.5px,#ff9700 45.5px,#ff9300 70.5px,#ff1200 88.5px,#ff1200 94.5px,#ff2500 96.5px,#ff5800 100.5px,#ffa200 104.5px,#ffe800 106.5px,#f3ff0c 107.5px,#73ff8c 110.5px,#0dfff2 113.5px,#00edff 114.5px,#008eff 119.5px,#0034ff 126px)"></i><i style="left:98px;width:2px;background:linear-gradient(#ff1f00 0px,#ff7600 36.5px,#ff8100 50.5px,#ff7b00 70.5px,#ff0e00 85.5px,#f90000 88.5px,#ff0400 95.5px,#ff4f00 100.5px,#ffa100 104.5px,#ffea00 106.5px,#f0ff0f 107.5px,#6eff91 110.5px,#0afff5 113.5px,#00ebff 114.5px,#008dff 119.5px,#0041ff 124.5px,#0034ff 126px)"></i><i style="left:100px;width:2px;background:linear-gradient(#ff0900 0px,#ff6100 35.5px,#ff7000 50.5px,#ff6800 70.5px,#fe0400 84.5px,#e60000 88.5px,#eb0000 94.5px,#ff0400 96.5px,#ff4800 100.5px,#ffa000 104.5px,#ffec00 106.5px,#ecff13 107.5px,#6aff95 110.5px,#06fff9 113.5px,#00d5ff 115.5px,#006bff 121.5px,#0034ff 126px)"></i><i style="left:102px;width:2px;background:linear-gradient(#f40000 0px,#ff0a00 8.5px,#ff4e00 34.5px,#ff5f00 51.5px,#ff5700 70.5px,#ff0400 82.5px,#d50000 88.5px,#dc0000 94.5px,#f50000 96.5px,#ff0700 97.5px,#ff4200 100.5px,#ffa000 104.5px,#ffee00 106.5px,#e9ff16 107.5px,#66ff99 110.5px,#03fffc 113.5px,#00d2ff 115.5px,#0059ff 122.5px,#0034ff 126px)"></i><i style="left:104px;width:2px;background:linear-gradient(#f20000 0px,#ff0800 8.5px,#ff4c00 33.5px,#ff6100 51.5px,#ff5700 70.5px,#fb0000 83.5px,#d50000 88.5px,#dd0000 94.5px,#f70000 96.5px,#ff0900 97.5px,#ff4300 100.5px,#ffa100 104.5px,#fff100 106.5px,#e5ff1a 107.5px,#62ff9d 110.5px,#00feff 113.5px,#00e3ff 114.5px,#0068ff 121.5px,#0034ff 126px)"></i><i style="left:106px;width:2px;background:linear-gradient(#fd0200 0px,#ff4f00 27.5px,#ff7300 49.5px,#ff6800 70.5px,#ff1f00 81.5px,#fb0100 85.5px,#e70000 88.5px,#ef0000 94.5px,#ff0700 96.5px,#ff4c00 100.5px,#ffa400 104.5px,#fff500 106.5px,#e1ff1e 107.5px,#5dffa2 110.5px,#00fbff 113.5px,#00e0ff 114.5px,#0057ff 122.5px,#0033ff 126px)"></i><i style="left:108px;width:2px;background:linear-gradient(#ff0c00 0px,#ff5d00 27.5px,#ff8200 49.5px,#ff7700 70.5px,#ff2f00 81.5px,#ff0200 86.5px,#f50000 88.5px,#fd0000 94.5px,#ff0600 95.5px,#ff5300 100.5px,#ffa700 104.5px,#fff800 106.5px,#ddff22 107.5px,#59ffa6 110.5px,#18ffe7 112.5px,#00f7ff 113.5px,#00ccff 115.5px,#0048ff 123.5px,#0033ff 126px)"></i><i style="left:110px;width:2px;background:linear-gradient(#ff0f00 0px,#ff5800 24.5px,#ff7000 33.5px,#ff8900 51.5px,#ff7e00 70.5px,#ff3700 81.5px,#ff0200 87.5px,#ff0800 94.5px,#ff1e00 96.5px,#ff5a00 100.5px,#ffae00 104.5px,#fdfe02 106.5px,#53ffac 110.5px,#14ffeb 112.5px,#00f3ff 113.5px,#00c9ff 115.5px,#0046ff 123.5px,#0032ff 126px)"></i><i style="left:112px;width:2px;background:linear-gradient(#ff0e00 0px,#ff5900 24.5px,#ff7200 33.5px,#ff8c00 51.5px,#ff8200 70.5px,#ff3d00 81.5px,#ff0a00 87.5px,#ff0d00 92.5px,#ff1000 94.5px,#ff2600 96.5px,#ff6300 100.5px,#ffb900 104.5px,#ffe200 105.5px,#f2ff0d 106.5px,#4affb5 110.5px,#0efff1 112.5px,#00eeff 113.5px,#00c5ff 115.5px,#0050ff 122.5px,#002fff 126px)"></i><i style="left:114px;width:2px;background:linear-gradient(#ff0700 0px,#ff5400 24.5px,#ff6e00 33.5px,#ff8900 51.5px,#ff8000 70.5px,#ff3d00 81.5px,#ff0c00 87.5px,#ff0f00 92.5px,#ff1200 94.5px,#ff2900 96.5px,#ff6900 100.5px,#ffc300 104.5px,#ffee00 105.5px,#e6ff19 106.5px,#42ffbd 110.5px,#08fff7 112.5px,#00d2ff 114.5px,#004eff 122.5px,#002cff 126px)"></i><i style="left:116px;width:2px;background:linear-gradient(#fa0000 0px,#ff1c00 11.5px,#ff6300 32.5px,#ff8100 51.5px,#ff7900 70.5px,#ff3000 82.5px,#ff0700 88.5px,#ff1000 94.5px,#ff2800 96.5px,#ff6c00 100.5px,#ffcd00 104.5px,#fff900 105.5px,#b2ff4d 107.5px,#3affc5 110.5px,#02fffd 112.5px,#00ceff 114.5px,#005aff 121.5px,#0029ff 126px)"></i><i style="left:118px;width:2px;background:linear-gradient(#f80000 0px,#ff0f00 7.5px,#ff6400 32.5px,#ff8400 51.5px,#ff7e00 70.5px,#ff3700 82.5px,#ff0f00 88.5px,#ff1900 94.5px,#ff3000 96.5px,#ff7400 100.5px,#ffbb00 103.5px,#ffd900 104.5px,#faff05 105.5px,#55ffaa 109.5px,#31ffce 110.5px,#00fbff 112.5px,#00caff 114.5px,#0066ff 120.5px,#0031ff 124.5px,#0027ff 126px)"></i><i style="left:120px;width:2px;background:linear-gradient(#ff0300 0px,#ff5600 24.5px,#ff7200 33.5px,#ff9200 51.5px,#ff8c00 70.5px,#ff4800 82.5px,#ff2200 88.5px,#ff2b00 94.5px,#ff4200 96.5px,#ff8200 100.5px,#ffc600 103.5px,#ffe500 104.5px,#eeff11 105.5px,#4bffb4 109.5px,#29ffd6 110.5px,#10ffef 111.5px,#00f5ff 112.5px,#00b4ff 115.5px,#0054ff 121.5px,#0024ff 126px)"></i><i style="left:122px;width:2px;background:linear-gradient(#ff0700 0px,#ff5d00 24.5px,#ff7a00 33.5px,#ff9a00 51.5px,#ff9600 70.5px,#ff4d00 83.5px,#ff3000 88.5px,#ff3800 94.5px,#ff4f00 96.5px,#ff8c00 100.5px,#ffd100 103.5px,#fff000 104.5px,#e2ff1d 105.5px,#41ffbe 109.5px,#08fff7 111.5px,#00efff 112.5px,#00b0ff 115.5px,#005fff 120.5px,#002cff 124.5px,#0021ff 126px)"></i><i style="left:124px;width:2px;background:linear-gradient(#ff0700 0px,#ff5f00 24.5px,#ff7d00 33.5px,#ff9e00 51.5px,#ff9c00 70.5px,#ff4e00 84.5px,#ff3800 88.5px,#ff4100 94.5px,#ff5700 96.5px,#ff9400 100.5px,#ffd900 103.5px,#fffa00 104.5px,#5dffa2 108.5px,#19ffe6 110.5px,#02fffd 111.5px,#00adff 115.5px,#005cff 120.5px,#0029ff 124.5px,#001fff 126px)"></i><i style="left:126px;width:2px;background:linear-gradient(#ff0800 0px,#ff5e00 23.5px,#ff7f00 32.5px,#ffa400 51.5px,#ffa400 70.5px,#ff5200 84.5px,#ff3b00 88.5px,#ff4400 94.5px,#ff5900 96.5px,#ff9600 100.5px,#ffda00 103.5px,#fffb00 104.5px,#5cffa3 108.5px,#18ffe7 110.5px,#01fffe 111.5px,#00acff 115.5px,#005cff 120.5px,#0029ff 124.5px,#001fff 126px)"></i><i style="left:128px;width:2px;background:linear-gradient(#ff0900 0px,#ff5d00 22.5px,#ff8300 32.5px,#ffab00 51.5px,#ffac00 70.5px,#ff5c00 83.5px,#ff3d00 88.5px,#ff4600 94.5px,#ff5b00 96.5px,#ff9700 100.5px,#ffda00 103.5px,#fffb00 104.5px,#37ffc8 109.5px,#01fffe 111.5px,#00acff 115.5px,#005cff 120.5px,#0029ff 124.5px,#001fff 126px)"></i><i style="left:130px;width:2px;background:linear-gradient(#ff0a00 0px,#ff5b00 21.5px,#ff8700 32.5px,#ffb100 51.5px,#ffb400 70.5px,#ff6000 83.5px,#ff3f00 88.5px,#ff4800 94.5px,#ff5d00 96.5px,#ff9800 100.5px,#ffda00 103.5px,#fffb00 104.5px,#37ffc8 109.5px,#01fffe 111.5px,#00acff 115.5px,#005cff 120.5px,#0029ff 124.5px,#001fff 126px)"></i><i style="left:132px;width:2px;background:linear-gradient(#ff0b00 0px,#ff5a00 20.5px,#ff8900 31.5px,#ffb700 51.5px,#ffbc00 70.5px,#ff6400 83.5px,#ff4100 88.5px,#ff4a00 94.5px,#ff5f00 96.5px,#ff9900 100.5px,#ffdb00 103.5px,#fffb00 104.5px,#37ffc8 109.5px,#01fffe 111.5px,#00acff 115.5px,#005cff 120.5px,#0029ff 124.5px,#001fff 126px)"></i><i style="left:134px;width:2px;background:linear-gradient(#ff0c00 0px,#ff5c00 20.5px,#ff8e00 31.5px,#ffbd00 51.5px,#ffc400 70.5px,#ff7000 82.5px,#ff4600 87.5px,#ff4900 92.5px,#ff5300 95.5px,#ff9a00 100.5px,#ffdb00 103.5px,#fffb00 104.5px,#37ffc8 109.5px,#18ffe7 110.5px,#01fffe 111.5px,#00acff 115.5px,#005cff 120.5px,#0029ff 124.5px,#001fff 126px)"></i><i style="left:136px;width:2px;background:linear-gradient(#ff0d00 0px,#ff5a00 19.5px,#ff9200 31.5px,#ffc400 51.5px,#ffcc00 70.5px,#ff7400 82.5px,#ff4900 87.5px,#ff4900 91.5px,#ff4e00 94.5px,#ff6f00 97.5px,#ff9b00 100.5px,#ffdb00 103.5px,#fffb00 104.5px,#37ffc8 109.5px,#18ffe7 110.5px,#01fffe 111.5px,#00acff 115.5px,#005cff 120.5px,#0029ff 124.5px,#001fff 126px)"></i><i style="left:138px;width:2px;background:linear-gradient(#ff0e00 0px,#ff5d00 19.5px,#ff9600 31.5px,#ffca00 51.5px,#ffd400 70.5px,#ff7800 82.5px,#ff4b00 87.5px,#ff4b00 91.5px,#ff5000 94.5px,#ff7100 97.5px,#ff9b00 100.5px,#ffdb00 103.5px,#fffa00 104.5px,#38ffc7 109.5px,#18ffe7 110.5px,#01fffe 111.5px,#00acff 115.5px,#005cff 120.5px,#0029ff 124.5px,#001fff 126px)"></i><i style="left:140px;width:2px;background:linear-gradient(#ff0f00 0px,#ff5b00 18.5px,#ff9a00 31.5px,#ffd000 51.5px,#ffdc00 70.5px,#ff7c00 82.5px,#ff4d00 87.5px,#ff4c00 90.5px,#ff5200 94.5px,#ff7200 97.5px,#ff9c00 100.5px,#ffdb00 103.5px,#fffa00 104.5px,#38ffc7 109.5px,#18ffe7 110.5px,#01fffe 111.5px,#00acff 115.5px,#005cff 120.5px,#0029ff 124.5px,#001fff 126px)"></i><i style="left:142px;width:2px;background:linear-gradient(#ff1000 0px,#ff5d00 18.5px,#ff9e00 31.5px,#ffd700 51.5px,#ffe700 69.5px,#ff9d00 79.5px,#ff4f00 87.5px,#ff4e00 90.5px,#ff5400 94.5px,#ff7400 97.5px,#ff9d00 100.5px,#ffdb00 103.5px,#fffa00 104.5px,#38ffc7 109.5px,#18ffe7 110.5px,#01fffe 111.5px,#00acff 115.5px,#005cff 120.5px,#0029ff 124.5px,#001fff 126px)"></i><i style="left:144px;width:1px;background:linear-gradient(#ff1100 0px,#ff5f00 18.5px,#ffa200 31.5px,#ffdb00 51.5px,#ffed00 69.5px,#ffb100 77.5px,#ff5100 87.5px,#ff5000 90.5px,#ff5500 94.5px,#ff7500 97.5px,#ff9e00 100.5px,#ffdb00 103.5px,#fffa00 104.5px,#61ff9e 108.5px,#38ffc7 109.5px,#18ffe7 110.5px,#01fffe 111.5px,#00acff 115.5px,#005cff 120.5px,#0029ff 124.5px,#001fff 126px)"></i></div><div class="hm" style="left:449px;top:207px"><i style="left:0px;width:2px;background:linear-gradient(#faff05 0px,#f6ff09 5.5px,#85ff7a 20.5px,#55ffaa 28.5px,#37ffc8 41.5px,#2effd1 64.5px,#5cffa3 70.5px,#bfff40 79.5px,#eeff11 85.5px,#fffc00 88.5px,#ffd400 92.5px,#ffd900 94.5px,#fffd00 98.5px,#ebff14 100.5px,#d6ff29 101.5px,#99ff66 103.5px,#45ffba 105.5px,#12ffed 106.5px,#00d9ff 107.5px,#0080ff 109.5px,#0057ff 110.5px,#0039ff 111.5px,#0004ff 114.5px,#0000da 120.5px,#0000d2 126px)"></i><i style="left:2px;width:2px;background:linear-gradient(#faff05 0px,#f6ff09 5.5px,#85ff7a 20.5px,#55ffaa 28.5px,#37ffc8 41.5px,#2effd1 64.5px,#5cffa3 70.5px,#bfff40 79.5px,#eeff11 85.5px,#fffb00 88.5px,#ffd300 92.5px,#ffd800 94.5px,#fffd00 98.5px,#ebff14 100.5px,#d6ff29 101.5px,#99ff66 103.5px,#45ffba 105.5px,#12ffed 106.5px,#00d9ff 107.5px,#0080ff 109.5px,#0057ff 110.5px,#0039ff 111.5px,#0004ff 114.5px,#0000da 120.5px,#0000d2 126px)"></i><i style="left:4px;width:2px;background:linear-gradient(#faff05 0px,#f6ff09 5.5px,#85ff7a 20.5px,#55ffaa 28.5px,#37ffc8 41.5px,#2effd1 64.5px,#5cffa3 70.5px,#bfff40 79.5px,#eeff11 85.5px,#fffb00 88.5px,#ffd300 92.5px,#ffd800 94.5px,#fffd00 98.5px,#ebff14 100.5px,#d6ff29 101.5px,#99ff66 103.5px,#45ffba 105.5px,#12ffed 106.5px,#00d9ff 107.5px,#0080ff 109.5px,#0057ff 110.5px,#0039ff 111.5px,#0004ff 114.5px,#0000da 120.5px,#0000d2 126px)"></i><i style="left:6px;width:2px;background:linear-gradient(#faff05 0px,#f6ff09 5.5px,#85ff7a 20.5px,#55ffaa 28.5px,#37ffc8 41.5px,#2effd1 64.5px,#5cffa3 70.5px,#bfff40 79.5px,#eeff11 85.5px,#fffc00 88.5px,#ffd500 92.5px,#ffda00 94.5px,#fffe00 98.5px,#ebff14 100.5px,#d6ff29 101.5px,#99ff66 103.5px,#45ffba 105.5px,#12ffed 106.5px,#00d9ff 107.5px,#0080ff 109.5px,#0057ff 110.5px,#0039ff 111.5px,#0004ff 114.5px,#0000da 120.5px,#0000d2 126px)"></i><i style="left:8px;width:2px;background:linear-gradient(#faff05 0px,#f6ff09 5.5px,#85ff7a 20.5px,#55ffaa 28.5px,#37ffc8 41.5px,#2effd1 64.5px,#5cffa3 70.5px,#bfff40 79.5px,#eeff11 85.5px,#fffc00 88.5px,#ffd800 92.5px,#ffdd00 94.5px,#ffff00 98.5px,#ebff14 100.5px,#d6ff29 101.5px,#99ff66 103.5px,#45ffba 105.5px,#12ffed 106.5px,#00d9ff 107.5px,#0080ff 109.5px,#0057ff 110.5px,#0039ff 111.5px,#0004ff 114.5px,#0000da 120.5px,#0000d2 126px)"></i><i style="left:10px;width:2px;background:linear-gradient(#faff05 0px,#f6ff09 5.5px,#85ff7a 20.5px,#55ffaa 28.5px,#37ffc8 41.5px,#2effd1 64.5px,#5cffa3 70.5px,#bfff40 79.5px,#eeff11 85.5px,#fffe00 88.5px,#ffdc00 92.5px,#ffe000 94.5px,#ffff00 98.5px,#ebff14 100.5px,#d6ff29 101.5px,#99ff66 103.5px,#45ffba 105.5px,#12ffed 106.5px,#00d9ff 107.5px,#0080ff 109.5px,#0057ff 110.5px,#0039ff 111.5px,#0004ff 114.5px,#0000da 120.5px,#0000d2 126px)"></i><i style="left:12px;width:2px;background:linear-gradient(#faff05 0px,#f6ff09 5.5px,#85ff7a 20.5px,#55ffaa 28.5px,#37ffc8 41.5px,#2effd1 64.5px,#5cffa3 70.5px,#bfff40 79.5px,#edff12 85.5px,#ffff00 88.5px,#ffe000 92.5px,#ffe400 94.5px,#feff01 98.5px,#eaff15 100.5px,#d6ff29 101.5px,#99ff66 103.5px,#45ffba 105.5px,#12ffed 106.5px,#00d9ff 107.5px,#0080ff 109.5px,#0057ff 110.5px,#0039ff 111.5px,#0004ff 114.5px,#0000da 120.5px,#0000d2 126px)"></i><i style="left:14px;width:2px;background:linear-gradient(#faff05 0px,#f6ff09 5.5px,#85ff7a 20.5px,#55ffaa 28.5px,#37ffc8 41.5px,#2effd1 64.5px,#5cffa3 70.5px,#bfff40 79.5px,#edff12 85.5px,#ffff00 88.5px,#ffe300 92.5px,#ffeb00 95.5px,#fdff02 98.5px,#eaff15 100.5px,#d6ff29 101.5px,#99ff66 103.5px,#45ffba 105.5px,#12ffed 106.5px,#00d9ff 107.5px,#0080ff 109.5px,#0057ff 110.5px,#0039ff 111.5px,#0004ff 114.5px,#0000da 120.5px,#0000d2 126px)"></i><i style="left:16px;width:2px;background:linear-gradient(#faff05 0px,#f6ff09 5.5px,#85ff7a 20.5px,#55ffaa 28.5px,#37ffc8 41.5px,#2effd1 64.5px,#5cffa3 70.5px,#bfff40 79.5px,#edff12 85.5px,#feff01 88.5px,#ffe600 92.5px,#ffed00 95.5px,#fcff03 98.5px,#eaff15 100.5px,#d6ff29 101.5px,#99ff66 103.5px,#45ffba 105.5px,#12ffed 106.5px,#00d9ff 107.5px,#0080ff 109.5px,#0057ff 110.5px,#0039ff 111.5px,#0004ff 114.5px,#0000da 120.5px,#0000d2 126px)"></i><i style="left:18px;width:2px;background:linear-gradient(#faff05 0px,#f6ff09 5.5px,#85ff7a 20.5px,#55ffaa 28.5px,#37ffc8 41.5px,#2effd1 64.5px,#5cffa3 70.5px,#bfff40 79.5px,#edff12 85.5px,#fffa00 89.5px,#ffe700 93.5px,#fcff03 98.5px,#eaff15 100.5px,#d6ff29 101.5px,#99ff66 103.5px,#45ffba 105.5px,#12ffed 106.5px,#00d9ff 107.5px,#0080ff 109.5px,#0057ff 110.5px,#0039ff 111.5px,#0004ff 114.5px,#0000da 120.5px,#0000d2 126px)"></i><i style="left:20px;width:2px;background:linear-gradient(#faff05 0px,#f6ff09 5.5px,#85ff7a 20.5px,#55ffaa 28.5px,#37ffc8 41.5px,#2effd1 64.5px,#5cffa3 70.5px,#bfff40 79.5px,#edff12 85.5px,#fffa00 89.5px,#ffe800 93.5px,#fbff04 98.5px,#eaff15 100.5px,#d6ff29 101.5px,#99ff66 103.5px,#45ffba 105.5px,#12ffed 106.5px,#00d9ff 107.5px,#0080ff 109.5px,#0057ff 110.5px,#0039ff 111.5px,#0004ff 114.5px,#0000da 120.5px,#0000d2 126px)"></i><i style="left:22px;width:2px;background:linear-gradient(#faff05 0px,#f6ff09 5.5px,#85ff7a 20.5px,#55ffaa 28.5px,#37ffc8 41.5px,#2effd1 64.5px,#5cffa3 70.5px,#bfff40 79.5px,#edff12 85.5px,#fffb00 89.5px,#ffe900 93.5px,#fbff04 98.5px,#eaff15 100.5px,#d6ff29 101.5px,#99ff66 103.5px,#45ffba 105.5px,#12ffed 106.5px,#00d9ff 107.5px,#0080ff 109.5px,#0057ff 110.5px,#0039ff 111.5px,#0004ff 114.5px,#0000da 120.5px,#0000d2 126px)"></i><i style="left:24px;width:2px;background:linear-gradient(#faff05 0px,#f6ff09 5.5px,#85ff7a 20.5px,#55ffaa 28.5px,#37ffc8 41.5px,#2effd1 64.5px,#5cffa3 70.5px,#bfff40 79.5px,#edff12 85.5px,#fffb00 89.5px,#ffea00 93.5px,#faff05 98.5px,#eaff15 100.5px,#d6ff29 101.5px,#99ff66 103.5px,#45ffba 105.5px,#12ffed 106.5px,#00d9ff 107.5px,#0080ff 109.5px,#0057ff 110.5px,#0039ff 111.5px,#0004ff 114.5px,#0000da 120.5px,#0000d2 126px)"></i><i style="left:26px;width:2px;background:linear-gradient(#faff05 0px,#f6ff09 5.5px,#85ff7a 20.5px,#55ffaa 28.5px,#37ffc8 41.5px,#2effd1 64.5px,#5cffa3 70.5px,#bfff40 79.5px,#edff12 85.5px,#fffb00 89.5px,#ffea00 93.5px,#faff05 98.5px,#eaff15 100.5px,#d6ff29 101.5px,#99ff66 103.5px,#45ffba 105.5px,#12ffed 106.5px,#00d9ff 107.5px,#0080ff 109.5px,#0057ff 110.5px,#0039ff 111.5px,#0004ff 114.5px,#0000da 120.5px,#0000d2 126px)"></i><i style="left:28px;width:2px;background:linear-gradient(#faff05 0px,#f6ff09 5.5px,#85ff7a 20.5px,#55ffaa 28.5px,#37ffc8 41.5px,#2effd1 64.5px,#5cffa3 70.5px,#bfff40 79.5px,#edff12 85.5px,#fffb00 89.5px,#ffeb00 93.5px,#fffc00 97.5px,#eaff15 100.5px,#d6ff29 101.5px,#99ff66 103.5px,#45ffba 105.5px,#12ffed 106.5px,#00d9ff 107.5px,#0080ff 109.5px,#0057ff 110.5px,#0039ff 111.5px,#0004ff 114.5px,#0000da 120.5px,#0000d2 126px)"></i><i style="left:30px;width:2px;background:linear-gradient(#faff05 0px,#f6ff09 5.5px,#85ff7a 20.5px,#56ffa9 28.5px,#38ffc7 41.5px,#2fffd0 64.5px,#5dffa2 70.5px,#c0ff3f 79.5px,#eeff11 85.5px,#fffa00 89.5px,#ffea00 93.5px,#fbff04 98.5px,#eaff15 100.5px,#d7ff28 101.5px,#99ff66 103.5px,#45ffba 105.5px,#12ffed 106.5px,#00d9ff 107.5px,#0080ff 109.5px,#0057ff 110.5px,#0039ff 111.5px,#0004ff 114.5px,#0000da 120.5px,#0000d2 126px)"></i><i style="left:32px;width:2px;background:linear-gradient(#fbff04 0px,#f7ff08 5.5px,#86ff79 20.5px,#57ffa8 28.5px,#39ffc6 41.5px,#2fffd0 64.5px,#5effa1 70.5px,#c0ff3f 79.5px,#efff10 85.5px,#fffe00 88.5px,#ffe700 93.5px,#fcff03 98.5px,#ebff14 100.5px,#d8ff27 101.5px,#9aff65 103.5px,#45ffba 105.5px,#12ffed 106.5px,#00d9ff 107.5px,#0080ff 109.5px,#0057ff 110.5px,#0039ff 111.5px,#0004ff 114.5px,#0000da 120.5px,#0000d2 126px)"></i><i style="left:34px;width:2px;background:linear-gradient(#fcff03 0px,#f8ff07 5.5px,#87ff78 20.5px,#57ffa8 28.5px,#3affc5 41.5px,#30ffcf 64.5px,#5effa1 70.5px,#c1ff3e 79.5px,#f0ff0f 85.5px,#fffd00 88.5px,#ffe500 93.5px,#fff700 97.5px,#f5ff0a 99.5px,#ecff13 100.5px,#d8ff27 101.5px,#9bff64 103.5px,#74ff8b 104.5px,#12ffed 106.5px,#00d9ff 107.5px,#0080ff 109.5px,#0057ff 110.5px,#0039ff 111.5px,#0004ff 114.5px,#0000da 120.5px,#0000d2 126px)"></i><i style="left:36px;width:2px;background:linear-gradient(#fdff02 0px,#f9ff06 5.5px,#87ff78 20.5px,#58ffa7 28.5px,#3affc5 41.5px,#31ffce 64.5px,#5fffa0 70.5px,#c2ff3d 79.5px,#f0ff0f 85.5px,#fffc00 88.5px,#ffe400 92.5px,#ffee00 96.5px,#ffff00 98.5px,#edff12 100.5px,#d9ff26 101.5px,#9cff63 103.5px,#75ff8a 104.5px,#12ffed 106.5px,#00d9ff 107.5px,#0080ff 109.5px,#0057ff 110.5px,#0039ff 111.5px,#0004ff 114.5px,#0000da 120.5px,#0000d2 126px)"></i><i style="left:38px;width:2px;background:linear-gradient(#feff01 0px,#f9ff06 5.5px,#88ff77 20.5px,#59ffa6 28.5px,#3bffc4 41.5px,#32ffcd 64.5px,#60ff9f 70.5px,#c3ff3c 79.5px,#f1ff0e 85.5px,#fffb00 88.5px,#ffe100 92.5px,#ffed00 96.5px,#fffe00 98.5px,#eeff11 100.5px,#daff25 101.5px,#9dff62 103.5px,#76ff89 104.5px,#12ffed 106.5px,#00d9ff 107.5px,#0080ff 109.5px,#0057ff 110.5px,#0039ff 111.5px,#0004ff 114.5px,#0000da 120.5px,#0000d2 126px)"></i><i style="left:40px;width:2px;background:linear-gradient(#feff01 0px,#faff05 5.5px,#89ff76 20.5px,#5affa5 28.5px,#3cffc3 41.5px,#33ffcc 64.5px,#61ff9e 70.5px,#c4ff3b 79.5px,#f2ff0d 85.5px,#fffa00 88.5px,#ffe000 92.5px,#ffe600 95.5px,#fffc00 98.5px,#efff10 100.5px,#dbff24 101.5px,#9eff61 103.5px,#76ff89 104.5px,#12ffed 106.5px,#00d9ff 107.5px,#0080ff 109.5px,#0057ff 110.5px,#0039ff 111.5px,#0004ff 114.5px,#0000da 120.5px,#0000d2 126px)"></i><i style="left:42px;width:2px;background:linear-gradient(#ffff00 0px,#fbff04 5.5px,#8aff75 20.5px,#5bffa4 28.5px,#3dffc2 41.5px,#33ffcc 64.5px,#62ff9d 70.5px,#c5ff3a 79.5px,#f3ff0c 85.5px,#ffff00 87.5px,#ffde00 92.5px,#ffe400 95.5px,#fffb00 98.5px,#f0ff0f 100.5px,#dcff23 101.5px,#9eff61 103.5px,#77ff88 104.5px,#12ffed 106.5px,#00d9ff 107.5px,#0080ff 109.5px,#0057ff 110.5px,#0039ff 111.5px,#0004ff 114.5px,#0000da 120.5px,#0000d2 126px)"></i><i style="left:44px;width:2px;background:linear-gradient(#fffe00 0px,#fcff03 5.5px,#8bff74 20.5px,#5cffa3 28.5px,#3effc1 41.5px,#34ffcb 64.5px,#63ff9c 70.5px,#c5ff3a 79.5px,#f4ff0b 85.5px,#ffff00 87.5px,#ffdc00 92.5px,#ffe300 95.5px,#faff05 99.5px,#f1ff0e 100.5px,#ddff22 101.5px,#9fff60 103.5px,#77ff88 104.5px,#12ffed 106.5px,#00d9ff 107.5px,#0080ff 109.5px,#0057ff 110.5px,#0039ff 111.5px,#0004ff 114.5px,#0000da 120.5px,#0000d2 126px)"></i><i style="left:46px;width:2px;background:linear-gradient(#fffd00 0px,#fdff02 5.5px,#8cff73 20.5px,#5cffa3 28.5px,#3effc1 41.5px,#35ffca 64.5px,#63ff9c 70.5px,#c6ff39 79.5px,#f5ff0a 85.5px,#fffe00 87.5px,#ffdb00 92.5px,#ffe100 95.5px,#fbff04 99.5px,#f2ff0d 100.5px,#ddff22 101.5px,#a0ff5f 103.5px,#78ff87 104.5px,#12ffed 106.5px,#00d9ff 107.5px,#0080ff 109.5px,#0057ff 110.5px,#0039ff 111.5px,#0004ff 114.5px,#0000da 120.5px,#0000d2 126px)"></i><i style="left:48px;width:2px;background:linear-gradient(#fffc00 0px,#feff01 5.5px,#8cff73 20.5px,#5dffa2 28.5px,#3fffc0 41.5px,#36ffc9 64.5px,#64ff9b 70.5px,#c7ff38 79.5px,#f5ff0a 85.5px,#fff600 88.5px,#ffd900 92.5px,#ffe000 95.5px,#fdff02 99.5px,#f2ff0d 100.5px,#deff21 101.5px,#a1ff5e 103.5px,#79ff86 104.5px,#12ffed 106.5px,#00d9ff 107.5px,#0080ff 109.5px,#0057ff 110.5px,#0039ff 111.5px,#0004ff 114.5px,#0000da 120.5px,#0000d2 126px)"></i><i style="left:50px;width:2px;background:linear-gradient(#fffc00 0px,#feff01 5.5px,#8dff72 20.5px,#5effa1 28.5px,#40ffbf 41.5px,#37ffc8 64.5px,#65ff9a 70.5px,#c8ff37 79.5px,#f6ff09 85.5px,#fff600 88.5px,#ffd800 92.5px,#ffde00 95.5px,#fff600 98.5px,#feff01 99.5px,#f3ff0c 100.5px,#dfff20 101.5px,#a2ff5d 103.5px,#79ff86 104.5px,#12ffed 106.5px,#00d9ff 107.5px,#0080ff 109.5px,#0057ff 110.5px,#0039ff 111.5px,#0004ff 114.5px,#0000da 120.5px,#0000d2 126px)"></i><i style="left:52px;width:2px;background:linear-gradient(#fffb00 0px,#ffff00 5.5px,#8eff71 20.5px,#5fffa0 28.5px,#41ffbe 41.5px,#37ffc8 64.5px,#66ff99 70.5px,#c9ff36 79.5px,#f7ff08 85.5px,#fff500 88.5px,#ffd700 92.5px,#ffdd00 95.5px,#fff400 98.5px,#ffff00 99.5px,#f4ff0b 100.5px,#e0ff1f 101.5px,#a2ff5d 103.5px,#7aff85 104.5px,#12ffed 106.5px,#00d9ff 107.5px,#0080ff 109.5px,#0057ff 110.5px,#0039ff 111.5px,#0004ff 114.5px,#0000da 120.5px,#0000d2 126px)"></i><i style="left:54px;width:2px;background:linear-gradient(#fffa00 0px,#fffe00 5.5px,#8fff70 20.5px,#60ff9f 28.5px,#42ffbd 41.5px,#39ffc6 64.5px,#67ff98 70.5px,#caff35 79.5px,#f8ff07 85.5px,#fff400 88.5px,#ffd600 92.5px,#ffdc00 95.5px,#fff300 98.5px,#fffe00 99.5px,#f5ff0a 100.5px,#e1ff1e 101.5px,#a3ff5c 103.5px,#7aff85 104.5px,#12ffed 106.5px,#00d9ff 107.5px,#0080ff 109.5px,#0057ff 110.5px,#0039ff 111.5px,#0004ff 114.5px,#0000da 120.5px,#0000d2 126px)"></i><i style="left:56px;width:2px;background:linear-gradient(#fff800 0px,#fffd00 5.5px,#91ff6e 20.5px,#62ff9d 28.5px,#44ffbb 41.5px,#3cffc3 64.5px,#69ff96 70.5px,#cbff34 79.5px,#f8ff07 85.5px,#fff400 88.5px,#ffd600 92.5px,#ffdb00 95.5px,#fff200 98.5px,#fffd00 99.5px,#f6ff09 100.5px,#e1ff1e 101.5px,#a4ff5b 103.5px,#7bff84 104.5px,#12ffed 106.5px,#00d9ff 107.5px,#0080ff 109.5px,#0057ff 110.5px,#0039ff 111.5px,#0004ff 114.5px,#0000da 120.5px,#0000d2 126px)"></i><i style="left:58px;width:2px;background:linear-gradient(#fff700 0px,#fffc00 5.5px,#92ff6d 20.5px,#62ff9d 29.5px,#47ffb8 41.5px,#43ffbc 65.5px,#77ff88 71.5px,#ccff33 79.5px,#f9ff06 85.5px,#fffa00 87.5px,#ffd500 92.5px,#ffda00 95.5px,#fff100 98.5px,#fffc00 99.5px,#f7ff08 100.5px,#e2ff1d 101.5px,#a5ff5a 103.5px,#7cff83 104.5px,#12ffed 106.5px,#00d9ff 107.5px,#0080ff 109.5px,#0057ff 110.5px,#0039ff 111.5px,#0004ff 114.5px,#0000da 120.5px,#0000d2 126px)"></i><i style="left:60px;width:2px;background:linear-gradient(#fff500 0px,#fffc00 5.5px,#8eff71 21.5px,#64ff9b 29.5px,#49ffb6 41.5px,#46ffb9 65.5px,#79ff86 71.5px,#ceff31 79.5px,#faff05 85.5px,#fff200 88.5px,#ffd400 92.5px,#ffd900 95.5px,#fff000 98.5px,#f8ff07 100.5px,#e3ff1c 101.5px,#a6ff59 103.5px,#7cff83 104.5px,#12ffed 106.5px,#00d9ff 107.5px,#0080ff 109.5px,#0057ff 110.5px,#0039ff 111.5px,#0004ff 114.5px,#0000da 120.5px,#0000d2 126px)"></i><i style="left:62px;width:2px;background:linear-gradient(#fff400 0px,#fffb00 5.5px,#a8ff57 17.5px,#69ff96 28.5px,#4cffb3 41.5px,#49ffb6 65.5px,#7bff84 71.5px,#cfff30 79.5px,#fbff04 85.5px,#fff200 88.5px,#ffd300 92.5px,#ffd800 95.5px,#ffe300 97.5px,#fffa00 99.5px,#f9ff06 100.5px,#e4ff1b 101.5px,#a6ff59 103.5px,#7dff82 104.5px,#12ffed 106.5px,#00d9ff 107.5px,#0080ff 109.5px,#0057ff 110.5px,#0039ff 111.5px,#0004ff 114.5px,#0000da 120.5px,#0000d2 126px)"></i><i style="left:64px;width:2px;background:linear-gradient(#fff200 0px,#fffa00 5.5px,#ecff13 8.5px,#92ff6d 21.5px,#69ff96 29.5px,#4effb1 41.5px,#4cffb3 65.5px,#7eff81 71.5px,#d1ff2e 79.5px,#fcff03 85.5px,#ffe900 89.5px,#ffd200 92.5px,#ffd700 95.5px,#ffe200 97.5px,#faff05 100.5px,#e5ff1a 101.5px,#a7ff58 103.5px,#7dff82 104.5px,#12ffed 106.5px,#00d9ff 107.5px,#0080ff 109.5px,#0057ff 110.5px,#0039ff 111.5px,#0004ff 114.5px,#0000da 120.5px,#0000d2 126px)"></i><i style="left:66px;width:2px;background:linear-gradient(#ffef00 0px,#fff800 5.5px,#f5ff0a 7.5px,#9aff65 20.5px,#6cff93 29.5px,#51ffae 41.5px,#4fffb0 65.5px,#80ff7f 71.5px,#d2ff2d 79.5px,#fcff03 85.5px,#ffe800 89.5px,#ffd100 92.5px,#ffd500 95.5px,#ffe000 97.5px,#faff05 100.5px,#e5ff1a 101.5px,#a8ff57 103.5px,#7eff81 104.5px,#12ffed 106.5px,#00d9ff 107.5px,#0080ff 109.5px,#0057ff 110.5px,#0039ff 111.5px,#0004ff 114.5px,#0000da 120.5px,#0000d2 126px)"></i><i style="left:68px;width:2px;background:linear-gradient(#ffec00 0px,#fff500 5.5px,#fffe00 6.5px,#a7ff58 18.5px,#6eff91 29.5px,#53ffac 41.5px,#52ffad 65.5px,#82ff7d 71.5px,#d3ff2c 79.5px,#fdff02 85.5px,#ffdf00 90.5px,#ffcd00 93.5px,#ffde00 97.5px,#fbff04 100.5px,#e6ff19 101.5px,#a9ff56 103.5px,#7fff80 104.5px,#12ffed 106.5px,#00d9ff 107.5px,#0080ff 109.5px,#0057ff 110.5px,#0039ff 111.5px,#0004ff 114.5px,#0000da 120.5px,#0000d2 126px)"></i><i style="left:70px;width:2px;background:linear-gradient(#ffe700 0px,#ffea00 4.5px,#faff05 7.5px,#b6ff49 16.5px,#74ff8b 28.5px,#56ffa9 41.5px,#56ffa9 65.5px,#85ff7a 71.5px,#d5ff2a 79.5px,#ffff00 85.5px,#ffda00 90.5px,#ffc900 92.5px,#ffca00 94.5px,#ffdb00 97.5px,#fdff02 100.5px,#e7ff18 101.5px,#aaff55 103.5px,#7fff80 104.5px,#12ffed 106.5px,#00d9ff 107.5px,#0080ff 109.5px,#0057ff 110.5px,#0039ff 111.5px,#0004ff 114.5px,#0000da 120.5px,#0000d2 126px)"></i><i style="left:72px;width:2px;background:linear-gradient(#ffe000 0px,#ffe200 4.5px,#fefe01 7.5px,#b7ff48 17.5px,#7aff85 29.5px,#5fffa0 41.5px,#60ff9f 65.5px,#8dff72 71.5px,#dcff23 79.5px,#fefe01 84.5px,#ffe700 88.5px,#ffbe00 92.5px,#ffc100 94.5px,#ffd700 97.5px,#feff01 100.5px,#e8ff17 101.5px,#abff54 103.5px,#80ff7f 104.5px,#12ffed 106.5px,#00d9ff 107.5px,#0080ff 109.5px,#0057ff 110.5px,#0039ff 111.5px,#0004ff 114.5px,#0000da 120.5px,#0000d2 126px)"></i><i style="left:74px;width:2px;background:linear-gradient(#ffda00 0px,#ffda00 4.5px,#fefe01 8.5px,#9cff63 25.5px,#83ff7c 32.5px,#70ff8f 41.5px,#71ff8e 65.5px,#9eff61 71.5px,#e4ff1b 78.5px,#fffb00 83.5px,#ffdf00 88.5px,#ffb300 92.5px,#ffb700 94.5px,#ffd200 97.5px,#ffff00 100.5px,#e9ff16 101.5px,#abff54 103.5px,#81ff7e 104.5px,#12ffed 106.5px,#00d9ff 107.5px,#0080ff 109.5px,#0057ff 110.5px,#0039ff 111.5px,#0004ff 114.5px,#0000da 120.5px,#0000d2 126px)"></i><i style="left:76px;width:2px;background:linear-gradient(#ffd800 0px,#ffd800 4.5px,#fffe00 8.5px,#9eff61 25.5px,#86ff79 32.5px,#72ff8d 41.5px,#74ff8b 65.5px,#a0ff5f 71.5px,#e6ff19 78.5px,#fffa00 83.5px,#ffde00 88.5px,#ffb100 92.5px,#ffb400 94.5px,#ffd100 97.5px,#fffe00 100.5px,#eaff15 101.5px,#acff53 103.5px,#81ff7e 104.5px,#12ffed 106.5px,#00d9ff 107.5px,#0080ff 109.5px,#0057ff 110.5px,#0039ff 111.5px,#0004ff 114.5px,#0000da 120.5px,#0000d2 126px)"></i><i style="left:78px;width:2px;background:linear-gradient(#ffd900 0px,#ffdc00 4.5px,#fffb00 7.5px,#b1ff4e 19.5px,#81ff7e 29.5px,#66ff99 41.5px,#69ff96 65.5px,#8aff75 70.5px,#daff25 78.5px,#fffd00 84.5px,#ffe300 88.5px,#ffb700 92.5px,#ffb900 94.5px,#ffd200 97.5px,#fffd00 100.5px,#ebff14 101.5px,#adff52 103.5px,#82ff7d 104.5px,#12ffed 106.5px,#00d9ff 107.5px,#0080ff 109.5px,#0057ff 110.5px,#0039ff 111.5px,#0004ff 114.5px,#0000da 120.5px,#0000d2 126px)"></i><i style="left:80px;width:2px;background:linear-gradient(#ffdb00 0px,#ffe000 4.5px,#ffff00 7.5px,#cfff30 13.5px,#81ff7e 27.5px,#5fffa0 41.5px,#62ff9d 65.5px,#82ff7d 70.5px,#d9ff26 79.5px,#fffd00 85.5px,#ffde00 89.5px,#ffc000 92.5px,#ffc100 94.5px,#ffd500 97.5px,#fffe00 100.5px,#e9ff16 101.5px,#acff53 103.5px,#81ff7e 104.5px,#12ffed 106.5px,#00d9ff 107.5px,#0080ff 109.5px,#0057ff 110.5px,#0039ff 111.5px,#0004ff 114.5px,#0000da 120.5px,#0000d2 126px)"></i><i style="left:82px;width:2px;background:linear-gradient(#ffdc00 0px,#ffe300 4.5px,#fcff03 7.5px,#c8ff37 13.5px,#8cff73 23.5px,#6eff91 30.5px,#56ffa9 41.5px,#56ffa9 65.5px,#77ff88 70.5px,#cfff30 79.5px,#fffd00 86.5px,#ffc800 92.5px,#ffc900 94.5px,#ffdb00 97.5px,#fcff03 100.5px,#e6ff19 101.5px,#aaff55 103.5px,#80ff7f 104.5px,#12ffed 106.5px,#00d9ff 107.5px,#007fff 109.5px,#0057ff 110.5px,#0039ff 111.5px,#0004ff 114.5px,#0000da 120.5px,#0000d2 126px)"></i><i style="left:84px;width:2px;background:linear-gradient(#ffdb00 0px,#ffe000 4.5px,#fdff02 7.5px,#c2ff3d 14.5px,#81ff7e 25.5px,#6bff94 31.5px,#55ffaa 41.5px,#53ffac 65.5px,#74ff8b 70.5px,#ccff33 79.5px,#feff01 86.5px,#ffcb00 92.5px,#ffcc00 94.5px,#ffdf00 97.5px,#fff900 99.5px,#f9ff06 100.5px,#e4ff1b 101.5px,#a8ff57 103.5px,#7eff81 104.5px,#12ffed 106.5px,#00d9ff 107.5px,#007fff 109.5px,#0057ff 110.5px,#0039ff 111.5px,#0004ff 114.5px,#0000da 120.5px,#0000d2 126px)"></i><i style="left:86px;width:2px;background:linear-gradient(#ffd800 0px,#ffd600 3.5px,#ffe300 5.5px,#fffa00 7.5px,#d3ff2c 13.5px,#95ff6a 23.5px,#79ff86 29.5px,#5effa1 41.5px,#5affa5 65.5px,#7bff84 70.5px,#d2ff2d 79.5px,#fcff03 85.5px,#ffe600 89.5px,#ffcd00 92.5px,#ffce00 94.5px,#ffe200 97.5px,#fffd00 99.5px,#f6ff09 100.5px,#e1ff1e 101.5px,#a6ff59 103.5px,#7dff82 104.5px,#12ffed 106.5px,#00d9ff 107.5px,#0080ff 109.5px,#0057ff 110.5px,#0039ff 111.5px,#0004ff 114.5px,#0000da 120.5px,#0000d2 126px)"></i><i style="left:88px;width:2px;background:linear-gradient(#ffd500 0px,#ffd200 3.5px,#ffdf00 5.5px,#feff01 8.5px,#abff54 20.5px,#7eff81 29.5px,#63ff9c 41.5px,#5dffa2 65.5px,#7eff81 70.5px,#ddff22 80.5px,#fdff02 85.5px,#ffe700 89.5px,#ffd000 92.5px,#ffd200 94.5px,#ffe600 97.5px,#feff01 99.5px,#f2ff0d 100.5px,#deff21 101.5px,#a4ff5b 103.5px,#7bff84 104.5px,#12ffed 106.5px,#00d9ff 107.5px,#0080ff 109.5px,#0057ff 110.5px,#0039ff 111.5px,#0004ff 114.5px,#0000da 120.5px,#0000d2 126px)"></i><i style="left:90px;width:2px;background:linear-gradient(#ffd500 0px,#ffd000 3.5px,#ffdd00 5.5px,#fffd00 8.5px,#a7ff58 21.5px,#7fff80 29.5px,#64ff9b 41.5px,#5cffa3 65.5px,#7dff82 70.5px,#dcff23 80.5px,#fdff02 85.5px,#ffea00 89.5px,#ffd500 92.5px,#ffdc00 95.5px,#faff05 99.5px,#efff10 100.5px,#dbff24 101.5px,#a1ff5e 103.5px,#7aff85 104.5px,#12ffed 106.5px,#00d9ff 107.5px,#0080ff 109.5px,#0057ff 110.5px,#0039ff 111.5px,#0004ff 114.5px,#0000da 120.5px,#0000d2 126px)"></i><i style="left:92px;width:2px;background:linear-gradient(#ffd800 0px,#ffd400 3.5px,#ffec00 6.5px,#feff01 8.5px,#a7ff58 20.5px,#78ff87 29.5px,#5cffa3 42.5px,#53ffac 65.5px,#74ff8b 70.5px,#ddff22 81.5px,#fcff03 86.5px,#ffdc00 93.5px,#fff100 97.5px,#fffd00 98.5px,#ecff13 100.5px,#d8ff27 101.5px,#9fff60 103.5px,#78ff87 104.5px,#12ffed 106.5px,#00d9ff 107.5px,#0080ff 109.5px,#0057ff 110.5px,#0039ff 111.5px,#0004ff 114.5px,#0000da 120.5px,#0000d2 126px)"></i><i style="left:94px;width:2px;background:linear-gradient(#ffdc00 0px,#ffdb00 3.5px,#fff200 6.5px,#f9ff06 8.5px,#a3ff5c 19.5px,#6dff92 29.5px,#51ffae 42.5px,#46ffb9 65.5px,#67ff98 70.5px,#e4ff1b 83.5px,#fffd00 88.5px,#ffe600 93.5px,#fff700 97.5px,#fcff03 98.5px,#e8ff17 100.5px,#d5ff2a 101.5px,#9dff62 103.5px,#77ff88 104.5px,#12ffed 106.5px,#00d9ff 107.5px,#0080ff 109.5px,#0057ff 110.5px,#0039ff 111.5px,#0004ff 114.5px,#0000da 120.5px,#0000d2 126px)"></i><i style="left:96px;width:2px;background:linear-gradient(#ffe200 0px,#ffe600 4.5px,#fdff02 7.5px,#9bff64 19.5px,#67ff98 28.5px,#48ffb7 42.5px,#3bffc4 65.5px,#5cffa3 70.5px,#e4ff1b 84.5px,#fffa00 90.5px,#fff100 93.5px,#fffd00 97.5px,#e5ff1a 100.5px,#d2ff2d 101.5px,#9bff64 103.5px,#75ff8a 104.5px,#12ffed 106.5px,#00d9ff 107.5px,#0080ff 109.5px,#0057ff 110.5px,#0039ff 111.5px,#0004ff 114.5px,#0000da 120.5px,#0000d2 126px)"></i><i style="left:98px;width:2px;background:linear-gradient(#ffe700 0px,#ffed00 4.5px,#faff05 7.5px,#97ff68 19.5px,#62ff9d 28.5px,#43ffbc 42.5px,#34ffcb 65.5px,#55ffaa 70.5px,#e0ff1f 84.5px,#fefe01 91.5px,#fbff04 97.5px,#e1ff1e 100.5px,#cfff30 101.5px,#98ff67 103.5px,#74ff8b 104.5px,#12ffed 106.5px,#00d9ff 107.5px,#0080ff 109.5px,#0057ff 110.5px,#0039ff 111.5px,#0004ff 114.5px,#0000da 120.5px,#0000d2 126px)"></i><i style="left:100px;width:2px;background:linear-gradient(#ffeb00 0px,#fff700 5.5px,#f8ff07 7.5px,#95ff6a 19.5px,#5fffa0 28.5px,#40ffbf 42.5px,#30ffcf 65.5px,#51ffae 70.5px,#ddff22 84.5px,#f9ff06 91.5px,#fbff04 96.5px,#dfff20 100.5px,#cdff32 101.5px,#97ff68 103.5px,#73ff8c 104.5px,#12ffed 106.5px,#00d9ff 107.5px,#0080ff 109.5px,#0057ff 110.5px,#0039ff 111.5px,#0004ff 114.5px,#0000da 120.5px,#0000d2 126px)"></i><i style="left:102px;width:2px;background:linear-gradient(#ffec00 0px,#fff900 5.5px,#f7ff08 7.5px,#abff54 16.5px,#5effa1 28.5px,#3effc1 42.5px,#2fffd0 65.5px,#4fffb0 70.5px,#dbff24 84.5px,#f4ff0b 90.5px,#f8ff07 96.5px,#deff21 100.5px,#cdff32 101.5px,#97ff68 103.5px,#73ff8c 104.5px,#12ffed 106.5px,#00d9ff 107.5px,#0080ff 109.5px,#0057ff 110.5px,#0039ff 111.5px,#0004ff 114.5px,#0000da 120.5px,#0000d2 126px)"></i><i style="left:104px;width:2px;background:linear-gradient(#ffed00 0px,#fff900 5.5px,#f7ff08 7.5px,#b3ff4c 15.5px,#87ff78 21.5px,#5bffa4 29.5px,#3cffc3 42.5px,#2dffd2 65.5px,#4effb1 70.5px,#daff25 84.5px,#f1ff0e 90.5px,#f6ff09 96.5px,#ddff22 100.5px,#ccff33 101.5px,#97ff68 103.5px,#73ff8c 104.5px,#12ffed 106.5px,#00d9ff 107.5px,#0080ff 109.5px,#0057ff 110.5px,#0039ff 111.5px,#0004ff 114.5px,#0000da 120.5px,#0000d2 126px)"></i><i style="left:106px;width:2px;background:linear-gradient(#ffec00 0px,#fff800 5.5px,#f7ff08 7.5px,#b2ff4d 15.5px,#86ff79 21.5px,#5affa5 29.5px,#3bffc4 42.5px,#2bffd4 65.5px,#4cffb3 70.5px,#d8ff27 84.5px,#efff10 90.5px,#f4ff0b 96.5px,#dcff23 100.5px,#cbff34 101.5px,#97ff68 103.5px,#73ff8c 104.5px,#12ffed 106.5px,#00d9ff 107.5px,#0080ff 109.5px,#0057ff 110.5px,#0039ff 111.5px,#0004ff 114.5px,#0000da 120.5px,#0000d2 126px)"></i><i style="left:108px;width:2px;background:linear-gradient(#ffea00 0px,#fff600 5.5px,#f8ff07 7.5px,#91ff6e 19.5px,#59ffa6 29.5px,#39ffc6 42.5px,#2affd5 65.5px,#4affb5 70.5px,#d7ff28 84.5px,#eeff11 90.5px,#f3ff0c 96.5px,#dbff24 100.5px,#cbff34 101.5px,#97ff68 103.5px,#73ff8c 104.5px,#12ffed 106.5px,#00d9ff 107.5px,#0080ff 109.5px,#0057ff 110.5px,#0039ff 111.5px,#0004ff 114.5px,#0000da 120.5px,#0000d2 126px)"></i><i style="left:110px;width:2px;background:linear-gradient(#ffe800 0px,#ffee00 4.5px,#fffd00 6.5px,#c4ff3b 13.5px,#90ff6f 19.5px,#58ffa7 29.5px,#38ffc7 41.5px,#28ffd7 65.5px,#49ffb6 70.5px,#d5ff2a 84.5px,#ecff13 90.5px,#f1ff0e 96.5px,#daff25 100.5px,#caff35 101.5px,#97ff68 103.5px,#73ff8c 104.5px,#12ffed 106.5px,#00d9ff 107.5px,#0080ff 109.5px,#0057ff 110.5px,#0039ff 111.5px,#0004ff 114.5px,#0000da 120.5px,#0000d2 126px)"></i><i style="left:112px;width:2px;background:linear-gradient(#ffe600 0px,#ffec00 4.5px,#faff05 7.5px,#90ff6f 19.5px,#57ffa8 29.5px,#36ffc9 41.5px,#26ffd9 65.5px,#47ffb8 70.5px,#d3ff2c 84.5px,#eaff15 90.5px,#efff10 96.5px,#d9ff26 100.5px,#c9ff36 101.5px,#96ff69 103.5px,#73ff8c 104.5px,#12ffed 106.5px,#00d9ff 107.5px,#0080ff 109.5px,#0057ff 110.5px,#0039ff 111.5px,#0004ff 114.5px,#0000da 120.5px,#0000d2 126px)"></i><i style="left:114px;width:2px;background:linear-gradient(#ffe600 0px,#ffeb00 4.5px,#faff05 7.5px,#8fff70 19.5px,#56ffa9 29.5px,#35ffca 41.5px,#25ffda 65.5px,#45ffba 70.5px,#d2ff2d 84.5px,#e9ff16 90.5px,#eeff11 96.5px,#d8ff27 100.5px,#c9ff36 101.5px,#96ff69 103.5px,#73ff8c 104.5px,#12ffed 106.5px,#00d9ff 107.5px,#0080ff 109.5px,#0057ff 110.5px,#0039ff 111.5px,#0004ff 114.5px,#0000da 120.5px,#0000d2 126px)"></i><i style="left:116px;width:2px;background:linear-gradient(#ffe600 0px,#ffec00 4.5px,#faff05 7.5px,#8eff71 19.5px,#55ffaa 29.5px,#33ffcc 41.5px,#23ffdc 65.5px,#44ffbb 70.5px,#d0ff2f 84.5px,#e7ff18 90.5px,#ecff13 96.5px,#d7ff28 100.5px,#c8ff37 101.5px,#96ff69 103.5px,#73ff8c 104.5px,#12ffed 106.5px,#00d9ff 107.5px,#0080ff 109.5px,#0057ff 110.5px,#0039ff 111.5px,#0004ff 114.5px,#0000da 120.5px,#0000d2 126px)"></i><i style="left:118px;width:2px;background:linear-gradient(#ffe700 0px,#ffed00 4.5px,#f9ff06 7.5px,#a5ff5a 16.5px,#7bff84 22.5px,#54ffab 29.5px,#32ffcd 41.5px,#21ffde 65.5px,#42ffbd 70.5px,#ceff31 84.5px,#e5ff1a 90.5px,#eaff15 96.5px,#d6ff29 100.5px,#c7ff38 101.5px,#96ff69 103.5px,#73ff8c 104.5px,#12ffed 106.5px,#00d9ff 107.5px,#0080ff 109.5px,#0057ff 110.5px,#0039ff 111.5px,#0004ff 114.5px,#0000da 120.5px,#0000d2 126px)"></i><i style="left:120px;width:2px;background:linear-gradient(#ffe800 0px,#ffee00 4.5px,#fffd00 6.5px,#cdff32 12.5px,#92ff6d 18.5px,#53ffac 29.5px,#30ffcf 41.5px,#20ffdf 65.5px,#40ffbf 70.5px,#cdff32 84.5px,#e4ff1b 90.5px,#e9ff16 96.5px,#d5ff2a 100.5px,#c7ff38 101.5px,#96ff69 103.5px,#73ff8c 104.5px,#12ffed 106.5px,#00d9ff 107.5px,#0080ff 109.5px,#0057ff 110.5px,#0039ff 111.5px,#0004ff 114.5px,#0000da 120.5px,#0000d2 126px)"></i><i style="left:122px;width:2px;background:linear-gradient(#ffe900 0px,#ffef00 4.5px,#fffd00 6.5px,#ccff33 12.5px,#92ff6d 18.5px,#53ffac 29.5px,#2effd1 41.5px,#1effe1 65.5px,#3fffc0 70.5px,#cbff34 84.5px,#e2ff1d 90.5px,#e7ff18 96.5px,#d5ff2a 100.5px,#c6ff39 101.5px,#96ff69 103.5px,#73ff8c 104.5px,#12ffed 106.5px,#00d9ff 107.5px,#0080ff 109.5px,#0057ff 110.5px,#0039ff 111.5px,#0004ff 114.5px,#0000da 120.5px,#0000d2 126px)"></i><i style="left:124px;width:2px;background:linear-gradient(#ffe900 0px,#ffef00 4.5px,#fffd00 6.5px,#d6ff29 11.5px,#91ff6e 18.5px,#52ffad 29.5px,#2dffd2 41.5px,#1dffe2 65.5px,#3dffc2 70.5px,#caff35 84.5px,#e0ff1f 90.5px,#e6ff19 96.5px,#d4ff2b 100.5px,#c5ff3a 101.5px,#95ff6a 103.5px,#73ff8c 104.5px,#12ffed 106.5px,#00d9ff 107.5px,#0080ff 109.5px,#0057ff 110.5px,#0039ff 111.5px,#0004ff 114.5px,#0000da 120.5px,#0000d2 126px)"></i><i style="left:126px;width:2px;background:linear-gradient(#ffea00 0px,#ffef00 4.5px,#fffd00 6.5px,#d6ff29 11.5px,#91ff6e 18.5px,#51ffae 29.5px,#2cffd3 41.5px,#1bffe4 65.5px,#3bffc4 70.5px,#c8ff37 84.5px,#dfff20 90.5px,#e4ff1b 96.5px,#d3ff2c 100.5px,#c4ff3b 101.5px,#95ff6a 103.5px,#72ff8d 104.5px,#12ffed 106.5px,#00d9ff 107.5px,#0080ff 109.5px,#0057ff 110.5px,#0039ff 111.5px,#0004ff 114.5px,#0000da 120.5px,#0000d2 126px)"></i><i style="left:128px;width:2px;background:linear-gradient(#ffea00 0px,#ffee00 4.5px,#fffd00 6.5px,#d6ff29 11.5px,#91ff6e 18.5px,#50ffaf 29.5px,#2bffd4 41.5px,#18ffe7 65.5px,#39ffc6 70.5px,#c7ff38 84.5px,#deff21 90.5px,#e3ff1c 96.5px,#d2ff2d 100.5px,#c3ff3c 101.5px,#94ff6b 103.5px,#71ff8e 104.5px,#12ffed 106.5px,#00d9ff 107.5px,#0080ff 109.5px,#0057ff 110.5px,#0039ff 111.5px,#0004ff 114.5px,#0000da 120.5px,#0000d2 126px)"></i><i style="left:130px;width:2px;background:linear-gradient(#ffec00 0px,#ffef00 4.5px,#fffd00 6.5px,#d6ff29 11.5px,#91ff6e 18.5px,#4fffb0 29.5px,#29ffd6 41.5px,#16ffe9 65.5px,#37ffc8 70.5px,#c6ff39 84.5px,#ddff22 90.5px,#e2ff1d 96.5px,#d1ff2e 100.5px,#c2ff3d 101.5px,#93ff6c 103.5px,#70ff8f 104.5px,#12ffed 106.5px,#00d9ff 107.5px,#0080ff 109.5px,#0057ff 110.5px,#0039ff 111.5px,#0004ff 114.5px,#0000da 120.5px,#0000d2 126px)"></i><i style="left:132px;width:2px;background:linear-gradient(#ffee00 0px,#fff000 4.5px,#fffe00 6.5px,#d6ff29 11.5px,#91ff6e 18.5px,#4effb1 29.5px,#28ffd7 41.5px,#14ffeb 65.5px,#35ffca 70.5px,#c5ff3a 84.5px,#dcff23 90.5px,#e1ff1e 96.5px,#d0ff2f 100.5px,#c1ff3e 101.5px,#92ff6d 103.5px,#70ff8f 104.5px,#12ffed 106.5px,#00d9ff 107.5px,#0080ff 109.5px,#0057ff 110.5px,#0039ff 111.5px,#0004ff 114.5px,#0000da 120.5px,#0000d2 126px)"></i><i style="left:134px;width:2px;background:linear-gradient(#fff100 0px,#fff300 4.5px,#feff01 6.5px,#d6ff29 11.5px,#91ff6e 18.5px,#4dffb2 29.5px,#27ffd8 41.5px,#12ffed 65.5px,#33ffcc 70.5px,#c4ff3b 84.5px,#dbff24 90.5px,#e0ff1f 96.5px,#cfff30 100.5px,#c0ff3f 101.5px,#91ff6e 103.5px,#6fff90 104.5px,#12ffed 106.5px,#00d9ff 107.5px,#0080ff 109.5px,#0057ff 110.5px,#0039ff 111.5px,#0004ff 114.5px,#0000da 120.5px,#0000d2 126px)"></i><i style="left:136px;width:2px;background:linear-gradient(#fff500 0px,#fff600 4.5px,#f5ff0a 7.5px,#d6ff29 11.5px,#8aff75 19.5px,#4bffb4 29.5px,#26ffd9 41.5px,#10ffef 65.5px,#31ffce 70.5px,#c3ff3c 84.5px,#daff25 90.5px,#dfff20 96.5px,#ceff31 100.5px,#bfff40 101.5px,#8fff70 103.5px,#6eff91 104.5px,#12ffed 106.5px,#00d9ff 107.5px,#0080ff 109.5px,#0057ff 110.5px,#0039ff 111.5px,#0004ff 114.5px,#0000da 120.5px,#0000d2 126px)"></i><i style="left:138px;width:2px;background:linear-gradient(#fff900 0px,#fffe00 5.5px,#e1ff1e 10.5px,#90ff6f 18.5px,#4effb1 28.5px,#25ffda 41.5px,#0efff1 65.5px,#2fffd0 70.5px,#bbff44 83.5px,#d7ff28 89.5px,#deff21 96.5px,#cdff32 100.5px,#beff41 101.5px,#8eff71 103.5px,#6dff92 104.5px,#12ffed 106.5px,#00d9ff 107.5px,#0080ff 109.5px,#0057ff 110.5px,#0039ff 111.5px,#0004ff 114.5px,#0000da 120.5px,#0000d2 126px)"></i><i style="left:140px;width:2px;background:linear-gradient(#fffd00 0px,#fdff02 5.5px,#e1ff1e 10.5px,#89ff76 19.5px,#4dffb2 28.5px,#24ffdb 41.5px,#0cfff3 65.5px,#2dffd2 70.5px,#baff45 83.5px,#d6ff29 89.5px,#ddff22 96.5px,#cbff34 100.5px,#bdff42 101.5px,#8dff72 103.5px,#6dff92 104.5px,#12ffed 106.5px,#00d9ff 107.5px,#0080ff 109.5px,#0057ff 110.5px,#0039ff 111.5px,#0004ff 114.5px,#0000da 120.5px,#0000d2 126px)"></i><i style="left:142px;width:2px;background:linear-gradient(#feff01 0px,#fbff04 5.5px,#e1ff1e 10.5px,#89ff76 19.5px,#4cffb3 28.5px,#23ffdc 41.5px,#0afff5 65.5px,#2bffd4 70.5px,#b9ff46 83.5px,#d5ff2a 89.5px,#dcff23 96.5px,#caff35 100.5px,#bcff43 101.5px,#8cff73 103.5px,#6cff93 104.5px,#12ffed 106.5px,#00d9ff 107.5px,#0080ff 109.5px,#0057ff 110.5px,#0039ff 111.5px,#0004ff 114.5px,#0000da 120.5px,#0000d2 126px)"></i><i style="left:144px;width:1px;background:linear-gradient(#fcff03 0px,#f9ff06 5.5px,#e0ff1f 10.5px,#89ff76 19.5px,#4bffb4 28.5px,#22ffdd 41.5px,#09fff6 65.5px,#2affd5 70.5px,#b8ff47 83.5px,#d4ff2b 89.5px,#dcff23 96.5px,#caff35 100.5px,#bbff44 101.5px,#8cff73 103.5px,#6bff94 104.5px,#12ffed 106.5px,#00d9ff 107.5px,#0080ff 109.5px,#0057ff 110.5px,#0039ff 111.5px,#0004ff 114.5px,#0000da 120.5px,#0000d2 126px)"></i></div><div class="hm" style="left:647px;top:207px"><i style="left:0px;width:2px;background:linear-gradient(#ff8c00 0px,#ffa200 4.5px,#ffce00 8.5px,#fffb00 11.5px,#9aff65 24.5px,#64ff9b 33.5px,#1bffe4 49.5px,#19ffe6 74.5px,#3effc1 79.5px,#61ff9e 81.5px,#abff54 85.5px,#d5ff2a 88.5px,#f0ff0f 93.5px,#ecff13 97.5px,#d5ff2a 100.5px,#c4ff3b 101.5px,#8dff72 103.5px,#69ff96 104.5px,#13ffec 106.5px,#00f0ff 107.5px,#0070ff 111.5px,#005bff 112.5px,#0018ff 118.5px,#0006ff 126px)"></i><i style="left:2px;width:2px;background:linear-gradient(#ff8b00 0px,#ffa100 4.5px,#ffcc00 8.5px,#fff800 11.5px,#f1ff0e 13.5px,#8dff72 26.5px,#33ffcc 43.5px,#18ffe7 50.5px,#18ffe7 74.5px,#3effc1 79.5px,#75ff8a 82.5px,#bbff44 86.5px,#d6ff29 88.5px,#f1ff0e 93.5px,#edff12 97.5px,#d6ff29 100.5px,#c5ff3a 101.5px,#8dff72 103.5px,#69ff96 104.5px,#13ffec 106.5px,#00f0ff 107.5px,#0070ff 111.5px,#005bff 112.5px,#0018ff 118.5px,#0006ff 126px)"></i><i style="left:4px;width:2px;background:linear-gradient(#ff8a00 0px,#ff9f00 4.5px,#ffd900 9.5px,#fdff02 12.5px,#9eff61 24.5px,#56ffa9 36.5px,#17ffe8 50.5px,#17ffe8 74.5px,#3effc1 79.5px,#75ff8a 82.5px,#bcff43 86.5px,#d7ff28 88.5px,#f2ff0d 93.5px,#eeff11 97.5px,#d7ff28 100.5px,#c6ff39 101.5px,#8eff71 103.5px,#69ff96 104.5px,#13ffec 106.5px,#00f0ff 107.5px,#0070ff 111.5px,#005bff 112.5px,#0018ff 118.5px,#0006ff 126px)"></i><i style="left:6px;width:2px;background:linear-gradient(#ff8900 0px,#ffa700 5.5px,#fffe00 12.5px,#99ff66 25.5px,#37ffc8 42.5px,#16ffe9 50.5px,#16ffe9 74.5px,#3effc1 79.5px,#75ff8a 82.5px,#cdff32 87.5px,#eaff15 91.5px,#f3ff0c 94.5px,#efff10 97.5px,#d8ff27 100.5px,#c6ff39 101.5px,#8eff71 103.5px,#69ff96 104.5px,#13ffec 106.5px,#00f0ff 107.5px,#0070ff 111.5px,#005bff 112.5px,#0018ff 118.5px,#0006ff 126px)"></i><i style="left:8px;width:2px;background:linear-gradient(#ff8700 0px,#ffa500 5.5px,#fffb00 12.5px,#86ff79 28.5px,#29ffd6 45.5px,#15ffea 50.5px,#15ffea 74.5px,#3effc1 79.5px,#75ff8a 82.5px,#cdff32 87.5px,#ebff14 91.5px,#f4ff0b 94.5px,#f0ff0f 97.5px,#daff25 100.5px,#c7ff38 101.5px,#8eff71 103.5px,#69ff96 104.5px,#13ffec 106.5px,#00f0ff 107.5px,#0070ff 111.5px,#005bff 112.5px,#0018ff 118.5px,#0006ff 126px)"></i><i style="left:10px;width:2px;background:linear-gradient(#ff8600 0px,#ffa300 5.5px,#fff800 12.5px,#f3ff0c 14.5px,#8fff70 27.5px,#2dffd2 44.5px,#14ffeb 50.5px,#14ffeb 74.5px,#3effc1 79.5px,#75ff8a 82.5px,#ceff31 87.5px,#ecff13 91.5px,#f5ff0a 94.5px,#f1ff0e 97.5px,#dbff24 100.5px,#c8ff37 101.5px,#8eff71 103.5px,#69ff96 104.5px,#13ffec 106.5px,#00f0ff 107.5px,#0070ff 111.5px,#005bff 112.5px,#0018ff 118.5px,#0006ff 126px)"></i><i style="left:12px;width:2px;background:linear-gradient(#ff8500 0px,#ffa100 5.5px,#fffe00 13.5px,#9fff60 25.5px,#32ffcd 43.5px,#13ffec 50.5px,#13ffec 74.5px,#3effc1 79.5px,#75ff8a 82.5px,#cfff30 87.5px,#e7ff18 90.5px,#f6ff09 93.5px,#f3ff0c 97.5px,#dcff23 100.5px,#c9ff36 101.5px,#8eff71 103.5px,#69ff96 104.5px,#13ffec 106.5px,#00f0ff 107.5px,#0070ff 111.5px,#005bff 112.5px,#0018ff 118.5px,#0006ff 126px)"></i><i style="left:14px;width:2px;background:linear-gradient(#ff8400 0px,#ff9f00 5.5px,#fffc00 13.5px,#8cff73 28.5px,#28ffd7 45.5px,#12ffed 50.5px,#12ffed 74.5px,#3dffc2 79.5px,#75ff8a 82.5px,#d0ff2f 87.5px,#e8ff17 90.5px,#f7ff08 93.5px,#f4ff0b 97.5px,#ddff22 100.5px,#caff35 101.5px,#8eff71 103.5px,#69ff96 104.5px,#13ffec 106.5px,#00f0ff 107.5px,#0070ff 111.5px,#005bff 112.5px,#0018ff 118.5px,#0006ff 126px)"></i><i style="left:16px;width:2px;background:linear-gradient(#ff8300 0px,#ff9d00 5.5px,#fff900 13.5px,#e9ff16 16.5px,#81ff7e 30.5px,#27ffd8 45.5px,#11ffee 50.5px,#11ffee 74.5px,#3dffc2 79.5px,#d1ff2e 87.5px,#e9ff16 90.5px,#f8ff07 93.5px,#f5ff0a 97.5px,#deff21 100.5px,#cbff34 101.5px,#8fff70 103.5px,#13ffec 106.5px,#00f0ff 107.5px,#0070ff 111.5px,#005bff 112.5px,#0018ff 118.5px,#0006ff 126px)"></i><i style="left:18px;width:2px;background:linear-gradient(#ff8200 0px,#ff9b00 5.5px,#fff600 13.5px,#feff01 14.5px,#a6ff59 25.5px,#2cffd3 44.5px,#10ffef 50.5px,#10ffef 74.5px,#33ffcc 78.5px,#4cffb3 80.5px,#c0ff3f 86.5px,#deff21 88.5px,#f9ff06 93.5px,#f6ff09 97.5px,#dfff20 100.5px,#ccff33 101.5px,#8fff70 103.5px,#13ffec 106.5px,#00f0ff 107.5px,#0070ff 111.5px,#005bff 112.5px,#0018ff 118.5px,#0006ff 126px)"></i><i style="left:20px;width:2px;background:linear-gradient(#ff8000 0px,#ff9800 5.5px,#fffe00 14.5px,#a0ff5f 26.5px,#2cffd3 44.5px,#10ffef 50.5px,#10ffef 74.5px,#34ffcb 78.5px,#4effb1 80.5px,#c1ff3e 86.5px,#dfff20 88.5px,#faff05 93.5px,#f7ff08 97.5px,#e0ff1f 100.5px,#cdff32 101.5px,#8fff70 103.5px,#13ffec 106.5px,#00f0ff 107.5px,#0070ff 111.5px,#005bff 112.5px,#0018ff 118.5px,#0006ff 126px)"></i><i style="left:22px;width:2px;background:linear-gradient(#ff7c00 0px,#ff9500 5.5px,#fffd00 14.5px,#9aff65 27.5px,#29ffd6 45.5px,#12ffed 50.5px,#12ffed 74.5px,#36ffc9 78.5px,#50ffaf 80.5px,#b2ff4d 85.5px,#e0ff1f 88.5px,#fbff04 93.5px,#f8ff07 97.5px,#e1ff1e 100.5px,#ceff31 101.5px,#90ff6f 103.5px,#6aff95 104.5px,#13ffec 106.5px,#00f0ff 107.5px,#0070ff 111.5px,#005bff 112.5px,#0018ff 118.5px,#0006ff 126px)"></i><i style="left:24px;width:2px;background:linear-gradient(#ff7800 0px,#ff9200 5.5px,#fffb00 14.5px,#93ff6c 28.5px,#2bffd4 45.5px,#14ffeb 50.5px,#14ffeb 74.5px,#38ffc7 78.5px,#52ffad 80.5px,#a4ff5b 84.5px,#e1ff1e 88.5px,#fcff03 93.5px,#f9ff06 97.5px,#e2ff1d 100.5px,#cfff30 101.5px,#91ff6e 103.5px,#6aff95 104.5px,#13ffec 106.5px,#00f0ff 107.5px,#0070ff 111.5px,#005bff 112.5px,#0018ff 118.5px,#0006ff 126px)"></i><i style="left:26px;width:2px;background:linear-gradient(#ff7400 0px,#ff8f00 5.5px,#fffa00 14.5px,#e8ff17 17.5px,#78ff87 32.5px,#19ffe6 49.5px,#16ffe9 74.5px,#3affc5 78.5px,#54ffab 80.5px,#a7ff58 84.5px,#e2ff1d 88.5px,#fdff02 93.5px,#faff05 97.5px,#e3ff1c 100.5px,#d0ff2f 101.5px,#92ff6d 103.5px,#6bff94 104.5px,#13ffec 106.5px,#00f0ff 107.5px,#0070ff 111.5px,#005bff 112.5px,#0018ff 118.5px,#0006ff 126px)"></i><i style="left:28px;width:2px;background:linear-gradient(#ff7000 0px,#ff8c00 5.5px,#fff800 14.5px,#f1ff0e 16.5px,#8dff72 29.5px,#25ffda 47.5px,#18ffe7 51.5px,#18ffe7 74.5px,#3cffc3 78.5px,#56ffa9 80.5px,#a9ff56 84.5px,#e3ff1c 88.5px,#feff01 93.5px,#fbff04 97.5px,#e4ff1b 100.5px,#d1ff2e 101.5px,#93ff6c 103.5px,#6cff93 104.5px,#13ffec 106.5px,#00f0ff 107.5px,#0070ff 111.5px,#005bff 112.5px,#0018ff 118.5px,#0006ff 126px)"></i><i style="left:30px;width:2px;background:linear-gradient(#ff6c00 0px,#ff8900 5.5px,#fcff03 15.5px,#abff54 25.5px,#5dffa2 37.5px,#1bffe4 50.5px,#1bffe4 74.5px,#3effc1 78.5px,#58ffa7 80.5px,#acff53 84.5px,#e4ff1b 88.5px,#fffe00 93.5px,#fcff03 97.5px,#e5ff1a 100.5px,#d2ff2d 101.5px,#94ff6b 103.5px,#6dff92 104.5px,#13ffec 106.5px,#00f0ff 107.5px,#0070ff 111.5px,#005bff 112.5px,#0018ff 118.5px,#0006ff 126px)"></i><i style="left:32px;width:2px;background:linear-gradient(#ff6800 0px,#ff8600 5.5px,#fdff02 15.5px,#abff54 25.5px,#64ff9b 36.5px,#1dffe2 50.5px,#1dffe2 74.5px,#40ffbf 78.5px,#5bffa4 80.5px,#afff50 84.5px,#e5ff1a 88.5px,#fffd00 93.5px,#fdff02 97.5px,#e6ff19 100.5px,#d3ff2c 101.5px,#95ff6a 103.5px,#6eff91 104.5px,#13ffec 106.5px,#00f0ff 107.5px,#0070ff 111.5px,#005bff 112.5px,#0018ff 118.5px,#0006ff 126px)"></i><i style="left:34px;width:2px;background:linear-gradient(#ff6400 0px,#ff8300 5.5px,#feff01 15.5px,#acff53 25.5px,#6bff94 35.5px,#1fffe0 50.5px,#1fffe0 74.5px,#42ffbd 78.5px,#5dffa2 80.5px,#b2ff4d 84.5px,#e6ff19 88.5px,#feff01 92.5px,#feff01 97.5px,#e7ff18 100.5px,#d4ff2b 101.5px,#96ff69 103.5px,#6eff91 104.5px,#13ffec 106.5px,#00f0ff 107.5px,#0070ff 111.5px,#005bff 112.5px,#0018ff 118.5px,#0006ff 126px)"></i><i style="left:36px;width:2px;background:linear-gradient(#ff6000 0px,#ff8000 5.5px,#ffff00 15.5px,#adff52 25.5px,#6cff93 35.5px,#21ffde 50.5px,#21ffde 74.5px,#44ffbb 78.5px,#5fffa0 80.5px,#b5ff4a 84.5px,#e7ff18 88.5px,#fffe00 92.5px,#ffff00 97.5px,#e8ff17 100.5px,#d5ff2a 101.5px,#97ff68 103.5px,#6fff90 104.5px,#3dffc2 105.5px,#13ffec 106.5px,#00f0ff 107.5px,#0070ff 111.5px,#005bff 112.5px,#0018ff 118.5px,#0006ff 126px)"></i><i style="left:38px;width:2px;background:linear-gradient(#ff5c00 0px,#ff7d00 5.5px,#fffe00 15.5px,#a6ff59 26.5px,#6dff92 35.5px,#23ffdc 50.5px,#23ffdc 74.5px,#46ffb9 78.5px,#61ff9e 80.5px,#b7ff48 84.5px,#e8ff17 88.5px,#fffd00 92.5px,#fffe00 97.5px,#e9ff16 100.5px,#d6ff29 101.5px,#98ff67 103.5px,#70ff8f 104.5px,#3dffc2 105.5px,#13ffec 106.5px,#00f0ff 107.5px,#0070ff 111.5px,#005bff 112.5px,#0018ff 118.5px,#0006ff 126px)"></i><i style="left:40px;width:2px;background:linear-gradient(#ff5800 0px,#ff7a00 5.5px,#fffb00 15.5px,#93ff6c 29.5px,#41ffbe 44.5px,#26ffd9 50.5px,#26ffd9 74.5px,#49ffb6 78.5px,#64ff9b 80.5px,#baff45 84.5px,#eaff15 88.5px,#fffc00 92.5px,#fffd00 97.5px,#eaff15 100.5px,#d7ff28 101.5px,#99ff66 103.5px,#71ff8e 104.5px,#3dffc2 105.5px,#13ffec 106.5px,#00f0ff 107.5px,#0070ff 111.5px,#005bff 112.5px,#0018ff 118.5px,#0006ff 126px)"></i><i style="left:42px;width:2px;background:linear-gradient(#ff5500 0px,#ff7700 5.5px,#fff700 15.5px,#f3ff0c 17.5px,#95ff6a 29.5px,#39ffc6 46.5px,#29ffd6 50.5px,#2affd5 74.5px,#57ffa8 79.5px,#7eff81 81.5px,#bdff42 84.5px,#ecff13 88.5px,#feff01 91.5px,#fff700 94.5px,#fbff04 98.5px,#ebff14 100.5px,#d7ff28 101.5px,#9aff65 103.5px,#71ff8e 104.5px,#3effc1 105.5px,#13ffec 106.5px,#00f0ff 107.5px,#0070ff 111.5px,#005bff 112.5px,#0018ff 118.5px,#0006ff 126px)"></i><i style="left:44px;width:2px;background:linear-gradient(#ff5200 0px,#ff7300 5.5px,#fffe00 16.5px,#9fff60 28.5px,#5fffa0 39.5px,#2dffd2 50.5px,#2effd1 74.5px,#5affa5 79.5px,#81ff7e 81.5px,#bfff40 84.5px,#efff10 88.5px,#fffd00 91.5px,#fff500 94.5px,#fffa00 97.5px,#ecff13 100.5px,#d8ff27 101.5px,#9bff64 103.5px,#72ff8d 104.5px,#3effc1 105.5px,#13ffec 106.5px,#00f0ff 107.5px,#0070ff 111.5px,#005bff 112.5px,#0018ff 118.5px,#0006ff 126px)"></i><i style="left:46px;width:2px;background:linear-gradient(#ff4e00 0px,#ff7000 5.5px,#fffa00 16.5px,#ceff31 22.5px,#7cff83 34.5px,#33ffcc 49.5px,#32ffcd 74.5px,#5dffa2 79.5px,#83ff7c 81.5px,#c1ff3e 84.5px,#f1ff0e 88.5px,#fffa00 91.5px,#fff200 94.5px,#fff800 97.5px,#f5ff0a 99.5px,#edff12 100.5px,#d9ff26 101.5px,#9cff63 103.5px,#72ff8d 104.5px,#3effc1 105.5px,#13ffec 106.5px,#00f0ff 107.5px,#0070ff 111.5px,#005bff 112.5px,#0018ff 118.5px,#0006ff 126px)"></i><i style="left:48px;width:2px;background:linear-gradient(#ff4b00 0px,#ff6d00 5.5px,#fff600 16.5px,#feff01 17.5px,#a4ff5b 28.5px,#55ffaa 42.5px,#35ffca 50.5px,#36ffc9 74.5px,#61ff9e 79.5px,#86ff79 81.5px,#c4ff3b 84.5px,#f4ff0b 88.5px,#fff800 91.5px,#fff000 94.5px,#fff700 97.5px,#ffff00 98.5px,#edff12 100.5px,#daff25 101.5px,#9dff62 103.5px,#73ff8c 104.5px,#3effc1 105.5px,#13ffec 106.5px,#00f0ff 107.5px,#0070ff 111.5px,#005bff 112.5px,#0018ff 118.5px,#0006ff 126px)"></i><i style="left:50px;width:2px;background:linear-gradient(#ff4800 0px,#ff6a00 5.5px,#fff200 16.5px,#f9ff06 18.5px,#a6ff59 28.5px,#4dffb2 44.5px,#38ffc7 51.5px,#3affc5 74.5px,#64ff9b 79.5px,#89ff76 81.5px,#c6ff39 84.5px,#f6ff09 88.5px,#fff500 91.5px,#ffee00 94.5px,#fff500 97.5px,#f7ff08 99.5px,#eeff11 100.5px,#dbff24 101.5px,#9dff62 103.5px,#74ff8b 104.5px,#3effc1 105.5px,#13ffec 106.5px,#00f0ff 107.5px,#0070ff 111.5px,#005bff 112.5px,#0018ff 118.5px,#0006ff 126px)"></i><i style="left:52px;width:2px;background:linear-gradient(#ff4500 0px,#ff6700 5.5px,#ffee00 16.5px,#fdff02 18.5px,#afff50 27.5px,#5fffa0 41.5px,#3effc1 49.5px,#3cffc3 68.5px,#43ffbc 75.5px,#67ff98 79.5px,#8cff73 81.5px,#c9ff36 84.5px,#f9ff06 88.5px,#fff200 91.5px,#ffeb00 94.5px,#fff300 97.5px,#f8ff07 99.5px,#efff10 100.5px,#dcff23 101.5px,#9eff61 103.5px,#74ff8b 104.5px,#3fffc0 105.5px,#13ffec 106.5px,#00f0ff 107.5px,#0070ff 111.5px,#005bff 112.5px,#0018ff 118.5px,#0006ff 126px)"></i><i style="left:54px;width:2px;background:linear-gradient(#ff4100 0px,#ff6e00 6.5px,#ffe000 15.5px,#fffd00 18.5px,#b2ff4d 27.5px,#5cffa3 42.5px,#42ffbd 49.5px,#3fffc0 67.5px,#47ffb8 75.5px,#6bff94 79.5px,#8fff70 81.5px,#cbff34 84.5px,#fcff03 88.5px,#ffe600 93.5px,#fff100 97.5px,#faff05 99.5px,#f0ff0f 100.5px,#dcff23 101.5px,#9fff60 103.5px,#75ff8a 104.5px,#3fffc0 105.5px,#13ffec 106.5px,#00f0ff 107.5px,#0070ff 111.5px,#005bff 112.5px,#0018ff 118.5px,#0006ff 126px)"></i><i style="left:56px;width:2px;background:linear-gradient(#ff3e00 0px,#ff6b00 6.5px,#ffdc00 15.5px,#fbff04 19.5px,#b4ff4b 27.5px,#5fffa0 42.5px,#48ffb7 48.5px,#42ffbd 64.5px,#4bffb4 75.5px,#6eff91 79.5px,#92ff6d 81.5px,#ceff31 84.5px,#fffe00 88.5px,#ffe000 93.5px,#ffef00 97.5px,#fbff04 99.5px,#f1ff0e 100.5px,#ddff22 101.5px,#a0ff5f 103.5px,#75ff8a 104.5px,#3fffc0 105.5px,#13ffec 106.5px,#00f0ff 107.5px,#0070ff 111.5px,#005bff 112.5px,#0018ff 118.5px,#0006ff 126px)"></i><i style="left:58px;width:2px;background:linear-gradient(#ff3b00 0px,#ff6800 6.5px,#ffcd00 14.5px,#feff01 19.5px,#b6ff49 27.5px,#61ff9e 42.5px,#4dffb2 47.5px,#45ffba 63.5px,#4fffb0 75.5px,#71ff8e 79.5px,#95ff6a 81.5px,#d0ff2f 84.5px,#f8ff07 87.5px,#fff300 89.5px,#ffdc00 92.5px,#ffe000 95.5px,#fdff02 99.5px,#f2ff0d 100.5px,#deff21 101.5px,#a1ff5e 103.5px,#76ff89 104.5px,#3fffc0 105.5px,#13ffec 106.5px,#00f0ff 107.5px,#0070ff 111.5px,#005bff 112.5px,#0018ff 118.5px,#0006ff 126px)"></i><i style="left:60px;width:2px;background:linear-gradient(#ff3800 0px,#ff6400 6.5px,#ffbe00 13.5px,#fffc00 19.5px,#b9ff46 27.5px,#5fffa0 43.5px,#4effb1 48.5px,#48ffb7 63.5px,#53ffac 75.5px,#75ff8a 79.5px,#98ff67 81.5px,#d3ff2c 84.5px,#fcff03 87.5px,#ffd500 92.5px,#ffd600 94.5px,#ffe900 97.5px,#feff01 99.5px,#f4ff0b 100.5px,#dfff20 101.5px,#a2ff5d 103.5px,#77ff88 104.5px,#3fffc0 105.5px,#13ffec 106.5px,#00f0ff 107.5px,#0070ff 111.5px,#005bff 112.5px,#0018ff 118.5px,#0006ff 126px)"></i><i style="left:62px;width:2px;background:linear-gradient(#ff3500 0px,#ff6100 6.5px,#ffbb00 13.5px,#fcff03 20.5px,#c2ff3d 26.5px,#66ff99 42.5px,#53ffac 47.5px,#4bffb4 63.5px,#57ffa8 75.5px,#78ff87 79.5px,#9bff64 81.5px,#d5ff2a 84.5px,#ffff00 87.5px,#ffce00 92.5px,#ffd100 94.5px,#ffe600 97.5px,#fffe00 99.5px,#f5ff0a 100.5px,#e0ff1f 101.5px,#a2ff5d 103.5px,#77ff88 104.5px,#40ffbf 105.5px,#13ffec 106.5px,#00f0ff 107.5px,#0070ff 111.5px,#005bff 112.5px,#0018ff 118.5px,#0006ff 126px)"></i><i style="left:64px;width:2px;background:linear-gradient(#ff3200 0px,#ff5e00 6.5px,#ffb700 13.5px,#fffe00 20.5px,#c4ff3b 26.5px,#69ff96 42.5px,#56ffa9 47.5px,#4fffb0 63.5px,#5bffa4 75.5px,#7bff84 79.5px,#9eff61 81.5px,#d8ff27 84.5px,#fffd00 87.5px,#ffca00 92.5px,#ffcd00 94.5px,#ffe400 97.5px,#fffd00 99.5px,#f6ff09 100.5px,#e1ff1e 101.5px,#a3ff5c 103.5px,#78ff87 104.5px,#40ffbf 105.5px,#13ffec 106.5px,#00f0ff 107.5px,#0070ff 111.5px,#005bff 112.5px,#0018ff 118.5px,#0006ff 126px)"></i><i style="left:66px;width:2px;background:linear-gradient(#ff3000 0px,#ff5a00 6.5px,#ffb200 13.5px,#fffa00 20.5px,#dbff24 24.5px,#a9ff56 31.5px,#5cffa3 45.5px,#50ffaf 62.5px,#5dffa2 75.5px,#7fff80 79.5px,#b5ff4a 82.5px,#e7ff18 85.5px,#fffb00 87.5px,#ffc900 92.5px,#ffcc00 94.5px,#ffe300 97.5px,#fffc00 99.5px,#f7ff08 100.5px,#e2ff1d 101.5px,#a3ff5c 103.5px,#78ff87 104.5px,#40ffbf 105.5px,#13ffec 106.5px,#00f0ff 107.5px,#0070ff 111.5px,#005bff 112.5px,#0018ff 118.5px,#0006ff 126px)"></i><i style="left:68px;width:2px;background:linear-gradient(#ff2f00 0px,#ff5700 6.5px,#ffc100 15.5px,#fefe01 21.5px,#c7ff38 27.5px,#6dff92 42.5px,#5cffa3 47.5px,#52ffad 62.5px,#5fffa0 75.5px,#83ff7c 79.5px,#dcff23 84.5px,#fff900 87.5px,#ffca00 92.5px,#ffcd00 94.5px,#ffe200 97.5px,#fffb00 99.5px,#f8ff07 100.5px,#e2ff1d 101.5px,#a4ff5b 103.5px,#78ff87 104.5px,#40ffbf 105.5px,#13ffec 106.5px,#00f0ff 107.5px,#0070ff 111.5px,#005bff 112.5px,#0018ff 118.5px,#0006ff 126px)"></i><i style="left:70px;width:2px;background:linear-gradient(#ff2e00 0px,#ff5400 6.5px,#ffdb00 18.5px,#faff05 22.5px,#ccff33 27.5px,#6fff90 42.5px,#5effa1 48.5px,#54ffab 62.5px,#5cffa3 74.5px,#87ff78 79.5px,#deff21 84.5px,#f8ff07 86.5px,#ffed00 88.5px,#ffcc00 92.5px,#ffce00 94.5px,#ffe200 97.5px,#fffa00 99.5px,#f9ff06 100.5px,#e3ff1c 101.5px,#a4ff5b 103.5px,#78ff87 104.5px,#40ffbf 105.5px,#13ffec 106.5px,#00f0ff 107.5px,#0070ff 111.5px,#005bff 112.5px,#0018ff 118.5px,#0006ff 126px)"></i><i style="left:72px;width:2px;background:linear-gradient(#ff2d00 0px,#ff5000 6.5px,#fefe01 22.5px,#caff35 28.5px,#71ff8e 42.5px,#60ff9f 49.5px,#56ffa9 62.5px,#5fffa0 74.5px,#8bff74 79.5px,#e0ff1f 84.5px,#faff05 86.5px,#ffdc00 90.5px,#ffcd00 92.5px,#ffcf00 94.5px,#ffe100 97.5px,#faff05 100.5px,#e4ff1b 101.5px,#a4ff5b 103.5px,#78ff87 104.5px,#40ffbf 105.5px,#13ffec 106.5px,#00f0ff 107.5px,#0070ff 111.5px,#005bff 112.5px,#0018ff 118.5px,#0006ff 126px)"></i><i style="left:74px;width:2px;background:linear-gradient(#ff2b00 0px,#ff4d00 6.5px,#fffa00 22.5px,#ddff22 26.5px,#78ff87 41.5px,#65ff9a 48.5px,#58ffa7 62.5px,#61ff9e 74.5px,#8fff70 79.5px,#efff10 85.5px,#fcff03 86.5px,#ffcd00 92.5px,#ffd400 95.5px,#ffec00 98.5px,#fbff04 100.5px,#e5ff1a 101.5px,#a4ff5b 103.5px,#78ff87 104.5px,#40ffbf 105.5px,#13ffec 106.5px,#00f0ff 107.5px,#0070ff 111.5px,#005bff 112.5px,#0018ff 118.5px,#0006ff 126px)"></i><i style="left:76px;width:2px;background:linear-gradient(#ff2800 0px,#ff4800 6.5px,#fffd00 23.5px,#a3ff5c 35.5px,#75ff8a 43.5px,#5bffa4 60.5px,#65ff9a 74.5px,#95ff6a 79.5px,#f2ff0d 85.5px,#fefe01 86.5px,#ffd900 90.5px,#ffc800 93.5px,#ffdd00 97.5px,#fdff02 100.5px,#e6ff19 101.5px,#a5ff5a 103.5px,#78ff87 104.5px,#40ffbf 105.5px,#13ffec 106.5px,#00f0ff 107.5px,#0070ff 111.5px,#005bff 112.5px,#0018ff 118.5px,#0006ff 126px)"></i><i style="left:78px;width:2px;background:linear-gradient(#ff2000 0px,#ff3d00 6.5px,#fffb00 24.5px,#b4ff4b 34.5px,#82ff7d 42.5px,#65ff9a 60.5px,#6eff91 74.5px,#95ff6a 78.5px,#bfff40 81.5px,#fcff03 85.5px,#ffcf00 90.5px,#ffc000 92.5px,#ffc400 94.5px,#ffd600 97.5px,#fffd00 100.5px,#eaff15 101.5px,#a7ff58 103.5px,#7aff85 104.5px,#41ffbe 105.5px,#14ffeb 106.5px,#00f0ff 107.5px,#0070ff 111.5px,#005bff 112.5px,#0018ff 118.5px,#0006ff 126px)"></i><i style="left:80px;width:2px;background:linear-gradient(#ff1f00 0px,#ff3900 6.5px,#ff9600 15.5px,#ffff00 25.5px,#a3ff5c 37.5px,#84ff7b 42.5px,#67ff98 61.5px,#70ff8f 74.5px,#8dff72 77.5px,#c2ff3d 81.5px,#feff01 85.5px,#ffd500 89.5px,#ffbe00 92.5px,#ffc100 94.5px,#ffd500 97.5px,#fffc00 100.5px,#ebff14 101.5px,#a7ff58 103.5px,#7aff85 104.5px,#41ffbe 105.5px,#14ffeb 106.5px,#00f0ff 107.5px,#0070ff 111.5px,#005bff 112.5px,#0018ff 118.5px,#0006ff 126px)"></i><i style="left:82px;width:2px;background:linear-gradient(#ff2400 0px,#ff3d00 6.5px,#ff8000 13.5px,#fff700 24.5px,#feff01 25.5px,#a7ff58 36.5px,#7fff80 42.5px,#63ff9c 61.5px,#6cff93 74.5px,#8aff75 77.5px,#cfff30 82.5px,#faff05 85.5px,#ffe100 88.5px,#ffc100 92.5px,#ffc400 94.5px,#ffd700 97.5px,#fffd00 100.5px,#e9ff16 101.5px,#a5ff5a 103.5px,#78ff87 104.5px,#40ffbf 105.5px,#13ffec 106.5px,#00f0ff 107.5px,#0070ff 111.5px,#005bff 112.5px,#0018ff 118.5px,#0006ff 126px)"></i><i style="left:84px;width:2px;background:linear-gradient(#ff1900 0px,#ff3000 6.5px,#ff7100 13.5px,#ffdf00 23.5px,#faff05 27.5px,#a4ff5b 38.5px,#8bff74 42.5px,#6eff91 61.5px,#77ff88 74.5px,#96ff69 77.5px,#f8ff07 84.5px,#ffed00 86.5px,#ffc600 90.5px,#ffb600 92.5px,#ffba00 94.5px,#ffcf00 97.5px,#fff800 100.5px,#edff12 101.5px,#a8ff57 103.5px,#7aff85 104.5px,#42ffbd 105.5px,#14ffeb 106.5px,#00f1ff 107.5px,#0070ff 111.5px,#005bff 112.5px,#0018ff 118.5px,#0007ff 126px)"></i><i style="left:86px;width:2px;background:linear-gradient(#ff0800 0px,#ff1f00 6.5px,#ff6100 13.5px,#ffc500 22.5px,#fffd00 28.5px,#9aff65 42.5px,#7dff82 61.5px,#87ff78 74.5px,#a6ff59 77.5px,#f9ff06 83.5px,#ffeb00 85.5px,#ffc100 89.5px,#ffaa00 92.5px,#ffaf00 94.5px,#ffc600 97.5px,#fff200 100.5px,#f3ff0c 101.5px,#acff53 103.5px,#7eff81 104.5px,#45ffba 105.5px,#17ffe8 106.5px,#00f2ff 107.5px,#0071ff 111.5px,#005bff 112.5px,#001aff 118.5px,#0008ff 126px)"></i><i style="left:88px;width:2px;background:linear-gradient(#ff1400 0px,#ff2b00 6.5px,#ff6f00 13.5px,#ffca00 21.5px,#fffa00 26.5px,#a5ff5a 38.5px,#8bff74 42.5px,#6eff91 61.5px,#7aff85 74.5px,#99ff66 77.5px,#f8ff07 84.5px,#ffee00 86.5px,#ffc900 90.5px,#ffbb00 92.5px,#ffbe00 94.5px,#ffd100 97.5px,#fff800 100.5px,#eeff11 101.5px,#aaff55 103.5px,#7dff82 104.5px,#44ffbb 105.5px,#16ffe9 106.5px,#00f2ff 107.5px,#0070ff 111.5px,#005bff 112.5px,#001bff 118.5px,#0009ff 126px)"></i><i style="left:90px;width:2px;background:linear-gradient(#ff1c00 0px,#ff3300 6.5px,#ff7800 13.5px,#ffca00 20.5px,#fffd00 25.5px,#9aff65 38.5px,#80ff7f 42.5px,#64ff9b 61.5px,#70ff8f 74.5px,#8fff70 77.5px,#f9ff06 85.5px,#ffee00 87.5px,#ffc700 92.5px,#ffce00 95.5px,#ffe600 98.5px,#fffd00 100.5px,#eaff15 101.5px,#a9ff56 103.5px,#7cff83 104.5px,#44ffbb 105.5px,#16ffe9 106.5px,#00f2ff 107.5px,#0070ff 111.5px,#005bff 112.5px,#001cff 118.5px,#000aff 126px)"></i><i style="left:92px;width:2px;background:linear-gradient(#ff1400 0px,#ff2b00 6.5px,#ff7200 13.5px,#ffc500 20.5px,#fdfe02 26.5px,#a6ff59 37.5px,#85ff7a 42.5px,#69ff96 61.5px,#77ff88 74.5px,#96ff69 77.5px,#fdff02 85.5px,#ffd300 90.5px,#ffc400 93.5px,#ffd800 97.5px,#fffb00 100.5px,#ecff13 101.5px,#abff54 103.5px,#7eff81 104.5px,#46ffb9 105.5px,#18ffe7 106.5px,#00f3ff 107.5px,#0070ff 111.5px,#005cff 112.5px,#001eff 118.5px,#000cff 126px)"></i><i style="left:94px;width:2px;background:linear-gradient(#ff0a00 0px,#ff2100 6.5px,#ff6900 13.5px,#ffb300 19.5px,#fdff02 27.5px,#a7ff58 38.5px,#8dff72 42.5px,#71ff8e 61.5px,#80ff7f 74.5px,#9fff60 77.5px,#f9ff06 84.5px,#ffe400 87.5px,#ffc000 92.5px,#ffc700 95.5px,#ffdf00 98.5px,#fff800 100.5px,#efff10 101.5px,#aeff51 103.5px,#81ff7e 104.5px,#49ffb6 105.5px,#1affe5 106.5px,#00f4ff 107.5px,#008fff 110.5px,#0071ff 111.5px,#005cff 112.5px,#001fff 118.5px,#000dff 126px)"></i><i style="left:96px;width:2px;background:linear-gradient(#ff0f00 0px,#ff2600 6.5px,#ff7000 13.5px,#ffbb00 19.5px,#fdfe02 26.5px,#a6ff59 37.5px,#85ff7a 42.5px,#69ff96 61.5px,#79ff86 74.5px,#98ff67 77.5px,#fcff03 85.5px,#ffd100 91.5px,#ffc900 93.5px,#ffda00 97.5px,#fffc00 100.5px,#edff12 101.5px,#adff52 103.5px,#81ff7e 104.5px,#49ffb6 105.5px,#1affe5 106.5px,#00f4ff 107.5px,#008fff 110.5px,#0070ff 111.5px,#005cff 112.5px,#0020ff 118.5px,#000fff 126px)"></i><i style="left:98px;width:2px;background:linear-gradient(#ff1200 0px,#ff2900 6.5px,#ff7500 13.5px,#ffc100 19.5px,#fffe00 25.5px,#a0ff5f 37.5px,#7fff80 42.5px,#62ff9d 60.5px,#75ff8a 74.5px,#94ff6b 77.5px,#f6ff09 85.5px,#fffe00 86.5px,#ffd800 91.5px,#ffd100 93.5px,#ffdf00 97.5px,#ffff00 100.5px,#ebff14 101.5px,#adff52 103.5px,#81ff7e 104.5px,#49ffb6 105.5px,#1bffe4 106.5px,#00f5ff 107.5px,#008fff 110.5px,#0070ff 111.5px,#005cff 112.5px,#0022ff 118.5px,#0010ff 126px)"></i><i style="left:100px;width:2px;background:linear-gradient(#ff0f00 0px,#ff2600 6.5px,#ff7200 13.5px,#ffbe00 19.5px,#fffb00 25.5px,#8dff72 40.5px,#7eff81 44.5px,#64ff9b 60.5px,#77ff88 74.5px,#96ff69 77.5px,#f8ff07 85.5px,#fff100 87.5px,#ffcf00 93.5px,#ffde00 97.5px,#fffd00 100.5px,#ecff13 101.5px,#afff50 103.5px,#83ff7c 104.5px,#4bffb4 105.5px,#1cffe3 106.5px,#00f5ff 107.5px,#008fff 110.5px,#0071ff 111.5px,#005cff 112.5px,#0023ff 118.5px,#0011ff 126px)"></i><i style="left:102px;width:2px;background:linear-gradient(#ff0600 0px,#ff1e00 6.5px,#ff6800 13.5px,#ffb200 19.5px,#fffb00 26.5px,#b2ff4d 36.5px,#8bff74 42.5px,#6dff92 60.5px,#80ff7f 74.5px,#9fff60 77.5px,#fffd00 85.5px,#ffd900 89.5px,#ffc500 93.5px,#ffd500 97.5px,#fff700 100.5px,#f1ff0e 101.5px,#b3ff4c 103.5px,#86ff79 104.5px,#4dffb2 105.5px,#1effe1 106.5px,#00f7ff 107.5px,#0091ff 110.5px,#0072ff 111.5px,#005dff 112.5px,#0024ff 118.5px,#0012ff 126px)"></i><i style="left:104px;width:2px;background:linear-gradient(#ff0500 0px,#ff1d00 6.5px,#ff6500 13.5px,#ffc400 21.5px,#fcff03 27.5px,#adff52 37.5px,#8dff72 42.5px,#6eff91 60.5px,#81ff7e 74.5px,#a0ff5f 77.5px,#f7ff08 84.5px,#fff000 86.5px,#ffd600 89.5px,#ffc200 93.5px,#ffd200 97.5px,#fff500 100.5px,#f3ff0c 101.5px,#b5ff4a 103.5px,#88ff77 104.5px,#4effb1 105.5px,#1fffe0 106.5px,#00f8ff 107.5px,#0092ff 110.5px,#0073ff 111.5px,#005eff 112.5px,#0025ff 118.5px,#0013ff 126px)"></i><i style="left:106px;width:2px;background:linear-gradient(#ff0c00 0px,#ff2300 6.5px,#ff6a00 13.5px,#fff400 25.5px,#fffe00 26.5px,#adff52 36.5px,#84ff7b 43.5px,#67ff98 60.5px,#7aff85 74.5px,#99ff66 77.5px,#fdff02 85.5px,#ffda00 89.5px,#ffc600 93.5px,#ffd500 97.5px,#fff700 100.5px,#f2ff0d 101.5px,#b5ff4a 103.5px,#89ff76 104.5px,#4fffb0 105.5px,#1fffe0 106.5px,#00f9ff 107.5px,#0092ff 110.5px,#0074ff 111.5px,#005fff 112.5px,#0026ff 118.5px,#0014ff 126px)"></i><i style="left:108px;width:2px;background:linear-gradient(#ff0c00 0px,#ff2400 6.5px,#ff6a00 13.5px,#fffe00 26.5px,#adff52 36.5px,#84ff7b 43.5px,#66ff99 60.5px,#79ff86 74.5px,#99ff66 77.5px,#fdff02 85.5px,#ffd900 89.5px,#ffc500 93.5px,#ffd300 97.5px,#fff500 100.5px,#f4ff0b 101.5px,#b7ff48 103.5px,#8aff75 104.5px,#50ffaf 105.5px,#20ffdf 106.5px,#00f9ff 107.5px,#0093ff 110.5px,#0075ff 111.5px,#0060ff 112.5px,#0027ff 118.5px,#0015ff 126px)"></i><i style="left:110px;width:2px;background:linear-gradient(#ff0b00 0px,#ff2300 6.5px,#ff7300 14.5px,#fffc00 26.5px,#a8ff57 37.5px,#86ff79 43.5px,#67ff98 60.5px,#7aff85 74.5px,#9aff65 77.5px,#ffff00 85.5px,#ffdc00 88.5px,#ffc200 93.5px,#ffd000 97.5px,#fff300 100.5px,#f6ff09 101.5px,#b9ff46 103.5px,#8cff73 104.5px,#51ffae 105.5px,#21ffde 106.5px,#00faff 107.5px,#0094ff 110.5px,#0076ff 111.5px,#0061ff 112.5px,#0028ff 118.5px,#0016ff 126px)"></i><i style="left:112px;width:2px;background:linear-gradient(#ff0a00 0px,#ff2200 6.5px,#ff7000 14.5px,#fffa00 26.5px,#ceff31 32.5px,#8bff74 42.5px,#68ff97 60.5px,#7bff84 74.5px,#9bff64 77.5px,#fffe00 85.5px,#ffd900 88.5px,#ffbe00 93.5px,#ffcd00 97.5px,#fff100 100.5px,#f8ff07 101.5px,#bbff44 103.5px,#8eff71 104.5px,#52ffad 105.5px,#22ffdd 106.5px,#00fbff 107.5px,#0095ff 110.5px,#0077ff 111.5px,#0062ff 112.5px,#0029ff 118.5px,#0017ff 126px)"></i><i style="left:114px;width:2px;background:linear-gradient(#ff0900 0px,#ff2100 6.5px,#ff6d00 14.5px,#ffe000 24.5px,#fbff04 27.5px,#b1ff4e 36.5px,#85ff7a 44.5px,#69ff96 60.5px,#7cff83 74.5px,#9cff63 77.5px,#fffc00 85.5px,#ffd600 88.5px,#ffbb00 93.5px,#ffca00 97.5px,#faff05 101.5px,#bdff42 103.5px,#8fff70 104.5px,#54ffab 105.5px,#23ffdc 106.5px,#00fcff 107.5px,#0096ff 110.5px,#0078ff 111.5px,#0063ff 112.5px,#002aff 118.5px,#0018ff 126px)"></i><i style="left:116px;width:2px;background:linear-gradient(#ff0800 0px,#ff1f00 6.5px,#ff7500 15.5px,#ffd100 23.5px,#fdff02 27.5px,#b2ff4d 36.5px,#87ff78 44.5px,#6aff95 60.5px,#7dff82 74.5px,#9dff62 77.5px,#f5ff0a 84.5px,#fffa00 85.5px,#ffd300 88.5px,#ffb800 93.5px,#ffc700 97.5px,#ffed00 100.5px,#fcff03 101.5px,#bfff40 103.5px,#91ff6e 104.5px,#55ffaa 105.5px,#24ffdb 106.5px,#00fdff 107.5px,#0097ff 110.5px,#0079ff 111.5px,#0064ff 112.5px,#002bff 118.5px,#0019ff 126px)"></i><i style="left:118px;width:2px;background:linear-gradient(#ff0700 0px,#ff1e00 6.5px,#ff7200 15.5px,#ffc100 22.5px,#ffff00 27.5px,#b4ff4b 36.5px,#88ff77 44.5px,#6bff94 60.5px,#7eff81 74.5px,#9eff61 77.5px,#f7ff08 84.5px,#fff800 85.5px,#ffd000 88.5px,#ffb500 93.5px,#ffc500 97.5px,#ffea00 100.5px,#feff01 101.5px,#c1ff3e 103.5px,#93ff6c 104.5px,#56ffa9 105.5px,#25ffda 106.5px,#00feff 107.5px,#0098ff 110.5px,#007aff 111.5px,#0065ff 112.5px,#002cff 118.5px,#001aff 126px)"></i><i style="left:120px;width:2px;background:linear-gradient(#ff0700 0px,#ff1d00 6.5px,#ff7a00 16.5px,#ffbe00 22.5px,#fffe00 27.5px,#b4ff4b 36.5px,#89ff76 44.5px,#6cff93 60.5px,#7fff80 74.5px,#9fff60 77.5px,#f8ff07 84.5px,#ffe700 86.5px,#ffcd00 88.5px,#ffb300 93.5px,#ffc200 97.5px,#ffe900 100.5px,#fffe00 101.5px,#c3ff3c 103.5px,#95ff6a 104.5px,#58ffa7 105.5px,#26ffd9 106.5px,#01fffe 107.5px,#009aff 110.5px,#007bff 111.5px,#0067ff 112.5px,#002dff 118.5px,#001cff 126px)"></i><i style="left:122px;width:2px;background:linear-gradient(#ff0700 0px,#ff1d00 6.5px,#ff7900 16.5px,#ffbe00 22.5px,#fffd00 27.5px,#b4ff4b 36.5px,#8aff75 44.5px,#6dff92 60.5px,#80ff7f 74.5px,#9fff60 77.5px,#f9ff06 84.5px,#ffe600 86.5px,#ffcb00 88.5px,#ffb000 93.5px,#ffc100 97.5px,#ffe700 100.5px,#fffd00 101.5px,#c4ff3b 103.5px,#96ff69 104.5px,#59ffa6 105.5px,#28ffd7 106.5px,#02fffd 107.5px,#007dff 111.5px,#0068ff 112.5px,#002fff 118.5px,#001dff 126px)"></i><i style="left:124px;width:2px;background:linear-gradient(#ff0700 0px,#ff1c00 6.5px,#ff7800 16.5px,#ffbd00 22.5px,#fffc00 27.5px,#b5ff4a 36.5px,#8bff74 44.5px,#6eff91 60.5px,#81ff7e 74.5px,#a0ff5f 77.5px,#faff05 84.5px,#ffd500 87.5px,#ffb000 92.5px,#ffb700 96.5px,#ffe500 100.5px,#fffb00 101.5px,#c6ff39 103.5px,#98ff67 104.5px,#5bffa4 105.5px,#29ffd6 106.5px,#04fffb 107.5px,#007eff 111.5px,#006aff 112.5px,#0031ff 118.5px,#001fff 126px)"></i><i style="left:126px;width:2px;background:linear-gradient(#ff0700 0px,#ff1b00 6.5px,#ff7800 16.5px,#ffbc00 22.5px,#fffc00 27.5px,#b5ff4a 36.5px,#8cff73 44.5px,#6fff90 60.5px,#82ff7d 74.5px,#a1ff5e 77.5px,#fbff04 84.5px,#ffc800 88.5px,#ffac00 93.5px,#ffbd00 97.5px,#ffe400 100.5px,#fff900 101.5px,#c8ff37 103.5px,#9aff65 104.5px,#5cffa3 105.5px,#2bffd4 106.5px,#06fff9 107.5px,#009fff 110.5px,#0080ff 111.5px,#006cff 112.5px,#0032ff 118.5px,#0020ff 126px)"></i><i style="left:128px;width:2px;background:linear-gradient(#ff0600 0px,#ff1a00 6.5px,#ff7700 16.5px,#ffbb00 22.5px,#fffb00 27.5px,#b5ff4a 36.5px,#8bff74 45.5px,#6fff90 60.5px,#82ff7d 74.5px,#a2ff5d 77.5px,#fbff04 84.5px,#ffc600 88.5px,#ffab00 92.5px,#ffb400 96.5px,#ffe200 100.5px,#fff800 101.5px,#c9ff36 103.5px,#9bff64 104.5px,#5effa1 105.5px,#2dffd2 106.5px,#07fff8 107.5px,#00bfff 109.5px,#0082ff 111.5px,#006dff 112.5px,#0034ff 118.5px,#0022ff 126px)"></i><i style="left:130px;width:2px;background:linear-gradient(#ff0600 0px,#ff1900 6.5px,#ff7600 16.5px,#ffba00 22.5px,#fffa00 27.5px,#d4ff2b 32.5px,#b5ff4a 36.5px,#8bff74 45.5px,#70ff8f 60.5px,#83ff7c 74.5px,#a3ff5c 77.5px,#fcff03 84.5px,#ffc500 88.5px,#ffa900 92.5px,#ffae00 95.5px,#ffba00 97.5px,#ffe000 100.5px,#fff600 101.5px,#e9ff16 102.5px,#cbff34 103.5px,#9dff62 104.5px,#60ff9f 105.5px,#2effd1 106.5px,#09fff6 107.5px,#00e3ff 108.5px,#0083ff 111.5px,#006fff 112.5px,#0036ff 118.5px,#0024ff 126px)"></i><i style="left:132px;width:2px;background:linear-gradient(#ff0600 0px,#ff1800 6.5px,#ff7500 16.5px,#ffba00 22.5px,#fff900 27.5px,#e8ff17 30.5px,#baff45 35.5px,#8cff73 45.5px,#71ff8e 60.5px,#84ff7b 74.5px,#a3ff5c 77.5px,#fdff02 84.5px,#ffc300 88.5px,#ffa600 92.5px,#ffac00 95.5px,#ffb800 97.5px,#ffdf00 100.5px,#fff400 101.5px,#ebff14 102.5px,#ccff33 103.5px,#9fff60 104.5px,#61ff9e 105.5px,#30ffcf 106.5px,#0bfff4 107.5px,#00e4ff 108.5px,#0085ff 111.5px,#0071ff 112.5px,#0037ff 118.5px,#0025ff 126px)"></i><i style="left:134px;width:2px;background:linear-gradient(#ff0600 0px,#ff1800 6.5px,#ff7400 16.5px,#ffb900 22.5px,#fff900 27.5px,#f2ff0d 29.5px,#baff45 35.5px,#8dff72 45.5px,#72ff8d 60.5px,#85ff7a 74.5px,#a4ff5b 77.5px,#feff01 84.5px,#ffc100 88.5px,#ffa400 92.5px,#ffaa00 95.5px,#ffb700 97.5px,#ffdd00 100.5px,#fff300 101.5px,#edff12 102.5px,#ceff31 103.5px,#a0ff5f 104.5px,#63ff9c 105.5px,#32ffcd 106.5px,#0cfff3 107.5px,#00e6ff 108.5px,#0087ff 111.5px,#0072ff 112.5px,#0039ff 118.5px,#0027ff 126px)"></i><i style="left:136px;width:2px;background:linear-gradient(#ff0600 0px,#ff1700 6.5px,#ff7300 16.5px,#ffb800 22.5px,#fff800 27.5px,#f3ff0c 29.5px,#baff45 35.5px,#8eff71 45.5px,#73ff8c 60.5px,#86ff79 74.5px,#a5ff5a 77.5px,#ffff00 84.5px,#ffbf00 88.5px,#ffa100 92.5px,#ffa800 95.5px,#ffb500 97.5px,#ffdb00 100.5px,#fff100 101.5px,#eeff11 102.5px,#d0ff2f 103.5px,#a2ff5d 104.5px,#65ff9a 105.5px,#33ffcc 106.5px,#0efff1 107.5px,#00e7ff 108.5px,#0088ff 111.5px,#0074ff 112.5px,#003aff 118.5px,#0029ff 126px)"></i><i style="left:138px;width:2px;background:linear-gradient(#ff0600 0px,#ff1600 6.5px,#ff7300 16.5px,#ffb700 22.5px,#fff700 27.5px,#f3ff0c 29.5px,#baff45 35.5px,#8fff70 45.5px,#74ff8b 60.5px,#87ff78 74.5px,#a6ff59 77.5px,#fffe00 84.5px,#ffbe00 88.5px,#ff9f00 92.5px,#ffa200 94.5px,#ffb400 97.5px,#ffda00 100.5px,#ffef00 101.5px,#f0ff0f 102.5px,#d1ff2e 103.5px,#a3ff5c 104.5px,#66ff99 105.5px,#35ffca 106.5px,#10ffef 107.5px,#00e9ff 108.5px,#008aff 111.5px,#0076ff 112.5px,#003cff 118.5px,#002aff 126px)"></i><i style="left:140px;width:2px;background:linear-gradient(#ff0600 0px,#ff1500 6.5px,#ff7200 16.5px,#ffb600 22.5px,#fff600 27.5px,#feff01 28.5px,#baff45 35.5px,#8fff70 45.5px,#74ff8b 60.5px,#87ff78 74.5px,#a7ff58 77.5px,#fffd00 84.5px,#ffbc00 88.5px,#ff9d00 92.5px,#ffa000 94.5px,#ffb200 97.5px,#ffd800 100.5px,#ffee00 101.5px,#f2ff0d 102.5px,#d3ff2c 103.5px,#a5ff5a 104.5px,#68ff97 105.5px,#37ffc8 106.5px,#11ffee 107.5px,#00ebff 108.5px,#008cff 111.5px,#0077ff 112.5px,#003eff 118.5px,#002cff 126px)"></i><i style="left:142px;width:2px;background:linear-gradient(#ff0600 0px,#ff1400 6.5px,#ff7100 16.5px,#ffb600 22.5px,#feff01 28.5px,#baff45 35.5px,#90ff6f 45.5px,#75ff8a 60.5px,#88ff77 74.5px,#a7ff58 77.5px,#fffc00 84.5px,#ffba00 88.5px,#ff9a00 92.5px,#ff9e00 94.5px,#ffb000 97.5px,#ffd700 100.5px,#ffec00 101.5px,#f3ff0c 102.5px,#d5ff2a 103.5px,#a7ff58 104.5px,#69ff96 105.5px,#38ffc7 106.5px,#13ffec 107.5px,#00ecff 108.5px,#008dff 111.5px,#0079ff 112.5px,#003fff 118.5px,#002eff 126px)"></i><i style="left:144px;width:1px;background:linear-gradient(#ff0600 0px,#ff1400 6.5px,#ff7000 16.5px,#ffb500 22.5px,#ffff00 28.5px,#baff45 35.5px,#91ff6e 45.5px,#76ff89 60.5px,#89ff76 74.5px,#a8ff57 77.5px,#fffb00 84.5px,#ffb900 88.5px,#ff9900 92.5px,#ff9c00 94.5px,#ffaf00 97.5px,#ffd500 100.5px,#ffeb00 101.5px,#f4ff0b 102.5px,#d6ff29 103.5px,#a8ff57 104.5px,#6bff94 105.5px,#39ffc6 106.5px,#14ffeb 107.5px,#00eeff 108.5px,#008eff 111.5px,#007aff 112.5px,#0041ff 118.5px,#002fff 126px)"></i></div>
<div class="t ttl" style="left:16.5px;top:-1.1px">490 nm - TM</div>
<div class="t ttl" style="left:213.6px;top:-1.1px">490 nm - TE</div>
<div class="t ttl" style="left:420.0px;top:-1.1px">95 nm - TM</div>
<div class="t ttl" style="left:615.6px;top:-1.1px">95 nm - TE</div>
<div class="t pl" style="left:0.7px;top:21.1px">(a)</div>
<div class="t pl" style="left:199.9px;top:21.3px">(b)</div>
<div class="t pl" style="left:405.6px;top:21.1px">(c)</div>
<div class="t pl" style="left:605.6px;top:20.2px">(d)</div>
<div class="t pl" style="left:3.2px;top:201.5px">(e)</div>
<div class="t pl" style="left:206.0px;top:201.5px">(f)</div>
<div class="t pl" style="left:408.1px;top:199.9px">(g)</div>
<div class="t pl" style="left:608.1px;top:199.7px">(h)</div>
<div class="t yt" style="left:1.4px;top:49.5px">2.5</div>
<div class="t yt" style="left:1.4px;top:88.9px">2</div>
<div class="t yt" style="left:1.4px;top:128.2px">1.5</div>
<div class="t xt" style="left:23.0px;top:152.8px">0</div>
<div class="t xt" style="left:87.4px;top:152.8px">20</div>
<div class="t xt" style="left:151.9px;top:152.8px">40</div>
<div class="t xl" style="left:15.5px;top:169.6px">Angle of incidence (°)</div>
<div class="t yl" style="left:-51.7px;top:81.2px">Energy (eV)</div>
<div class="t yt" style="left:200.4px;top:49.5px">2.5</div>
<div class="t yt" style="left:200.4px;top:88.9px">2</div>
<div class="t yt" style="left:200.4px;top:128.2px">1.5</div>
<div class="t xt" style="left:222.0px;top:152.8px">0</div>
<div class="t xt" style="left:286.4px;top:152.8px">20</div>
<div class="t xt" style="left:350.9px;top:152.8px">40</div>
<div class="t xl" style="left:214.5px;top:169.6px">Angle of incidence (°)</div>
<div class="t yl" style="left:147.3px;top:81.2px">Energy (eV)</div>
<div class="t yt" style="left:406.4px;top:49.5px">2.5</div>
<div class="t yt" style="left:406.4px;top:88.9px">2</div>
<div class="t yt" style="left:406.4px;top:128.2px">1.5</div>
<div class="t xt" style="left:428.0px;top:152.8px">0</div>
<div class="t xt" style="left:492.4px;top:152.8px">20</div>
<div class="t xt" style="left:556.9px;top:152.8px">40</div>
<div class="t xl" style="left:420.5px;top:169.6px">Angle of incidence (°)</div>
<div class="t yl" style="left:353.3px;top:81.2px">Energy (eV)</div>
<div class="t yt" style="left:605.4px;top:49.5px">2.5</div>
<div class="t yt" style="left:605.4px;top:88.9px">2</div>
<div class="t yt" style="left:605.4px;top:128.2px">1.5</div>
<div class="t xt" style="left:627.0px;top:152.8px">0</div>
<div class="t xt" style="left:691.4px;top:152.8px">20</div>
<div class="t xt" style="left:755.9px;top:152.8px">40</div>
<div class="t xl" style="left:619.5px;top:169.6px">Angle of incidence (°)</div>
<div class="t yl" style="left:552.3px;top:81.2px">Energy (eV)</div>
<div class="t yt" style="left:1.4px;top:231.5px">2.5</div>
<div class="t yt" style="left:1.4px;top:270.9px">2</div>
<div class="t yt" style="left:1.4px;top:310.2px">1.5</div>
<div class="t xt" style="left:23.0px;top:334.8px">0</div>
<div class="t xt" style="left:87.4px;top:334.8px">20</div>
<div class="t xt" style="left:151.9px;top:334.8px">40</div>
<div class="t xl" style="left:15.5px;top:351.6px">Angle of incidence (°)</div>
<div class="t yl" style="left:-51.7px;top:263.2px">Energy (eV)</div>
<div class="t yt" style="left:200.4px;top:231.5px">2.5</div>
<div class="t yt" style="left:200.4px;top:270.9px">2</div>
<div class="t yt" style="left:200.4px;top:310.2px">1.5</div>
<div class="t xt" style="left:222.0px;top:334.8px">0</div>
<div class="t xt" style="left:286.4px;top:334.8px">20</div>
<div class="t xt" style="left:350.9px;top:334.8px">40</div>
<div class="t xl" style="left:214.5px;top:351.6px">Angle of incidence (°)</div>
<div class="t yl" style="left:147.3px;top:263.2px">Energy (eV)</div>
<div class="t yt" style="left:407.4px;top:231.5px">2.5</div>
<div class="t yt" style="left:407.4px;top:270.9px">2</div>
<div class="t yt" style="left:407.4px;top:310.2px">1.5</div>
<div class="t xt" style="left:429.0px;top:334.8px">0</div>
<div class="t xt" style="left:493.4px;top:334.8px">20</div>
<div class="t xt" style="left:557.9px;top:334.8px">40</div>
<div class="t xl" style="left:421.5px;top:351.6px">Angle of incidence (°)</div>
<div class="t yl" style="left:354.3px;top:263.2px">Energy (eV)</div>
<div class="t yt" style="left:605.4px;top:231.5px">2.5</div>
<div class="t yt" style="left:605.4px;top:270.9px">2</div>
<div class="t yt" style="left:605.4px;top:310.2px">1.5</div>
<div class="t xt" style="left:627.0px;top:334.8px">0</div>
<div class="t xt" style="left:691.4px;top:334.8px">20</div>
<div class="t xt" style="left:755.9px;top:334.8px">40</div>
<div class="t xl" style="left:619.5px;top:351.6px">Angle of incidence (°)</div>
<div class="t yl" style="left:552.3px;top:263.2px">Energy (eV)</div>
<div class="cb" style="top:25px;background:linear-gradient(to top,#000080 0%,#0000ff 12.5%,#00ffff 37.5%,#ffff00 62.5%,#ff0000 87.5%,#800000 100%)"></div>
<div class="cb" style="top:207px;background:linear-gradient(to top,#000080 0%,#0000ff 12.5%,#00ffff 37.5%,#ffff00 62.5%,#ff0000 87.5%,#800000 100%)"></div>
<div class="t cl" style="left:808px;top:18.0px">0.99</div>
<div class="t cl" style="left:808px;top:90.1px">0.9</div>
<div class="t cl" style="left:808px;top:116.4px">0.7</div>
<div class="t cl" style="left:808px;top:128.3px">0.5</div>
<div class="t cl" style="left:808px;top:144.4px">0</div>
<div class="t cl" style="left:808px;top:211.6px">0.9</div>
<div class="t cl" style="left:808px;top:267.3px">0.7</div>
<div class="t cl" style="left:808px;top:292.4px">0.5</div>
<div class="t cl" style="left:808px;top:326.6px">0</div>
<div style="position:absolute;left:798px;top:24.1px;width:1.5px;height:1px;background:rgba(0,0,0,.45)"></div>
<div style="position:absolute;left:804.5px;top:24.1px;width:1.5px;height:1px;background:rgba(0,0,0,.45)"></div>
<div style="position:absolute;left:798px;top:96.2px;width:1.5px;height:1px;background:rgba(0,0,0,.45)"></div>
<div style="position:absolute;left:804.5px;top:96.2px;width:1.5px;height:1px;background:rgba(0,0,0,.45)"></div>
<div style="position:absolute;left:798px;top:122.5px;width:1.5px;height:1px;background:rgba(0,0,0,.45)"></div>
<div style="position:absolute;left:804.5px;top:122.5px;width:1.5px;height:1px;background:rgba(0,0,0,.45)"></div>
<div style="position:absolute;left:798px;top:134.4px;width:1.5px;height:1px;background:rgba(0,0,0,.45)"></div>
<div style="position:absolute;left:804.5px;top:134.4px;width:1.5px;height:1px;background:rgba(0,0,0,.45)"></div>
<div style="position:absolute;left:798px;top:150.5px;width:1.5px;height:1px;background:rgba(0,0,0,.45)"></div>
<div style="position:absolute;left:804.5px;top:150.5px;width:1.5px;height:1px;background:rgba(0,0,0,.45)"></div>
<div style="position:absolute;left:798px;top:217.7px;width:1.5px;height:1px;background:rgba(0,0,0,.45)"></div>
<div style="position:absolute;left:804.5px;top:217.7px;width:1.5px;height:1px;background:rgba(0,0,0,.45)"></div>
<div style="position:absolute;left:798px;top:273.4px;width:1.5px;height:1px;background:rgba(0,0,0,.45)"></div>
<div style="position:absolute;left:804.5px;top:273.4px;width:1.5px;height:1px;background:rgba(0,0,0,.45)"></div>
<div style="position:absolute;left:798px;top:298.5px;width:1.5px;height:1px;background:rgba(0,0,0,.45)"></div>
<div style="position:absolute;left:804.5px;top:298.5px;width:1.5px;height:1px;background:rgba(0,0,0,.45)"></div>
<div style="position:absolute;left:798px;top:332.7px;width:1.5px;height:1px;background:rgba(0,0,0,.45)"></div>
<div style="position:absolute;left:804.5px;top:332.7px;width:1.5px;height:1px;background:rgba(0,0,0,.45)"></div>
<svg class="dl" style="left:0;top:0" width="844" height="368" viewBox="0 0 844 368"><line x1="70.5" y1="53.4" x2="184.1" y2="41.4" stroke="#000" stroke-width="1.6" stroke-dasharray="4.4 4"/><line x1="70.5" y1="94.3" x2="133.3" y2="86.7" stroke="#000" stroke-width="1.6" stroke-dasharray="4.4 4"/><line x1="287.5" y1="48.4" x2="382.7" y2="34.8" stroke="#000" stroke-width="1.6" stroke-dasharray="4.4 4"/><line x1="287.5" y1="86.7" x2="382.2" y2="72.5" stroke="#000" stroke-width="1.6" stroke-dasharray="4.4 4"/></svg>
</body></html>
